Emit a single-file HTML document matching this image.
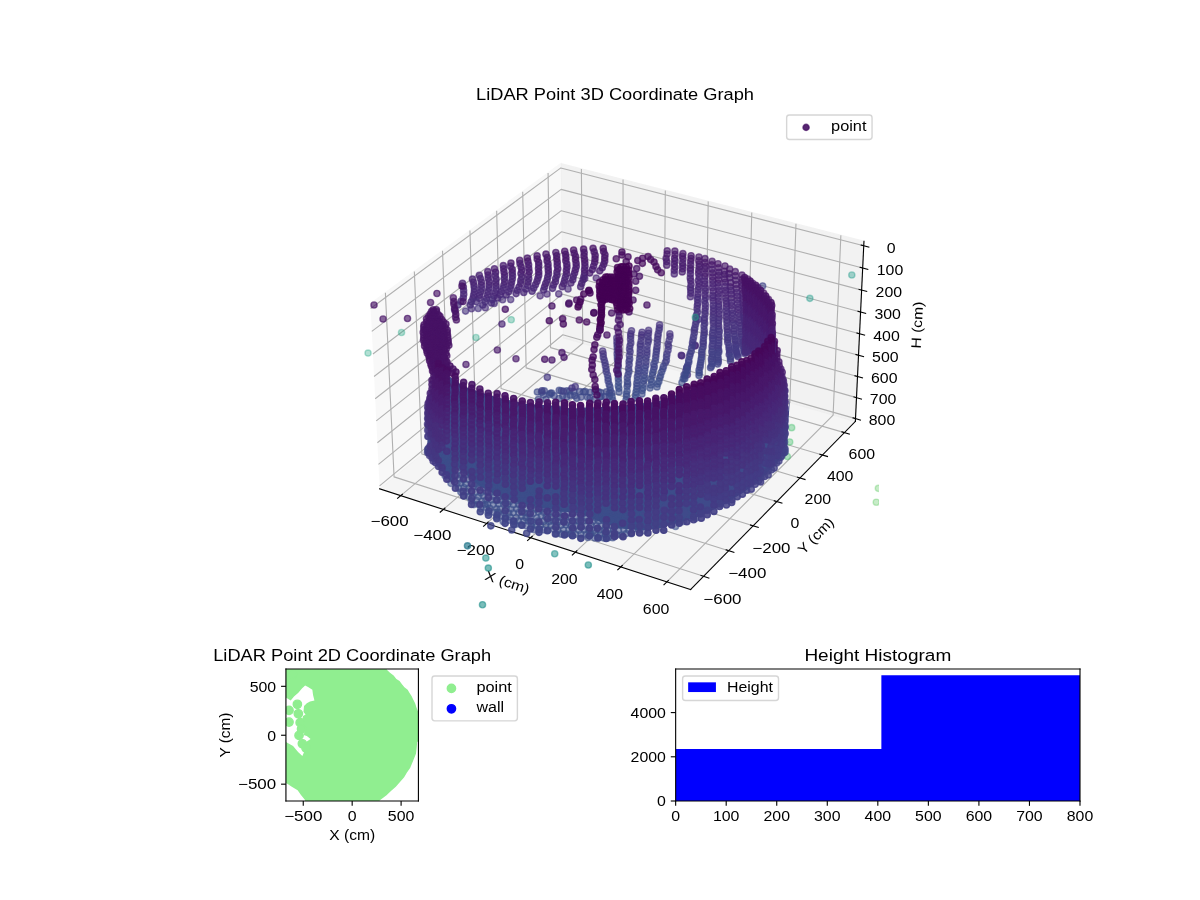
<!DOCTYPE html>
<html><head><meta charset="utf-8"><title>LiDAR Point Graphs</title><style>body{margin:0;background:#fff;overflow:hidden}svg{display:block;will-change:transform}#SCATTER3D circle{r:2.236px;stroke-width:1px}#SCATTER2D circle{r:3px;stroke-width:1px;fill:#90ee90;stroke:#90ee90}.c0{fill:#22a785;stroke:#22a785;fill-opacity:0.35;stroke-opacity:0.35}.c1{fill:#1e9c89;stroke:#1e9c89;fill-opacity:0.40;stroke-opacity:0.40}.c2{fill:#46c06f;stroke:#46c06f;fill-opacity:0.40;stroke-opacity:0.40}.c3{fill:#5ec962;stroke:#5ec962;fill-opacity:0.35;stroke-opacity:0.35}.c4{fill:#3d4e8a;stroke:#3d4e8a;fill-opacity:0.55;stroke-opacity:0.55}.c5{fill:#46327e;stroke:#46327e;fill-opacity:0.60;stroke-opacity:0.60}.c6{fill:#453781;stroke:#453781;fill-opacity:0.60;stroke-opacity:0.60}.c7{fill:#424086;stroke:#424086;fill-opacity:0.60;stroke-opacity:0.60}.c8{fill:#404588;stroke:#404588;fill-opacity:0.60;stroke-opacity:0.60}.c9{fill:#3e4989;stroke:#3e4989;fill-opacity:0.60;stroke-opacity:0.60}.c10{fill:#471365;stroke:#471365;fill-opacity:0.70;stroke-opacity:0.70}.c11{fill:#472d7b;stroke:#472d7b;fill-opacity:0.65;stroke-opacity:0.65}.c12{fill:#46327e;stroke:#46327e;fill-opacity:0.65;stroke-opacity:0.65}.c13{fill:#453781;stroke:#453781;fill-opacity:0.65;stroke-opacity:0.65}.c14{fill:#443b84;stroke:#443b84;fill-opacity:0.65;stroke-opacity:0.65}.c15{fill:#424086;stroke:#424086;fill-opacity:0.65;stroke-opacity:0.65}.c16{fill:#404588;stroke:#404588;fill-opacity:0.65;stroke-opacity:0.65}.c17{fill:#482878;stroke:#482878;fill-opacity:0.65;stroke-opacity:0.65}.c18{fill:#482374;stroke:#482374;fill-opacity:0.70;stroke-opacity:0.70}.c19{fill:#482878;stroke:#482878;fill-opacity:0.70;stroke-opacity:0.70}.c20{fill:#472d7b;stroke:#472d7b;fill-opacity:0.70;stroke-opacity:0.70}.c21{fill:#472d7b;stroke:#472d7b;fill-opacity:0.60;stroke-opacity:0.60}.c22{fill:#481d6f;stroke:#481d6f;fill-opacity:0.70;stroke-opacity:0.70}.c23{fill:#48186a;stroke:#48186a;fill-opacity:0.70;stroke-opacity:0.70}.c24{fill:#482878;stroke:#482878;fill-opacity:0.60;stroke-opacity:0.60}.c25{fill:#482374;stroke:#482374;fill-opacity:0.60;stroke-opacity:0.60}.c26{fill:#471365;stroke:#471365;fill-opacity:0.80;stroke-opacity:0.80}.c27{fill:#471365;stroke:#471365;fill-opacity:0.65;stroke-opacity:0.65}.c28{fill:#48186a;stroke:#48186a;fill-opacity:0.65;stroke-opacity:0.65}.c29{fill:#482374;stroke:#482374;fill-opacity:0.65;stroke-opacity:0.65}.c30{fill:#470d60;stroke:#470d60;fill-opacity:0.75;stroke-opacity:0.75}.c31{fill:#470d60;stroke:#470d60;fill-opacity:0.70;stroke-opacity:0.70}.c32{fill:#46075a;stroke:#46075a;fill-opacity:0.80;stroke-opacity:0.80}.c33{fill:#404588;stroke:#404588;fill-opacity:0.80;stroke-opacity:0.80}.c34{fill:#481d6f;stroke:#481d6f;fill-opacity:0.65;stroke-opacity:0.65}.c35{fill:#46327e;stroke:#46327e;fill-opacity:0.70;stroke-opacity:0.70}.c36{fill:#453781;stroke:#453781;fill-opacity:0.70;stroke-opacity:0.70}.c37{fill:#443b84;stroke:#443b84;fill-opacity:0.70;stroke-opacity:0.70}.c38{fill:#424086;stroke:#424086;fill-opacity:0.70;stroke-opacity:0.70}.c39{fill:#443b84;stroke:#443b84;fill-opacity:0.60;stroke-opacity:0.60}.c40{fill:#3d4e8a;stroke:#3d4e8a;fill-opacity:0.60;stroke-opacity:0.60}.c41{fill:#3e4989;stroke:#3e4989;fill-opacity:0.65;stroke-opacity:0.65}.c42{fill:#482374;stroke:#482374;fill-opacity:0.75;stroke-opacity:0.75}.c43{fill:#482878;stroke:#482878;fill-opacity:0.75;stroke-opacity:0.75}.c44{fill:#472d7b;stroke:#472d7b;fill-opacity:0.75;stroke-opacity:0.75}.c45{fill:#46327e;stroke:#46327e;fill-opacity:0.75;stroke-opacity:0.75}.c46{fill:#453781;stroke:#453781;fill-opacity:0.75;stroke-opacity:0.75}.c47{fill:#443b84;stroke:#443b84;fill-opacity:0.75;stroke-opacity:0.75}.c48{fill:#471365;stroke:#471365;fill-opacity:0.75;stroke-opacity:0.75}.c49{fill:#48186a;stroke:#48186a;fill-opacity:0.75;stroke-opacity:0.75}.c50{fill:#481d6f;stroke:#481d6f;fill-opacity:0.75;stroke-opacity:0.75}.c51{fill:#424086;stroke:#424086;fill-opacity:0.75;stroke-opacity:0.75}.c52{fill:#46075a;stroke:#46075a;fill-opacity:0.75;stroke-opacity:0.75}.c53{fill:#48186a;stroke:#48186a;fill-opacity:0.80;stroke-opacity:0.80}.c54{fill:#481d6f;stroke:#481d6f;fill-opacity:0.80;stroke-opacity:0.80}.c55{fill:#482374;stroke:#482374;fill-opacity:0.80;stroke-opacity:0.80}.c56{fill:#482878;stroke:#482878;fill-opacity:0.80;stroke-opacity:0.80}.c57{fill:#472d7b;stroke:#472d7b;fill-opacity:0.80;stroke-opacity:0.80}.c58{fill:#471365;stroke:#471365;fill-opacity:0.60;stroke-opacity:0.60}.c59{fill:#48186a;stroke:#48186a;fill-opacity:0.60;stroke-opacity:0.60}.c60{fill:#481d6f;stroke:#481d6f;fill-opacity:0.60;stroke-opacity:0.60}.c61{fill:#440154;stroke:#440154;fill-opacity:0.75;stroke-opacity:0.75}.c62{fill:#440154;stroke:#440154;fill-opacity:0.80;stroke-opacity:0.80}.c63{fill:#470d60;stroke:#470d60;fill-opacity:0.80;stroke-opacity:0.80}.c64{fill:#46327e;stroke:#46327e;fill-opacity:0.80;stroke-opacity:0.80}.c65{fill:#453781;stroke:#453781;fill-opacity:0.80;stroke-opacity:0.80}.c66{fill:#443b84;stroke:#443b84;fill-opacity:0.80;stroke-opacity:0.80}.c67{fill:#424086;stroke:#424086;fill-opacity:0.80;stroke-opacity:0.80}.c68{fill:#22a785;stroke:#22a785;fill-opacity:0.40;stroke-opacity:0.40}.c69{fill:#470d60;stroke:#470d60;fill-opacity:0.85;stroke-opacity:0.85}.c70{fill:#471365;stroke:#471365;fill-opacity:0.85;stroke-opacity:0.85}.c71{fill:#48186a;stroke:#48186a;fill-opacity:0.85;stroke-opacity:0.85}.c72{fill:#481d6f;stroke:#481d6f;fill-opacity:0.85;stroke-opacity:0.85}.c73{fill:#482374;stroke:#482374;fill-opacity:0.85;stroke-opacity:0.85}.c74{fill:#482878;stroke:#482878;fill-opacity:0.85;stroke-opacity:0.85}.c75{fill:#472d7b;stroke:#472d7b;fill-opacity:0.85;stroke-opacity:0.85}.c76{fill:#46327e;stroke:#46327e;fill-opacity:0.85;stroke-opacity:0.85}.c77{fill:#453781;stroke:#453781;fill-opacity:0.85;stroke-opacity:0.85}.c78{fill:#443b84;stroke:#443b84;fill-opacity:0.85;stroke-opacity:0.85}.c79{fill:#424086;stroke:#424086;fill-opacity:0.85;stroke-opacity:0.85}.c80{fill:#46075a;stroke:#46075a;fill-opacity:0.85;stroke-opacity:0.85}.c81{fill:#404588;stroke:#404588;fill-opacity:0.85;stroke-opacity:0.85}.c82{fill:#297a8e;stroke:#297a8e;fill-opacity:0.70;stroke-opacity:0.70}.c83{fill:#21918c;stroke:#21918c;fill-opacity:0.55;stroke-opacity:0.55}.c84{fill:#21918c;stroke:#21918c;fill-opacity:0.60;stroke-opacity:0.60}.c85{fill:#471365;stroke:#471365;fill-opacity:0.90;stroke-opacity:0.90}.c86{fill:#48186a;stroke:#48186a;fill-opacity:0.90;stroke-opacity:0.90}.c87{fill:#481d6f;stroke:#481d6f;fill-opacity:0.90;stroke-opacity:0.90}.c88{fill:#482374;stroke:#482374;fill-opacity:0.90;stroke-opacity:0.90}.c89{fill:#482878;stroke:#482878;fill-opacity:0.90;stroke-opacity:0.90}.c90{fill:#472d7b;stroke:#472d7b;fill-opacity:0.90;stroke-opacity:0.90}.c91{fill:#46327e;stroke:#46327e;fill-opacity:0.90;stroke-opacity:0.90}.c92{fill:#453781;stroke:#453781;fill-opacity:0.90;stroke-opacity:0.90}.c93{fill:#443b84;stroke:#443b84;fill-opacity:0.90;stroke-opacity:0.90}.c94{fill:#424086;stroke:#424086;fill-opacity:0.90;stroke-opacity:0.90}.c95{fill:#404588;stroke:#404588;fill-opacity:0.90;stroke-opacity:0.90}.c96{fill:#46075a;stroke:#46075a;fill-opacity:0.90;stroke-opacity:0.90}.c97{fill:#470d60;stroke:#470d60;fill-opacity:0.90;stroke-opacity:0.90}.c98{fill:#470d60;stroke:#470d60;fill-opacity:0.95;stroke-opacity:0.95}.c99{fill:#471365;stroke:#471365;fill-opacity:0.95;stroke-opacity:0.95}.c100{fill:#48186a;stroke:#48186a;fill-opacity:0.95;stroke-opacity:0.95}.c101{fill:#481d6f;stroke:#481d6f;fill-opacity:0.95;stroke-opacity:0.95}.c102{fill:#482374;stroke:#482374;fill-opacity:0.95;stroke-opacity:0.95}.c103{fill:#482878;stroke:#482878;fill-opacity:0.95;stroke-opacity:0.95}.c104{fill:#472d7b;stroke:#472d7b;fill-opacity:0.95;stroke-opacity:0.95}.c105{fill:#46327e;stroke:#46327e;fill-opacity:0.95;stroke-opacity:0.95}.c106{fill:#453781;stroke:#453781;fill-opacity:0.95;stroke-opacity:0.95}.c107{fill:#443b84;stroke:#443b84;fill-opacity:0.95;stroke-opacity:0.95}.c108{fill:#424086;stroke:#424086;fill-opacity:0.95;stroke-opacity:0.95}.c109{fill:#404588;stroke:#404588;fill-opacity:0.95;stroke-opacity:0.95}.c110{fill:#46075a;stroke:#46075a;fill-opacity:0.95;stroke-opacity:0.95}</style></head><body>
<svg width="1200" height="900" viewBox="0 0 864 648" version="1.1">
<defs>
<style type="text/css">*{stroke-linejoin: round; stroke-linecap: butt}</style>
</defs>
<g id="figure_1">
<g id="patch_1">
<path d="M 0 648
L 864 648
L 864 0
L 0 0
z
" style="fill: #ffffff"/>
</g>
<g id="patch_2">
<path d="M 252.72 457.92
L 632.88 457.92
L 632.88 77.76
L 252.72 77.76
z
" style="fill: #ffffff"/>
</g>
<g id="pane3d_1">
<g id="patch_3">
<path d="M 266.682721 218.755904
L 403.766165 117.793771
L 405.259277 243.004154
L 273.381637 351.924073
" style="fill: #f2f2f2; opacity: 0.5; stroke: #f2f2f2; stroke-linejoin: miter"/>
</g>
</g>
<g id="pane3d_2">
<g id="patch_4">
<path d="M 403.766165 117.793771
L 622.045246 173.710173
L 615.855154 303.415894
L 405.259277 243.004154
" style="fill: #e6e6e6; opacity: 0.5; stroke: #e6e6e6; stroke-linejoin: miter"/>
</g>
</g>
<g id="pane3d_3">
<g id="patch_5">
<path d="M 273.381637 351.924073
L 497.254139 424.492779
L 615.855154 303.415894
L 405.259277 243.004154
" style="fill: #ececec; opacity: 0.5; stroke: #ececec; stroke-linejoin: miter"/>
</g>
</g>
<g id="grid3d_1">
<g id="Line3DCollection_1">
<path d="M 288.551702 356.841478
L 419.594289 247.11631
L 418.599077 121.593507
" style="fill: none; stroke: #b0b0b0; stroke-width: 0.8"/>
<path d="M 319.24543 366.79091
L 448.569614 255.4282
L 448.59198 129.276769
" style="fill: none; stroke: #b0b0b0; stroke-width: 0.8"/>
<path d="M 350.419853 376.89616
L 477.959284 263.858949
L 479.029061 137.073815
" style="fill: none; stroke: #b0b0b0; stroke-width: 0.8"/>
<path d="M 382.086354 387.160917
L 507.77225 272.411126
L 509.920262 144.987193
" style="fill: none; stroke: #b0b0b0; stroke-width: 0.8"/>
<path d="M 414.256674 397.588989
L 538.017723 281.087372
L 541.275822 153.019525
" style="fill: none; stroke: #b0b0b0; stroke-width: 0.8"/>
<path d="M 446.942935 408.184304
L 568.705184 289.890407
L 573.10629 161.173515
" style="fill: none; stroke: #b0b0b0; stroke-width: 0.8"/>
<path d="M 480.157649 418.950918
L 599.844393 298.823031
L 605.422539 169.451946
" style="fill: none; stroke: #b0b0b0; stroke-width: 0.8"/>
</g>
</g>
<g id="grid3d_2">
<g id="Line3DCollection_2">
<path d="M 277.481047 210.802923
L 283.738628 343.370063
L 506.610126 414.941479
" style="fill: none; stroke: #b0b0b0; stroke-width: 0.8"/>
<path d="M 298.324514 195.451683
L 303.745289 326.846232
L 524.662954 396.511788
" style="fill: none; stroke: #b0b0b0; stroke-width: 0.8"/>
<path d="M 318.611438 180.510337
L 323.236856 310.747825
L 542.22545 378.582663
" style="fill: none; stroke: #b0b0b0; stroke-width: 0.8"/>
<path d="M 338.363815 165.962686
L 342.23297 295.058621
L 559.317326 361.133984
" style="fill: none; stroke: #b0b0b0; stroke-width: 0.8"/>
<path d="M 357.602499 151.79337
L 360.752284 279.763214
L 575.957246 344.146695
" style="fill: none; stroke: #b0b0b0; stroke-width: 0.8"/>
<path d="M 376.347272 137.987821
L 378.812527 264.846961
L 592.162904 327.602734
" style="fill: none; stroke: #b0b0b0; stroke-width: 0.8"/>
<path d="M 394.616912 124.532207
L 396.43056 250.295937
L 607.951081 311.484969
" style="fill: none; stroke: #b0b0b0; stroke-width: 0.8"/>
</g>
</g>
<g id="grid3d_3">
<g id="Line3DCollection_3">
<path d="M 621.891374 176.934368
L 403.803215 120.900723
L 266.849478 222.070878
" style="fill: none; stroke: #b0b0b0; stroke-width: 0.8"/>
<path d="M 621.126076 192.970234
L 403.987536 136.357629
L 267.678682 238.554672
" style="fill: none; stroke: #b0b0b0; stroke-width: 0.8"/>
<path d="M 620.367483 208.86562
L 404.170323 151.685964
L 268.500326 254.888195
" style="fill: none; stroke: #b0b0b0; stroke-width: 0.8"/>
<path d="M 619.615506 224.622365
L 404.351597 166.887325
L 269.314515 271.073493
" style="fill: none; stroke: #b0b0b0; stroke-width: 0.8"/>
<path d="M 618.870059 240.242275
L 404.531375 181.963285
L 270.121348 287.112573
" style="fill: none; stroke: #b0b0b0; stroke-width: 0.8"/>
<path d="M 618.131058 255.727125
L 404.709676 196.915387
L 270.920924 303.007409
" style="fill: none; stroke: #b0b0b0; stroke-width: 0.8"/>
<path d="M 617.39842 271.078658
L 404.886519 211.745153
L 271.713343 318.759938
" style="fill: none; stroke: #b0b0b0; stroke-width: 0.8"/>
<path d="M 616.672062 286.29859
L 405.06192 226.454077
L 272.498698 334.372063
" style="fill: none; stroke: #b0b0b0; stroke-width: 0.8"/>
<path d="M 615.951904 301.388604
L 405.235898 241.043631
L 273.277084 349.845651
" style="fill: none; stroke: #b0b0b0; stroke-width: 0.8"/>
</g>
</g>
<g id="axis3d_1">
<g id="line2d_1">
<path d="M 273.381637 351.924073
L 497.254139 424.492779
" style="fill: none; stroke: #000000; stroke-width: 0.8; stroke-linecap: square"/>
</g>
<g id="xtick_1">
<g id="line2d_2">
<path d="M 289.69743 355.882132
L 286.255083 358.764493
" style="fill: none; stroke: #000000; stroke-width: 0.8; stroke-linecap: square"/>
</g>
<g id="text_1">
<text style="font-size: 10px; font-family: 'Liberation Sans', sans-serif; text-anchor: middle" x="280.544485" y="378.924494" transform="rotate(-0 280.544485 378.924494)" textLength="27.47" lengthAdjust="spacingAndGlyphs">−600</text>
</g>
</g>
<g id="xtick_2">
<g id="line2d_3">
<path d="M 320.37688 365.816604
L 316.977392 368.743946
" style="fill: none; stroke: #000000; stroke-width: 0.8; stroke-linecap: square"/>
</g>
<g id="text_2">
<text style="font-size: 10px; font-family: 'Liberation Sans', sans-serif; text-anchor: middle" x="311.277844" y="389.019921" transform="rotate(-0 311.277844 389.019921)" textLength="27.47" lengthAdjust="spacingAndGlyphs">−400</text>
</g>
</g>
<g id="xtick_3">
<g id="line2d_4">
<path d="M 351.536436 375.906541
L 348.181578 378.879926
" style="fill: none; stroke: #000000; stroke-width: 0.8; stroke-linecap: square"/>
</g>
<g id="text_3">
<text style="font-size: 10px; font-family: 'Liberation Sans', sans-serif; text-anchor: middle" x="342.494133" y="399.273982" transform="rotate(-0 342.494133 399.273982)" textLength="27.47" lengthAdjust="spacingAndGlyphs">−200</text>
</g>
</g>
<g id="xtick_4">
<g id="line2d_5">
<path d="M 383.187457 386.155622
L 379.879068 389.176144
" style="fill: none; stroke: #000000; stroke-width: 0.8; stroke-linecap: square"/>
</g>
<g id="text_4">
<text style="font-size: 10px; font-family: 'Liberation Sans', sans-serif; text-anchor: middle" x="374.204823" y="409.690446" transform="rotate(-0 374.204823 409.690446)" textLength="6.36" lengthAdjust="spacingAndGlyphs">0</text>
</g>
</g>
<g id="xtick_5">
<g id="line2d_6">
<path d="M 415.341663 396.567642
L 412.081652 399.636431
" style="fill: none; stroke: #000000; stroke-width: 0.8; stroke-linecap: square"/>
</g>
<g id="text_5">
<text style="font-size: 10px; font-family: 'Liberation Sans', sans-serif; text-anchor: middle" x="406.421753" y="420.273202" transform="rotate(-0 406.421753 420.273202)" textLength="19.09" lengthAdjust="spacingAndGlyphs">200</text>
</g>
</g>
<g id="xtick_6">
<g id="line2d_7">
<path d="M 448.01115 407.146518
L 444.801501 410.26474
" style="fill: none; stroke: #000000; stroke-width: 0.8; stroke-linecap: square"/>
</g>
<g id="text_6">
<text style="font-size: 10px; font-family: 'Liberation Sans', sans-serif; text-anchor: middle" x="439.157146" y="431.026265" transform="rotate(-0 439.157146 431.026265)" textLength="19.09" lengthAdjust="spacingAndGlyphs">400</text>
</g>
</g>
<g id="xtick_7">
<g id="line2d_8">
<path d="M 481.208402 417.896292
L 478.051179 421.065152
" style="fill: none; stroke: #000000; stroke-width: 0.8; stroke-linecap: square"/>
</g>
<g id="text_7">
<text style="font-size: 10px; font-family: 'Liberation Sans', sans-serif; text-anchor: middle" x="472.423616" y="441.953779" transform="rotate(-0 472.423616 441.953779)" textLength="19.09" lengthAdjust="spacingAndGlyphs">600</text>
</g>
</g>
<g id="text_8">
<text style="font-size: 10px; font-family: 'Liberation Sans', sans-serif; text-anchor: middle" x="364.169584" y="422.419328" transform="rotate(-342.039797 364.169584 422.419328)" textLength="33.07" lengthAdjust="spacingAndGlyphs">X (cm)</text>
</g>
</g>
<g id="axis3d_2">
<g id="line2d_9">
<path d="M 615.855154 303.415894
L 497.254139 424.492779
" style="fill: none; stroke: #000000; stroke-width: 0.8; stroke-linecap: square"/>
</g>
<g id="xtick_8">
<g id="line2d_10">
<path d="M 504.727293 414.336839
L 510.380903 416.1524
" style="fill: none; stroke: #000000; stroke-width: 0.8; stroke-linecap: square"/>
</g>
<g id="text_9">
<text style="font-size: 10px; font-family: 'Liberation Sans', sans-serif; text-anchor: middle" x="520.167634" y="434.618741" transform="rotate(-0 520.167634 434.618741)" textLength="27.47" lengthAdjust="spacingAndGlyphs">−600</text>
</g>
</g>
<g id="xtick_9">
<g id="line2d_11">
<path d="M 522.797989 395.923678
L 528.397875 397.689581
" style="fill: none; stroke: #000000; stroke-width: 0.8; stroke-linecap: square"/>
</g>
<g id="text_10">
<text style="font-size: 10px; font-family: 'Liberation Sans', sans-serif; text-anchor: middle" x="538.051943" y="416.003881" transform="rotate(-0 538.051943 416.003881)" textLength="27.47" lengthAdjust="spacingAndGlyphs">−400</text>
</g>
</g>
<g id="xtick_10">
<g id="line2d_12">
<path d="M 540.378084 378.010415
L 545.92506 379.72867
" style="fill: none; stroke: #000000; stroke-width: 0.8; stroke-linecap: square"/>
</g>
<g id="text_11">
<text style="font-size: 10px; font-family: 'Liberation Sans', sans-serif; text-anchor: middle" x="555.450012" y="397.895124" transform="rotate(-0 555.450012 397.895124)" textLength="27.47" lengthAdjust="spacingAndGlyphs">−200</text>
</g>
</g>
<g id="xtick_11">
<g id="line2d_13">
<path d="M 557.487291 360.576965
L 562.982162 362.249474
" style="fill: none; stroke: #000000; stroke-width: 0.8; stroke-linecap: square"/>
</g>
<g id="text_12">
<text style="font-size: 10px; font-family: 'Liberation Sans', sans-serif; text-anchor: middle" x="572.381406" y="380.272105" transform="rotate(-0 572.381406 380.272105)" textLength="6.36" lengthAdjust="spacingAndGlyphs">0</text>
</g>
</g>
<g id="xtick_12">
<g id="line2d_14">
<path d="M 574.144278 343.604304
L 579.587843 345.232871
" style="fill: none; stroke: #000000; stroke-width: 0.8; stroke-linecap: square"/>
</g>
<g id="text_13">
<text style="font-size: 10px; font-family: 'Liberation Sans', sans-serif; text-anchor: middle" x="588.864652" y="363.11554" transform="rotate(-0 588.864652 363.11554)" textLength="19.09" lengthAdjust="spacingAndGlyphs">200</text>
</g>
</g>
<g id="xtick_13">
<g id="line2d_15">
<path d="M 590.36674 327.074403
L 595.759788 328.660736
" style="fill: none; stroke: #000000; stroke-width: 0.8; stroke-linecap: square"/>
</g>
<g id="text_14">
<text style="font-size: 10px; font-family: 'Liberation Sans', sans-serif; text-anchor: middle" x="604.91731" y="346.407151" transform="rotate(-0 604.91731 346.407151)" textLength="19.09" lengthAdjust="spacingAndGlyphs">400</text>
</g>
</g>
<g id="xtick_14">
<g id="line2d_16">
<path d="M 606.171463 310.970158
L 611.514772 312.51588
" style="fill: none; stroke: #000000; stroke-width: 0.8; stroke-linecap: square"/>
</g>
<g id="text_15">
<text style="font-size: 10px; font-family: 'Liberation Sans', sans-serif; text-anchor: middle" x="620.556036" y="330.129604" transform="rotate(-0 620.556036 330.129604)" textLength="19.09" lengthAdjust="spacingAndGlyphs">600</text>
</g>
</g>
<g id="text_16">
<text style="font-size: 10px; font-family: 'Liberation Sans', sans-serif; text-anchor: middle" x="589.746468" y="388.153905" transform="rotate(-45.591844 589.746468 388.153905)" textLength="32.33" lengthAdjust="spacingAndGlyphs">Y (cm)</text>
</g>
</g>
<g id="axis3d_3">
<g id="line2d_17">
<path d="M 615.855154 303.415894
L 622.045246 173.710173
" style="fill: none; stroke: #000000; stroke-width: 0.8; stroke-linecap: square"/>
</g>
<g id="xtick_15">
<g id="line2d_18">
<path d="M 620.05387 176.462256
L 625.571118 177.879809
" style="fill: none; stroke: #000000; stroke-width: 0.8; stroke-linecap: square"/>
</g>
<g id="text_17">
<text style="font-size: 10px; font-family: 'Liberation Sans', sans-serif; text-anchor: middle" x="641.65493" y="182.020263" transform="rotate(-0 641.65493 182.020263)" textLength="6.36" lengthAdjust="spacingAndGlyphs">0</text>
</g>
</g>
<g id="xtick_16">
<g id="line2d_19">
<path d="M 619.296979 192.493349
L 624.788963 193.925226
" style="fill: none; stroke: #000000; stroke-width: 0.8; stroke-linecap: square"/>
</g>
<g id="text_18">
<text style="font-size: 10px; font-family: 'Liberation Sans', sans-serif; text-anchor: middle" x="640.804621" y="198.030711" transform="rotate(-0 640.804621 198.030711)" textLength="19.09" lengthAdjust="spacingAndGlyphs">100</text>
</g>
</g>
<g id="xtick_17">
<g id="line2d_20">
<path d="M 618.546717 208.384065
L 624.013666 209.82996
" style="fill: none; stroke: #000000; stroke-width: 0.8; stroke-linecap: square"/>
</g>
<g id="text_19">
<text style="font-size: 10px; font-family: 'Liberation Sans', sans-serif; text-anchor: middle" x="639.961744" y="213.90122" transform="rotate(-0 639.961744 213.90122)" textLength="19.09" lengthAdjust="spacingAndGlyphs">200</text>
</g>
</g>
<g id="xtick_18">
<g id="line2d_21">
<path d="M 617.802995 224.136239
L 623.245137 225.595854
" style="fill: none; stroke: #000000; stroke-width: 0.8; stroke-linecap: square"/>
</g>
<g id="text_20">
<text style="font-size: 10px; font-family: 'Liberation Sans', sans-serif; text-anchor: middle" x="639.126202" y="229.633617" transform="rotate(-0 639.126202 229.633617)" textLength="19.09" lengthAdjust="spacingAndGlyphs">300</text>
</g>
</g>
<g id="xtick_19">
<g id="line2d_22">
<path d="M 617.06573 239.751676
L 622.483288 241.224717
" style="fill: none; stroke: #000000; stroke-width: 0.8; stroke-linecap: square"/>
</g>
<g id="text_21">
<text style="font-size: 10px; font-family: 'Liberation Sans', sans-serif; text-anchor: middle" x="638.2979" y="245.229696" transform="rotate(-0 638.2979 245.229696)" textLength="19.09" lengthAdjust="spacingAndGlyphs">400</text>
</g>
</g>
<g id="xtick_20">
<g id="line2d_23">
<path d="M 616.334836 255.232147
L 621.728031 256.718329
" style="fill: none; stroke: #000000; stroke-width: 0.8; stroke-linecap: square"/>
</g>
<g id="text_22">
<text style="font-size: 10px; font-family: 'Liberation Sans', sans-serif; text-anchor: middle" x="637.476744" y="260.691223" transform="rotate(-0 637.476744 260.691223)" textLength="19.09" lengthAdjust="spacingAndGlyphs">500</text>
</g>
</g>
<g id="xtick_21">
<g id="line2d_24">
<path d="M 615.610233 270.579395
L 620.979283 272.078438
" style="fill: none; stroke: #000000; stroke-width: 0.8; stroke-linecap: square"/>
</g>
<g id="text_23">
<text style="font-size: 10px; font-family: 'Liberation Sans', sans-serif; text-anchor: middle" x="636.662642" y="276.019929" transform="rotate(-0 636.662642 276.019929)" textLength="19.09" lengthAdjust="spacingAndGlyphs">600</text>
</g>
</g>
<g id="xtick_22">
<g id="line2d_25">
<path d="M 614.891839 285.795133
L 620.236958 287.306762
" style="fill: none; stroke: #000000; stroke-width: 0.8; stroke-linecap: square"/>
</g>
<g id="text_24">
<text style="font-size: 10px; font-family: 'Liberation Sans', sans-serif; text-anchor: middle" x="635.855504" y="291.217521" transform="rotate(-0 635.855504 291.217521)" textLength="19.09" lengthAdjust="spacingAndGlyphs">700</text>
</g>
</g>
<g id="xtick_23">
<g id="line2d_26">
<path d="M 614.179574 300.881043
L 619.500976 302.404989
" style="fill: none; stroke: #000000; stroke-width: 0.8; stroke-linecap: square"/>
</g>
<g id="text_25">
<text style="font-size: 10px; font-family: 'Liberation Sans', sans-serif; text-anchor: middle" x="635.05524" y="306.285672" transform="rotate(-0 635.05524 306.285672)" textLength="19.09" lengthAdjust="spacingAndGlyphs">800</text>
</g>
</g>
<g id="text_26">
<text style="font-size: 10px; font-family: 'Liberation Sans', sans-serif; text-anchor: middle" x="663.779731" y="234.208749" transform="rotate(-87.267682 663.779731 234.208749)" textLength="33.74" lengthAdjust="spacingAndGlyphs">H (cm)</text>
</g>
</g>
<g id="axes_1">
<g id="SCATTER3D">
<defs>
<path id="ma6bd53de34" d="M 0 2.236068
C 0.593012 2.236068 1.161816 2.000462 1.581139 1.581139
C 2.000462 1.161816 2.236068 0.593012 2.236068 0
C 2.236068 -0.593012 2.000462 -1.161816 1.581139 -1.581139
C 1.161816 -2.000462 0.593012 -2.236068 0 -2.236068
C -0.593012 -2.236068 -1.161816 -2.000462 -1.581139 -1.581139
C -2.000462 -1.161816 -2.236068 -0.593012 -2.236068 0
C -2.236068 0.593012 -2.000462 1.161816 -1.581139 1.581139
C -1.161816 2.000462 -0.593012 2.236068 0 2.236068
z
" style="stroke: #450e63; stroke-opacity: 0.7"/>
</defs>
<g clip-path="url(#pcbff7d88e8)">
<circle class="c0" cx="265.0" cy="254.2" r="2.236"/>
<circle class="c0" cx="289.1" cy="239.4" r="2.236"/>
<circle class="c0" cx="342.7" cy="243.0" r="2.236"/>
<circle class="c0" cx="368.1" cy="230.2" r="2.236"/>
<circle class="c1" cx="613.3" cy="198.0" r="2.236"/>
<circle class="c1" cx="583.1" cy="214.8" r="2.236"/>
<circle class="c2" cx="570.0" cy="307.9" r="2.236"/>
<circle class="c2" cx="568.6" cy="318.2" r="2.236"/>
<circle class="c2" cx="566.9" cy="328.7" r="2.236"/>
<circle class="c3" cx="632.4" cy="351.6" r="2.236"/>
<circle class="c3" cx="630.9" cy="361.6" r="2.236"/>
<defs><linearGradient id="gfill" x1="0" y1="0" x2="0" y2="1"><stop offset="0" stop-color="#41408a"/><stop offset="0.3" stop-color="#3e4a8a"/><stop offset="1" stop-color="#3f4a8a"/></linearGradient></defs><path d="M308.2 293.8 310.3 281.8 312.5 269.8 314.6 265.0 316.8 265.0 319.0 267.1 321.1 269.3 323.3 270.8 325.4 272.3 327.6 273.8 329.8 275.3 331.9 276.8 334.1 278.2 336.2 279.0 338.4 279.7 340.6 280.5 342.7 281.2 344.9 282.0 347.0 282.7 349.2 283.4 351.4 284.1 353.5 284.8 355.7 285.5 357.8 286.0 360.0 286.5 362.2 287.0 364.3 287.5 366.5 288.0 368.6 288.5 370.8 288.9 373.0 289.4 375.1 289.9 377.3 290.3 379.4 290.8 381.6 290.9 383.8 291.1 385.9 291.2 388.1 291.4 390.2 291.5 392.4 291.7 394.6 291.8 396.7 292.0 398.9 292.1 401.0 292.2 403.2 292.5 405.4 293.0 407.5 293.4 409.7 293.9 411.8 294.2 414.0 294.0 416.2 293.9 418.3 293.7 420.5 293.5 422.6 293.3 424.8 293.2 427.0 293.2 429.1 293.2 431.3 293.1 433.4 293.1 435.6 293.0 437.8 292.9 439.9 292.7 442.1 292.6 444.2 292.4 446.4 292.2 448.6 292.0 450.7 291.7 452.9 291.4 455.0 291.1 457.2 290.9 459.4 290.7 461.5 290.5 463.7 290.2 465.8 290.0 468.0 289.8 470.2 289.6 472.3 289.4 474.5 288.7 476.6 288.0 478.8 287.3 481.0 286.6 483.1 285.8 485.3 285.1 487.4 284.3 489.6 283.5 491.8 282.7 493.9 281.9 496.1 281.1 498.2 280.1 500.4 279.0 502.6 277.9 504.7 276.8 506.9 275.8 509.0 274.7 511.2 273.8 513.4 272.9 515.5 272.0 517.7 271.0 519.8 270.1 522.0 269.2 524.2 268.3 526.3 267.3 528.5 266.4 530.6 265.2 532.8 263.9 535.0 262.7 537.1 261.5 539.3 260.2 541.4 258.9 543.6 257.6 545.8 256.3 547.9 254.7 550.1 253.1 552.2 250.6 554.4 246.2 556.6 247.3 558.7 253.0 560.9 262.3 563.0 271.4 565.2 283.7 567.4 293.0 565.9 302.4 564.5 316.8 568.8 286.0 566.6 320.7 564.5 324.4 562.3 328.2 560.2 331.7 558.0 334.2 555.8 336.7 553.7 339.2 551.5 341.7 549.4 343.5 547.2 345.2 545.0 346.9 542.9 348.6 540.7 350.4 538.6 352.1 536.4 353.8 534.2 355.3 532.1 356.6 529.9 357.9 527.8 359.2 525.6 360.5 523.4 361.8 521.3 363.1 519.1 364.3 517.0 365.4 514.8 366.4 512.6 367.5 510.5 368.6 508.3 369.7 506.2 370.7 504.0 371.7 501.8 372.3 499.7 373.0 497.5 373.6 495.4 374.3 493.2 374.9 491.0 375.6 488.9 376.2 486.7 376.9 484.6 377.5 482.4 378.2 480.2 378.8 478.1 379.5 475.9 380.1 473.8 380.8 471.6 381.1 469.4 381.3 467.3 381.5 465.1 381.7 463.0 381.9 460.8 382.2 458.6 381.6 456.5 381.2 454.3 381.1 452.2 380.9 450.0 380.7 447.8 380.5 445.7 380.1 443.5 379.4 441.4 378.8 439.2 378.1 437.0 377.5 434.9 376.8 432.7 376.0 430.6 375.1 428.4 374.2 426.2 373.3 424.1 372.4 421.9 371.5 419.8 370.6 417.6 369.6 415.4 369.4 413.3 369.2 411.1 368.9 409.0 368.7 406.8 368.5 404.6 368.3 402.5 368.0 400.3 367.4 398.2 367.0 396.0 366.6 393.8 366.3 391.7 365.9 389.5 365.5 387.4 365.2 385.2 364.8 383.0 364.3 380.9 363.8 378.7 363.2 376.6 362.7 374.4 362.1 372.2 361.6 370.1 361.0 367.9 360.2 365.8 359.5 363.6 358.7 361.4 358.0 359.3 357.2 357.1 356.2 355.0 355.1 352.8 354.0 350.6 352.9 348.5 351.8 346.3 350.7 344.2 349.1 342.0 347.3 339.8 345.4 337.7 343.6 335.5 341.7 333.4 339.8 331.2 337.6 329.0 335.4 326.9 349.1 324.7 346.9 322.6 344.7 320.4 341.9 318.2 338.9 316.1 336.0 313.9 333.0 311.8 329.8 309.6 326.6 307.4 323.3 308.2 309.6 308.2 288.0Z" fill="url(#gfill)" />
<circle class="c4" cx="314.2" cy="323.8" r="2.236"/>
<circle class="c4" cx="317.0" cy="323.5" r="2.236"/>
<circle class="c4" cx="321.0" cy="324.5" r="2.236"/>
<circle class="c4" cx="325.0" cy="323.8" r="2.236"/>
<circle class="c4" cx="328.6" cy="323.6" r="2.236"/>
<circle class="c4" cx="332.3" cy="323.8" r="2.236"/>
<circle class="c4" cx="335.8" cy="324.2" r="2.236"/>
<circle class="c4" cx="315.6" cy="327.1" r="2.236"/>
<circle class="c4" cx="318.9" cy="327.0" r="2.236"/>
<circle class="c4" cx="323.3" cy="328.5" r="2.236"/>
<circle class="c4" cx="326.8" cy="327.0" r="2.236"/>
<circle class="c4" cx="329.7" cy="327.4" r="2.236"/>
<circle class="c4" cx="333.1" cy="326.7" r="2.236"/>
<circle class="c4" cx="337.4" cy="326.6" r="2.236"/>
<circle class="c4" cx="314.5" cy="330.4" r="2.236"/>
<circle class="c4" cx="317.3" cy="329.8" r="2.236"/>
<circle class="c4" cx="320.6" cy="329.5" r="2.236"/>
<circle class="c4" cx="324.9" cy="330.3" r="2.236"/>
<circle class="c4" cx="328.4" cy="330.1" r="2.236"/>
<circle class="c4" cx="331.7" cy="330.2" r="2.236"/>
<circle class="c4" cx="335.0" cy="330.0" r="2.236"/>
<circle class="c4" cx="339.6" cy="330.5" r="2.236"/>
<circle class="c4" cx="342.5" cy="329.9" r="2.236"/>
<circle class="c4" cx="316.2" cy="333.7" r="2.236"/>
<circle class="c4" cx="318.8" cy="332.9" r="2.236"/>
<circle class="c4" cx="323.0" cy="333.5" r="2.236"/>
<circle class="c4" cx="326.2" cy="333.3" r="2.236"/>
<circle class="c4" cx="330.0" cy="333.9" r="2.236"/>
<circle class="c4" cx="333.9" cy="333.0" r="2.236"/>
<circle class="c4" cx="337.2" cy="333.4" r="2.236"/>
<circle class="c4" cx="341.1" cy="332.7" r="2.236"/>
<circle class="c4" cx="344.6" cy="332.6" r="2.236"/>
<circle class="c4" cx="317.2" cy="335.6" r="2.236"/>
<circle class="c4" cx="320.6" cy="335.8" r="2.236"/>
<circle class="c4" cx="324.3" cy="336.3" r="2.236"/>
<circle class="c4" cx="328.6" cy="336.0" r="2.236"/>
<circle class="c4" cx="331.5" cy="336.4" r="2.236"/>
<circle class="c4" cx="334.8" cy="335.4" r="2.236"/>
<circle class="c4" cx="339.4" cy="336.3" r="2.236"/>
<circle class="c4" cx="343.1" cy="336.0" r="2.236"/>
<circle class="c4" cx="345.8" cy="335.9" r="2.236"/>
<circle class="c4" cx="350.1" cy="335.8" r="2.236"/>
<circle class="c4" cx="353.3" cy="335.6" r="2.236"/>
<circle class="c4" cx="318.9" cy="339.4" r="2.236"/>
<circle class="c4" cx="323.1" cy="338.7" r="2.236"/>
<circle class="c4" cx="326.1" cy="338.9" r="2.236"/>
<circle class="c4" cx="330.3" cy="338.7" r="2.236"/>
<circle class="c4" cx="333.6" cy="338.3" r="2.236"/>
<circle class="c4" cx="336.8" cy="339.3" r="2.236"/>
<circle class="c4" cx="341.2" cy="338.7" r="2.236"/>
<circle class="c4" cx="344.2" cy="339.4" r="2.236"/>
<circle class="c4" cx="348.0" cy="338.9" r="2.236"/>
<circle class="c4" cx="351.9" cy="339.2" r="2.236"/>
<circle class="c4" cx="355.7" cy="339.4" r="2.236"/>
<circle class="c4" cx="358.7" cy="339.1" r="2.236"/>
<circle class="c4" cx="502.6" cy="339.5" r="2.236"/>
<circle class="c4" cx="320.5" cy="342.5" r="2.236"/>
<circle class="c4" cx="324.8" cy="342.1" r="2.236"/>
<circle class="c4" cx="328.5" cy="342.3" r="2.236"/>
<circle class="c4" cx="332.3" cy="342.0" r="2.236"/>
<circle class="c4" cx="335.4" cy="342.0" r="2.236"/>
<circle class="c4" cx="339.8" cy="342.5" r="2.236"/>
<circle class="c4" cx="342.4" cy="342.0" r="2.236"/>
<circle class="c4" cx="346.0" cy="342.1" r="2.236"/>
<circle class="c4" cx="350.0" cy="343.0" r="2.236"/>
<circle class="c4" cx="352.8" cy="342.5" r="2.236"/>
<circle class="c4" cx="357.3" cy="341.9" r="2.236"/>
<circle class="c4" cx="360.7" cy="342.0" r="2.236"/>
<circle class="c4" cx="364.3" cy="342.5" r="2.236"/>
<circle class="c4" cx="367.4" cy="342.6" r="2.236"/>
<circle class="c4" cx="498.0" cy="342.3" r="2.236"/>
<circle class="c4" cx="322.9" cy="344.9" r="2.236"/>
<circle class="c4" cx="326.7" cy="345.4" r="2.236"/>
<circle class="c4" cx="330.9" cy="344.4" r="2.236"/>
<circle class="c4" cx="333.6" cy="345.5" r="2.236"/>
<circle class="c4" cx="336.9" cy="345.1" r="2.236"/>
<circle class="c4" cx="341.7" cy="345.7" r="2.236"/>
<circle class="c4" cx="344.2" cy="345.7" r="2.236"/>
<circle class="c4" cx="348.5" cy="345.4" r="2.236"/>
<circle class="c4" cx="351.8" cy="345.2" r="2.236"/>
<circle class="c4" cx="355.0" cy="345.0" r="2.236"/>
<circle class="c4" cx="359.2" cy="345.2" r="2.236"/>
<circle class="c4" cx="363.2" cy="345.0" r="2.236"/>
<circle class="c4" cx="365.2" cy="345.0" r="2.236"/>
<circle class="c4" cx="369.8" cy="345.3" r="2.236"/>
<circle class="c4" cx="373.3" cy="344.9" r="2.236"/>
<circle class="c4" cx="377.4" cy="344.9" r="2.236"/>
<circle class="c4" cx="489.0" cy="344.3" r="2.236"/>
<circle class="c4" cx="324.7" cy="348.0" r="2.236"/>
<circle class="c4" cx="329.1" cy="348.1" r="2.236"/>
<circle class="c4" cx="331.9" cy="347.8" r="2.236"/>
<circle class="c4" cx="335.2" cy="348.4" r="2.236"/>
<circle class="c4" cx="339.3" cy="348.2" r="2.236"/>
<circle class="c4" cx="342.5" cy="348.4" r="2.236"/>
<circle class="c4" cx="345.7" cy="348.1" r="2.236"/>
<circle class="c4" cx="349.8" cy="347.9" r="2.236"/>
<circle class="c4" cx="353.6" cy="347.9" r="2.236"/>
<circle class="c4" cx="356.8" cy="348.8" r="2.236"/>
<circle class="c4" cx="361.0" cy="348.6" r="2.236"/>
<circle class="c4" cx="364.3" cy="348.5" r="2.236"/>
<circle class="c4" cx="368.2" cy="348.6" r="2.236"/>
<circle class="c4" cx="372.4" cy="348.1" r="2.236"/>
<circle class="c4" cx="375.2" cy="348.2" r="2.236"/>
<circle class="c4" cx="377.5" cy="347.7" r="2.236"/>
<circle class="c4" cx="382.3" cy="348.4" r="2.236"/>
<circle class="c4" cx="385.7" cy="348.6" r="2.236"/>
<circle class="c4" cx="390.0" cy="348.0" r="2.236"/>
<circle class="c4" cx="393.6" cy="348.8" r="2.236"/>
<circle class="c4" cx="465.6" cy="348.1" r="2.236"/>
<circle class="c4" cx="468.8" cy="348.0" r="2.236"/>
<circle class="c4" cx="476.4" cy="348.4" r="2.236"/>
<circle class="c4" cx="479.5" cy="348.5" r="2.236"/>
<circle class="c4" cx="494.3" cy="348.5" r="2.236"/>
<circle class="c4" cx="330.3" cy="351.5" r="2.236"/>
<circle class="c4" cx="334.0" cy="351.1" r="2.236"/>
<circle class="c4" cx="337.5" cy="351.5" r="2.236"/>
<circle class="c4" cx="341.2" cy="350.1" r="2.236"/>
<circle class="c4" cx="344.2" cy="350.9" r="2.236"/>
<circle class="c4" cx="348.0" cy="351.3" r="2.236"/>
<circle class="c4" cx="352.1" cy="351.4" r="2.236"/>
<circle class="c4" cx="355.3" cy="351.2" r="2.236"/>
<circle class="c4" cx="359.6" cy="351.0" r="2.236"/>
<circle class="c4" cx="362.6" cy="351.8" r="2.236"/>
<circle class="c4" cx="366.2" cy="350.5" r="2.236"/>
<circle class="c4" cx="369.9" cy="351.1" r="2.236"/>
<circle class="c4" cx="373.3" cy="351.6" r="2.236"/>
<circle class="c4" cx="377.1" cy="351.1" r="2.236"/>
<circle class="c4" cx="380.8" cy="351.4" r="2.236"/>
<circle class="c4" cx="384.2" cy="351.3" r="2.236"/>
<circle class="c4" cx="387.8" cy="351.1" r="2.236"/>
<circle class="c4" cx="391.2" cy="351.2" r="2.236"/>
<circle class="c4" cx="394.6" cy="350.8" r="2.236"/>
<circle class="c4" cx="399.0" cy="351.1" r="2.236"/>
<circle class="c4" cx="402.1" cy="351.2" r="2.236"/>
<circle class="c4" cx="405.7" cy="351.2" r="2.236"/>
<circle class="c4" cx="409.3" cy="350.9" r="2.236"/>
<circle class="c4" cx="413.3" cy="351.0" r="2.236"/>
<circle class="c4" cx="416.9" cy="350.5" r="2.236"/>
<circle class="c4" cx="448.5" cy="351.6" r="2.236"/>
<circle class="c4" cx="452.5" cy="351.0" r="2.236"/>
<circle class="c4" cx="456.3" cy="350.8" r="2.236"/>
<circle class="c4" cx="459.7" cy="350.4" r="2.236"/>
<circle class="c4" cx="470.8" cy="350.9" r="2.236"/>
<circle class="c4" cx="480.5" cy="351.8" r="2.236"/>
<circle class="c4" cx="496.2" cy="351.2" r="2.236"/>
<circle class="c4" cx="499.2" cy="350.4" r="2.236"/>
<circle class="c4" cx="331.8" cy="354.2" r="2.236"/>
<circle class="c4" cx="336.1" cy="354.1" r="2.236"/>
<circle class="c4" cx="339.5" cy="354.2" r="2.236"/>
<circle class="c4" cx="342.4" cy="354.4" r="2.236"/>
<circle class="c4" cx="346.1" cy="354.7" r="2.236"/>
<circle class="c4" cx="350.3" cy="354.3" r="2.236"/>
<circle class="c4" cx="353.7" cy="354.4" r="2.236"/>
<circle class="c4" cx="357.0" cy="354.6" r="2.236"/>
<circle class="c4" cx="360.6" cy="354.5" r="2.236"/>
<circle class="c4" cx="364.0" cy="354.3" r="2.236"/>
<circle class="c4" cx="368.1" cy="354.0" r="2.236"/>
<circle class="c4" cx="371.4" cy="354.0" r="2.236"/>
<circle class="c4" cx="375.4" cy="354.0" r="2.236"/>
<circle class="c4" cx="378.9" cy="354.8" r="2.236"/>
<circle class="c4" cx="382.5" cy="353.7" r="2.236"/>
<circle class="c4" cx="386.0" cy="354.6" r="2.236"/>
<circle class="c4" cx="389.4" cy="354.6" r="2.236"/>
<circle class="c4" cx="393.3" cy="354.4" r="2.236"/>
<circle class="c4" cx="396.6" cy="354.1" r="2.236"/>
<circle class="c4" cx="400.2" cy="354.3" r="2.236"/>
<circle class="c4" cx="404.1" cy="354.4" r="2.236"/>
<circle class="c4" cx="407.4" cy="354.3" r="2.236"/>
<circle class="c4" cx="411.3" cy="353.7" r="2.236"/>
<circle class="c4" cx="414.4" cy="354.0" r="2.236"/>
<circle class="c4" cx="418.3" cy="354.1" r="2.236"/>
<circle class="c4" cx="421.8" cy="353.9" r="2.236"/>
<circle class="c4" cx="425.8" cy="354.3" r="2.236"/>
<circle class="c4" cx="428.5" cy="354.2" r="2.236"/>
<circle class="c4" cx="432.3" cy="354.9" r="2.236"/>
<circle class="c4" cx="436.2" cy="354.1" r="2.236"/>
<circle class="c4" cx="440.0" cy="354.2" r="2.236"/>
<circle class="c4" cx="443.5" cy="354.8" r="2.236"/>
<circle class="c4" cx="447.2" cy="354.5" r="2.236"/>
<circle class="c4" cx="451.1" cy="353.9" r="2.236"/>
<circle class="c4" cx="454.9" cy="354.5" r="2.236"/>
<circle class="c4" cx="458.3" cy="353.9" r="2.236"/>
<circle class="c4" cx="461.7" cy="354.1" r="2.236"/>
<circle class="c4" cx="483.3" cy="354.7" r="2.236"/>
<circle class="c4" cx="493.6" cy="354.3" r="2.236"/>
<circle class="c4" cx="500.8" cy="354.1" r="2.236"/>
<circle class="c4" cx="334.1" cy="357.1" r="2.236"/>
<circle class="c4" cx="337.3" cy="357.4" r="2.236"/>
<circle class="c4" cx="340.3" cy="357.6" r="2.236"/>
<circle class="c4" cx="344.7" cy="357.5" r="2.236"/>
<circle class="c4" cx="347.8" cy="357.0" r="2.236"/>
<circle class="c4" cx="351.5" cy="357.4" r="2.236"/>
<circle class="c4" cx="355.4" cy="357.3" r="2.236"/>
<circle class="c4" cx="359.6" cy="357.7" r="2.236"/>
<circle class="c4" cx="362.3" cy="357.0" r="2.236"/>
<circle class="c4" cx="366.7" cy="357.2" r="2.236"/>
<circle class="c4" cx="370.2" cy="357.8" r="2.236"/>
<circle class="c4" cx="373.1" cy="357.2" r="2.236"/>
<circle class="c4" cx="377.0" cy="357.0" r="2.236"/>
<circle class="c4" cx="380.2" cy="357.1" r="2.236"/>
<circle class="c4" cx="384.4" cy="357.1" r="2.236"/>
<circle class="c4" cx="387.7" cy="357.1" r="2.236"/>
<circle class="c4" cx="390.8" cy="357.8" r="2.236"/>
<circle class="c4" cx="394.1" cy="357.0" r="2.236"/>
<circle class="c4" cx="398.7" cy="356.8" r="2.236"/>
<circle class="c4" cx="402.3" cy="357.7" r="2.236"/>
<circle class="c4" cx="405.4" cy="357.3" r="2.236"/>
<circle class="c4" cx="408.9" cy="357.5" r="2.236"/>
<circle class="c4" cx="413.0" cy="357.3" r="2.236"/>
<circle class="c4" cx="417.0" cy="357.4" r="2.236"/>
<circle class="c4" cx="420.6" cy="357.5" r="2.236"/>
<circle class="c4" cx="423.3" cy="357.4" r="2.236"/>
<circle class="c4" cx="427.5" cy="356.8" r="2.236"/>
<circle class="c4" cx="431.4" cy="357.3" r="2.236"/>
<circle class="c4" cx="434.7" cy="356.9" r="2.236"/>
<circle class="c4" cx="438.2" cy="357.4" r="2.236"/>
<circle class="c4" cx="441.6" cy="357.3" r="2.236"/>
<circle class="c4" cx="444.6" cy="357.8" r="2.236"/>
<circle class="c4" cx="448.5" cy="356.5" r="2.236"/>
<circle class="c4" cx="452.2" cy="357.0" r="2.236"/>
<circle class="c4" cx="456.3" cy="356.9" r="2.236"/>
<circle class="c4" cx="459.8" cy="356.9" r="2.236"/>
<circle class="c4" cx="463.5" cy="358.0" r="2.236"/>
<circle class="c4" cx="480.8" cy="356.9" r="2.236"/>
<circle class="c4" cx="488.3" cy="356.9" r="2.236"/>
<circle class="c4" cx="495.9" cy="356.8" r="2.236"/>
<circle class="c4" cx="502.8" cy="357.0" r="2.236"/>
<circle class="c4" cx="339.4" cy="360.6" r="2.236"/>
<circle class="c4" cx="343.0" cy="360.2" r="2.236"/>
<circle class="c4" cx="347.0" cy="360.9" r="2.236"/>
<circle class="c4" cx="349.8" cy="360.2" r="2.236"/>
<circle class="c4" cx="354.0" cy="360.0" r="2.236"/>
<circle class="c4" cx="357.3" cy="360.3" r="2.236"/>
<circle class="c4" cx="360.5" cy="360.2" r="2.236"/>
<circle class="c4" cx="363.8" cy="360.1" r="2.236"/>
<circle class="c4" cx="367.2" cy="361.1" r="2.236"/>
<circle class="c4" cx="372.1" cy="360.7" r="2.236"/>
<circle class="c4" cx="375.2" cy="360.7" r="2.236"/>
<circle class="c4" cx="379.2" cy="360.7" r="2.236"/>
<circle class="c4" cx="382.7" cy="360.0" r="2.236"/>
<circle class="c4" cx="386.1" cy="360.1" r="2.236"/>
<circle class="c4" cx="389.1" cy="359.9" r="2.236"/>
<circle class="c4" cx="393.3" cy="360.7" r="2.236"/>
<circle class="c4" cx="396.2" cy="360.9" r="2.236"/>
<circle class="c4" cx="400.9" cy="360.2" r="2.236"/>
<circle class="c4" cx="403.8" cy="360.3" r="2.236"/>
<circle class="c4" cx="407.9" cy="360.2" r="2.236"/>
<circle class="c4" cx="410.7" cy="360.4" r="2.236"/>
<circle class="c4" cx="414.0" cy="360.3" r="2.236"/>
<circle class="c4" cx="418.7" cy="360.4" r="2.236"/>
<circle class="c4" cx="422.2" cy="360.5" r="2.236"/>
<circle class="c4" cx="425.8" cy="360.3" r="2.236"/>
<circle class="c4" cx="428.8" cy="360.2" r="2.236"/>
<circle class="c4" cx="432.7" cy="360.7" r="2.236"/>
<circle class="c4" cx="436.9" cy="360.4" r="2.236"/>
<circle class="c4" cx="439.6" cy="360.0" r="2.236"/>
<circle class="c4" cx="443.5" cy="360.8" r="2.236"/>
<circle class="c4" cx="447.2" cy="360.3" r="2.236"/>
<circle class="c4" cx="450.4" cy="360.6" r="2.236"/>
<circle class="c4" cx="454.4" cy="360.3" r="2.236"/>
<circle class="c4" cx="458.0" cy="360.9" r="2.236"/>
<circle class="c4" cx="462.1" cy="360.7" r="2.236"/>
<circle class="c4" cx="468.7" cy="360.0" r="2.236"/>
<circle class="c4" cx="476.1" cy="360.3" r="2.236"/>
<circle class="c4" cx="489.7" cy="360.3" r="2.236"/>
<circle class="c4" cx="494.0" cy="360.8" r="2.236"/>
<circle class="c4" cx="501.1" cy="359.6" r="2.236"/>
<circle class="c4" cx="341.2" cy="363.3" r="2.236"/>
<circle class="c4" cx="344.3" cy="363.1" r="2.236"/>
<circle class="c4" cx="349.3" cy="363.2" r="2.236"/>
<circle class="c4" cx="351.1" cy="363.0" r="2.236"/>
<circle class="c4" cx="355.2" cy="363.2" r="2.236"/>
<circle class="c4" cx="358.9" cy="362.9" r="2.236"/>
<circle class="c4" cx="362.7" cy="363.1" r="2.236"/>
<circle class="c4" cx="365.6" cy="363.0" r="2.236"/>
<circle class="c4" cx="369.6" cy="363.6" r="2.236"/>
<circle class="c4" cx="373.5" cy="363.2" r="2.236"/>
<circle class="c4" cx="376.9" cy="363.4" r="2.236"/>
<circle class="c4" cx="381.3" cy="363.1" r="2.236"/>
<circle class="c4" cx="384.3" cy="363.6" r="2.236"/>
<circle class="c4" cx="387.4" cy="363.4" r="2.236"/>
<circle class="c4" cx="391.4" cy="363.1" r="2.236"/>
<circle class="c4" cx="395.1" cy="363.7" r="2.236"/>
<circle class="c4" cx="398.9" cy="363.2" r="2.236"/>
<circle class="c4" cx="402.2" cy="364.2" r="2.236"/>
<circle class="c4" cx="405.3" cy="363.4" r="2.236"/>
<circle class="c4" cx="409.6" cy="363.4" r="2.236"/>
<circle class="c4" cx="413.2" cy="363.4" r="2.236"/>
<circle class="c4" cx="416.8" cy="363.8" r="2.236"/>
<circle class="c4" cx="420.0" cy="363.4" r="2.236"/>
<circle class="c4" cx="423.7" cy="363.2" r="2.236"/>
<circle class="c4" cx="427.3" cy="362.9" r="2.236"/>
<circle class="c4" cx="431.2" cy="363.9" r="2.236"/>
<circle class="c4" cx="435.1" cy="363.8" r="2.236"/>
<circle class="c4" cx="437.8" cy="363.9" r="2.236"/>
<circle class="c4" cx="441.5" cy="363.3" r="2.236"/>
<circle class="c4" cx="446.0" cy="362.9" r="2.236"/>
<circle class="c4" cx="449.2" cy="363.4" r="2.236"/>
<circle class="c4" cx="452.5" cy="363.0" r="2.236"/>
<circle class="c4" cx="456.3" cy="363.1" r="2.236"/>
<circle class="c4" cx="460.1" cy="363.8" r="2.236"/>
<circle class="c4" cx="463.1" cy="363.2" r="2.236"/>
<circle class="c4" cx="474.0" cy="362.7" r="2.236"/>
<circle class="c4" cx="489.1" cy="363.8" r="2.236"/>
<circle class="c4" cx="346.2" cy="366.2" r="2.236"/>
<circle class="c4" cx="350.1" cy="365.4" r="2.236"/>
<circle class="c4" cx="352.7" cy="365.9" r="2.236"/>
<circle class="c4" cx="357.5" cy="366.3" r="2.236"/>
<circle class="c4" cx="360.1" cy="366.5" r="2.236"/>
<circle class="c4" cx="364.6" cy="366.2" r="2.236"/>
<circle class="c4" cx="367.8" cy="366.5" r="2.236"/>
<circle class="c4" cx="372.0" cy="366.4" r="2.236"/>
<circle class="c4" cx="375.3" cy="366.3" r="2.236"/>
<circle class="c4" cx="378.6" cy="366.0" r="2.236"/>
<circle class="c4" cx="382.4" cy="366.2" r="2.236"/>
<circle class="c4" cx="385.8" cy="366.7" r="2.236"/>
<circle class="c4" cx="389.7" cy="366.6" r="2.236"/>
<circle class="c4" cx="392.6" cy="366.5" r="2.236"/>
<circle class="c4" cx="396.5" cy="366.0" r="2.236"/>
<circle class="c4" cx="400.0" cy="366.8" r="2.236"/>
<circle class="c4" cx="404.2" cy="366.1" r="2.236"/>
<circle class="c4" cx="407.1" cy="366.3" r="2.236"/>
<circle class="c4" cx="411.0" cy="366.9" r="2.236"/>
<circle class="c4" cx="414.2" cy="365.7" r="2.236"/>
<circle class="c4" cx="418.2" cy="366.3" r="2.236"/>
<circle class="c4" cx="422.0" cy="366.6" r="2.236"/>
<circle class="c4" cx="426.3" cy="366.2" r="2.236"/>
<circle class="c4" cx="428.9" cy="365.7" r="2.236"/>
<circle class="c4" cx="432.8" cy="366.6" r="2.236"/>
<circle class="c4" cx="436.2" cy="366.8" r="2.236"/>
<circle class="c4" cx="439.9" cy="366.9" r="2.236"/>
<circle class="c4" cx="443.6" cy="366.0" r="2.236"/>
<circle class="c4" cx="446.9" cy="365.8" r="2.236"/>
<circle class="c4" cx="450.1" cy="366.4" r="2.236"/>
<circle class="c4" cx="454.6" cy="367.0" r="2.236"/>
<circle class="c4" cx="457.9" cy="366.3" r="2.236"/>
<circle class="c4" cx="461.9" cy="366.5" r="2.236"/>
<circle class="c4" cx="497.5" cy="366.9" r="2.236"/>
<circle class="c4" cx="351.3" cy="369.1" r="2.236"/>
<circle class="c4" cx="355.6" cy="368.9" r="2.236"/>
<circle class="c4" cx="358.7" cy="368.7" r="2.236"/>
<circle class="c4" cx="363.2" cy="369.7" r="2.236"/>
<circle class="c4" cx="366.3" cy="369.4" r="2.236"/>
<circle class="c4" cx="369.6" cy="369.2" r="2.236"/>
<circle class="c4" cx="373.5" cy="369.1" r="2.236"/>
<circle class="c4" cx="377.4" cy="369.2" r="2.236"/>
<circle class="c4" cx="380.2" cy="369.8" r="2.236"/>
<circle class="c4" cx="384.1" cy="369.6" r="2.236"/>
<circle class="c4" cx="387.6" cy="368.5" r="2.236"/>
<circle class="c4" cx="391.5" cy="368.9" r="2.236"/>
<circle class="c4" cx="395.3" cy="368.8" r="2.236"/>
<circle class="c4" cx="397.8" cy="369.5" r="2.236"/>
<circle class="c4" cx="402.3" cy="369.4" r="2.236"/>
<circle class="c4" cx="405.3" cy="369.7" r="2.236"/>
<circle class="c4" cx="408.8" cy="369.2" r="2.236"/>
<circle class="c4" cx="412.6" cy="369.2" r="2.236"/>
<circle class="c4" cx="416.8" cy="369.1" r="2.236"/>
<circle class="c4" cx="420.3" cy="369.6" r="2.236"/>
<circle class="c4" cx="423.1" cy="368.9" r="2.236"/>
<circle class="c4" cx="427.2" cy="369.1" r="2.236"/>
<circle class="c4" cx="431.0" cy="368.7" r="2.236"/>
<circle class="c4" cx="434.8" cy="369.6" r="2.236"/>
<circle class="c4" cx="438.1" cy="368.9" r="2.236"/>
<circle class="c4" cx="441.7" cy="369.2" r="2.236"/>
<circle class="c4" cx="445.5" cy="369.3" r="2.236"/>
<circle class="c4" cx="449.2" cy="369.2" r="2.236"/>
<circle class="c4" cx="453.0" cy="368.5" r="2.236"/>
<circle class="c4" cx="455.8" cy="369.5" r="2.236"/>
<circle class="c4" cx="459.2" cy="369.6" r="2.236"/>
<circle class="c4" cx="477.7" cy="369.2" r="2.236"/>
<circle class="c4" cx="484.6" cy="369.4" r="2.236"/>
<circle class="c4" cx="502.6" cy="369.7" r="2.236"/>
<circle class="c4" cx="357.5" cy="372.4" r="2.236"/>
<circle class="c4" cx="360.8" cy="371.3" r="2.236"/>
<circle class="c4" cx="364.1" cy="373.0" r="2.236"/>
<circle class="c4" cx="367.3" cy="372.2" r="2.236"/>
<circle class="c4" cx="371.6" cy="372.6" r="2.236"/>
<circle class="c4" cx="375.7" cy="371.7" r="2.236"/>
<circle class="c4" cx="378.7" cy="372.7" r="2.236"/>
<circle class="c4" cx="381.8" cy="372.4" r="2.236"/>
<circle class="c4" cx="386.6" cy="372.9" r="2.236"/>
<circle class="c4" cx="389.7" cy="371.4" r="2.236"/>
<circle class="c4" cx="393.1" cy="372.5" r="2.236"/>
<circle class="c4" cx="396.6" cy="372.4" r="2.236"/>
<circle class="c4" cx="401.4" cy="372.3" r="2.236"/>
<circle class="c4" cx="403.6" cy="372.5" r="2.236"/>
<circle class="c4" cx="407.4" cy="372.3" r="2.236"/>
<circle class="c4" cx="411.1" cy="372.7" r="2.236"/>
<circle class="c4" cx="414.8" cy="372.0" r="2.236"/>
<circle class="c4" cx="418.3" cy="372.6" r="2.236"/>
<circle class="c4" cx="421.8" cy="372.8" r="2.236"/>
<circle class="c4" cx="425.8" cy="372.0" r="2.236"/>
<circle class="c4" cx="429.2" cy="373.1" r="2.236"/>
<circle class="c4" cx="433.3" cy="372.4" r="2.236"/>
<circle class="c4" cx="436.6" cy="372.1" r="2.236"/>
<circle class="c4" cx="439.4" cy="372.6" r="2.236"/>
<circle class="c4" cx="443.6" cy="372.6" r="2.236"/>
<circle class="c4" cx="447.1" cy="372.5" r="2.236"/>
<circle class="c4" cx="450.5" cy="372.6" r="2.236"/>
<circle class="c4" cx="454.6" cy="372.4" r="2.236"/>
<circle class="c4" cx="458.2" cy="371.7" r="2.236"/>
<circle class="c4" cx="462.0" cy="373.0" r="2.236"/>
<circle class="c4" cx="476.2" cy="371.9" r="2.236"/>
<circle class="c4" cx="486.3" cy="372.6" r="2.236"/>
<circle class="c4" cx="497.1" cy="372.9" r="2.236"/>
<circle class="c4" cx="500.9" cy="373.2" r="2.236"/>
<circle class="c4" cx="362.2" cy="375.5" r="2.236"/>
<circle class="c4" cx="366.5" cy="374.6" r="2.236"/>
<circle class="c4" cx="370.1" cy="375.4" r="2.236"/>
<circle class="c4" cx="373.3" cy="375.0" r="2.236"/>
<circle class="c4" cx="377.0" cy="375.0" r="2.236"/>
<circle class="c4" cx="380.2" cy="375.2" r="2.236"/>
<circle class="c4" cx="383.7" cy="376.0" r="2.236"/>
<circle class="c4" cx="387.2" cy="375.1" r="2.236"/>
<circle class="c4" cx="391.2" cy="375.4" r="2.236"/>
<circle class="c4" cx="395.2" cy="375.7" r="2.236"/>
<circle class="c4" cx="398.4" cy="375.3" r="2.236"/>
<circle class="c4" cx="402.1" cy="375.7" r="2.236"/>
<circle class="c4" cx="406.0" cy="375.2" r="2.236"/>
<circle class="c4" cx="408.6" cy="376.2" r="2.236"/>
<circle class="c4" cx="413.3" cy="375.5" r="2.236"/>
<circle class="c4" cx="416.6" cy="375.2" r="2.236"/>
<circle class="c4" cx="419.8" cy="375.3" r="2.236"/>
<circle class="c4" cx="423.6" cy="375.2" r="2.236"/>
<circle class="c4" cx="426.8" cy="375.3" r="2.236"/>
<circle class="c4" cx="431.1" cy="375.2" r="2.236"/>
<circle class="c4" cx="434.5" cy="374.7" r="2.236"/>
<circle class="c4" cx="438.0" cy="375.4" r="2.236"/>
<circle class="c4" cx="441.3" cy="374.8" r="2.236"/>
<circle class="c4" cx="445.5" cy="375.1" r="2.236"/>
<circle class="c4" cx="449.1" cy="375.3" r="2.236"/>
<circle class="c4" cx="452.7" cy="375.3" r="2.236"/>
<circle class="c4" cx="455.6" cy="375.4" r="2.236"/>
<circle class="c4" cx="459.6" cy="375.6" r="2.236"/>
<circle class="c4" cx="463.2" cy="375.7" r="2.236"/>
<circle class="c4" cx="470.9" cy="375.6" r="2.236"/>
<circle class="c4" cx="489.4" cy="375.4" r="2.236"/>
<circle class="c4" cx="492.0" cy="375.4" r="2.236"/>
<circle class="c4" cx="371.1" cy="377.7" r="2.236"/>
<circle class="c4" cx="375.2" cy="377.9" r="2.236"/>
<circle class="c4" cx="378.8" cy="378.5" r="2.236"/>
<circle class="c4" cx="382.7" cy="379.0" r="2.236"/>
<circle class="c4" cx="386.1" cy="378.2" r="2.236"/>
<circle class="c4" cx="389.1" cy="378.1" r="2.236"/>
<circle class="c4" cx="393.1" cy="377.7" r="2.236"/>
<circle class="c4" cx="396.7" cy="378.4" r="2.236"/>
<circle class="c4" cx="400.6" cy="378.3" r="2.236"/>
<circle class="c4" cx="404.0" cy="378.2" r="2.236"/>
<circle class="c4" cx="407.4" cy="377.8" r="2.236"/>
<circle class="c4" cx="411.2" cy="379.0" r="2.236"/>
<circle class="c4" cx="414.8" cy="378.6" r="2.236"/>
<circle class="c4" cx="418.0" cy="378.9" r="2.236"/>
<circle class="c4" cx="421.6" cy="378.7" r="2.236"/>
<circle class="c4" cx="425.6" cy="378.1" r="2.236"/>
<circle class="c4" cx="429.5" cy="378.4" r="2.236"/>
<circle class="c4" cx="432.8" cy="378.6" r="2.236"/>
<circle class="c4" cx="436.3" cy="378.3" r="2.236"/>
<circle class="c4" cx="440.1" cy="378.3" r="2.236"/>
<circle class="c4" cx="443.5" cy="378.2" r="2.236"/>
<circle class="c4" cx="446.6" cy="378.2" r="2.236"/>
<circle class="c4" cx="450.5" cy="378.4" r="2.236"/>
<circle class="c4" cx="454.7" cy="377.8" r="2.236"/>
<circle class="c4" cx="458.0" cy="377.6" r="2.236"/>
<circle class="c4" cx="472.4" cy="378.5" r="2.236"/>
<circle class="c4" cx="486.4" cy="379.0" r="2.236"/>
<circle class="c4" cx="384.3" cy="381.3" r="2.236"/>
<circle class="c4" cx="388.1" cy="381.5" r="2.236"/>
<circle class="c4" cx="391.6" cy="381.5" r="2.236"/>
<circle class="c4" cx="394.5" cy="381.8" r="2.236"/>
<circle class="c4" cx="398.6" cy="381.1" r="2.236"/>
<circle class="c4" cx="401.8" cy="381.8" r="2.236"/>
<circle class="c4" cx="405.6" cy="381.5" r="2.236"/>
<circle class="c4" cx="409.6" cy="381.5" r="2.236"/>
<circle class="c4" cx="412.4" cy="381.7" r="2.236"/>
<circle class="c4" cx="416.9" cy="381.8" r="2.236"/>
<circle class="c4" cx="420.7" cy="381.6" r="2.236"/>
<circle class="c4" cx="424.0" cy="382.0" r="2.236"/>
<circle class="c4" cx="427.2" cy="382.1" r="2.236"/>
<circle class="c4" cx="431.5" cy="381.7" r="2.236"/>
<circle class="c4" cx="435.2" cy="381.8" r="2.236"/>
<circle class="c4" cx="437.8" cy="381.9" r="2.236"/>
<circle class="c4" cx="441.8" cy="381.6" r="2.236"/>
<circle class="c4" cx="445.4" cy="381.9" r="2.236"/>
<circle class="c4" cx="449.1" cy="381.2" r="2.236"/>
<circle class="c4" cx="452.7" cy="381.7" r="2.236"/>
<circle class="c4" cx="455.9" cy="381.3" r="2.236"/>
<circle class="c4" cx="459.6" cy="381.2" r="2.236"/>
<circle class="c4" cx="463.7" cy="382.1" r="2.236"/>
<circle class="c4" cx="400.8" cy="384.3" r="2.236"/>
<circle class="c4" cx="404.2" cy="384.6" r="2.236"/>
<circle class="c4" cx="407.5" cy="384.3" r="2.236"/>
<circle class="c4" cx="410.9" cy="384.4" r="2.236"/>
<circle class="c4" cx="414.3" cy="384.7" r="2.236"/>
<circle class="c4" cx="418.3" cy="384.5" r="2.236"/>
<circle class="c4" cx="422.0" cy="384.7" r="2.236"/>
<circle class="c4" cx="425.3" cy="384.4" r="2.236"/>
<circle class="c4" cx="428.5" cy="383.7" r="2.236"/>
<circle class="c4" cx="432.0" cy="385.0" r="2.236"/>
<circle class="c4" cx="435.7" cy="384.6" r="2.236"/>
<circle class="c4" cx="440.5" cy="384.3" r="2.236"/>
<circle class="c4" cx="444.1" cy="385.1" r="2.236"/>
<circle class="c4" cx="447.5" cy="385.3" r="2.236"/>
<circle class="c4" cx="450.9" cy="384.2" r="2.236"/>
<circle class="c4" cx="454.5" cy="384.3" r="2.236"/>
<circle class="c4" cx="423.3" cy="387.0" r="2.236"/>
<circle class="c4" cx="428.2" cy="387.3" r="2.236"/>
<circle class="c4" cx="430.9" cy="387.3" r="2.236"/>
<circle class="c4" cx="434.6" cy="387.4" r="2.236"/>
<circle class="c4" cx="438.0" cy="387.1" r="2.236"/>
<circle class="c4" cx="441.2" cy="387.2" r="2.236"/>
<circle class="c5" cx="565.1" cy="281.1" r="2.236"/>
<circle class="c5" cx="564.9" cy="285.0" r="2.236"/>
<circle class="c5" cx="565.3" cy="289.0" r="2.236"/>
<circle class="c6" cx="565.1" cy="293.2" r="2.236"/>
<circle class="c6" cx="565.3" cy="297.6" r="2.236"/>
<circle class="c7" cx="565.3" cy="307.0" r="2.236"/>
<circle class="c7" cx="565.4" cy="312.0" r="2.236"/>
<circle class="c8" cx="565.2" cy="322.9" r="2.236"/>
<circle class="c9" cx="565.3" cy="325.5" r="2.236"/>
<circle class="c10" cx="311.8" cy="223.1" r="2.236"/>
<circle class="c10" cx="314.2" cy="223.0" r="2.236"/>
<circle class="c10" cx="310.7" cy="224.3" r="2.236"/>
<circle class="c10" cx="312.3" cy="224.4" r="2.236"/>
<circle class="c10" cx="314.2" cy="224.3" r="2.236"/>
<circle class="c10" cx="309.7" cy="226.3" r="2.236"/>
<circle class="c10" cx="311.8" cy="226.1" r="2.236"/>
<circle class="c10" cx="313.2" cy="226.1" r="2.236"/>
<circle class="c10" cx="315.6" cy="226.6" r="2.236"/>
<circle class="c10" cx="308.6" cy="227.9" r="2.236"/>
<circle class="c10" cx="310.1" cy="228.1" r="2.236"/>
<circle class="c10" cx="312.2" cy="227.7" r="2.236"/>
<circle class="c10" cx="314.5" cy="228.2" r="2.236"/>
<circle class="c10" cx="316.8" cy="227.8" r="2.236"/>
<circle class="c10" cx="307.1" cy="229.5" r="2.236"/>
<circle class="c10" cx="309.5" cy="229.7" r="2.236"/>
<circle class="c10" cx="311.4" cy="229.8" r="2.236"/>
<circle class="c10" cx="313.4" cy="229.7" r="2.236"/>
<circle class="c10" cx="315.2" cy="230.5" r="2.236"/>
<circle class="c10" cx="318.0" cy="230.1" r="2.236"/>
<circle class="c10" cx="307.1" cy="231.8" r="2.236"/>
<circle class="c10" cx="308.8" cy="231.9" r="2.236"/>
<circle class="c10" cx="311.2" cy="232.0" r="2.236"/>
<circle class="c10" cx="313.1" cy="231.8" r="2.236"/>
<circle class="c10" cx="315.2" cy="232.2" r="2.236"/>
<circle class="c10" cx="316.7" cy="231.8" r="2.236"/>
<circle class="c10" cx="319.3" cy="231.8" r="2.236"/>
<circle class="c10" cx="305.3" cy="233.9" r="2.236"/>
<circle class="c10" cx="307.8" cy="233.7" r="2.236"/>
<circle class="c10" cx="310.0" cy="233.2" r="2.236"/>
<circle class="c10" cx="312.2" cy="233.2" r="2.236"/>
<circle class="c10" cx="314.2" cy="233.6" r="2.236"/>
<circle class="c10" cx="316.7" cy="233.7" r="2.236"/>
<circle class="c10" cx="318.8" cy="234.3" r="2.236"/>
<circle class="c10" cx="321.1" cy="233.4" r="2.236"/>
<circle class="c10" cx="305.1" cy="235.4" r="2.236"/>
<circle class="c10" cx="307.4" cy="235.4" r="2.236"/>
<circle class="c10" cx="309.3" cy="236.1" r="2.236"/>
<circle class="c10" cx="311.7" cy="235.5" r="2.236"/>
<circle class="c10" cx="313.8" cy="235.5" r="2.236"/>
<circle class="c10" cx="316.4" cy="235.7" r="2.236"/>
<circle class="c10" cx="318.5" cy="234.7" r="2.236"/>
<circle class="c10" cx="320.5" cy="235.9" r="2.236"/>
<circle class="c10" cx="305.2" cy="237.5" r="2.236"/>
<circle class="c10" cx="306.3" cy="237.6" r="2.236"/>
<circle class="c10" cx="308.8" cy="237.0" r="2.236"/>
<circle class="c10" cx="310.9" cy="237.8" r="2.236"/>
<circle class="c10" cx="313.6" cy="237.7" r="2.236"/>
<circle class="c10" cx="315.1" cy="238.2" r="2.236"/>
<circle class="c10" cx="317.2" cy="237.4" r="2.236"/>
<circle class="c10" cx="319.3" cy="237.8" r="2.236"/>
<circle class="c10" cx="322.0" cy="237.7" r="2.236"/>
<circle class="c10" cx="304.7" cy="239.3" r="2.236"/>
<circle class="c10" cx="306.9" cy="238.8" r="2.236"/>
<circle class="c10" cx="309.3" cy="239.6" r="2.236"/>
<circle class="c10" cx="311.1" cy="239.3" r="2.236"/>
<circle class="c10" cx="313.4" cy="239.8" r="2.236"/>
<circle class="c10" cx="315.6" cy="239.4" r="2.236"/>
<circle class="c10" cx="317.5" cy="238.9" r="2.236"/>
<circle class="c10" cx="319.7" cy="239.4" r="2.236"/>
<circle class="c10" cx="321.9" cy="239.4" r="2.236"/>
<circle class="c10" cx="305.1" cy="241.3" r="2.236"/>
<circle class="c10" cx="307.1" cy="241.4" r="2.236"/>
<circle class="c10" cx="309.2" cy="241.2" r="2.236"/>
<circle class="c10" cx="311.5" cy="240.7" r="2.236"/>
<circle class="c10" cx="313.9" cy="240.8" r="2.236"/>
<circle class="c10" cx="315.9" cy="241.2" r="2.236"/>
<circle class="c10" cx="318.2" cy="241.2" r="2.236"/>
<circle class="c10" cx="319.7" cy="241.5" r="2.236"/>
<circle class="c10" cx="322.2" cy="241.2" r="2.236"/>
<circle class="c10" cx="305.1" cy="243.4" r="2.236"/>
<circle class="c10" cx="307.4" cy="243.2" r="2.236"/>
<circle class="c10" cx="308.9" cy="243.0" r="2.236"/>
<circle class="c10" cx="311.5" cy="243.6" r="2.236"/>
<circle class="c10" cx="313.8" cy="243.1" r="2.236"/>
<circle class="c10" cx="316.2" cy="243.1" r="2.236"/>
<circle class="c10" cx="318.0" cy="243.1" r="2.236"/>
<circle class="c10" cx="319.7" cy="243.4" r="2.236"/>
<circle class="c10" cx="322.4" cy="243.0" r="2.236"/>
<circle class="c10" cx="304.9" cy="245.0" r="2.236"/>
<circle class="c10" cx="307.8" cy="244.8" r="2.236"/>
<circle class="c10" cx="309.2" cy="245.1" r="2.236"/>
<circle class="c10" cx="311.2" cy="244.3" r="2.236"/>
<circle class="c10" cx="313.7" cy="244.8" r="2.236"/>
<circle class="c10" cx="315.9" cy="244.8" r="2.236"/>
<circle class="c10" cx="318.2" cy="244.9" r="2.236"/>
<circle class="c10" cx="320.1" cy="244.8" r="2.236"/>
<circle class="c10" cx="322.7" cy="245.2" r="2.236"/>
<circle class="c10" cx="305.7" cy="247.0" r="2.236"/>
<circle class="c10" cx="306.7" cy="246.5" r="2.236"/>
<circle class="c10" cx="309.7" cy="246.9" r="2.236"/>
<circle class="c10" cx="311.5" cy="247.2" r="2.236"/>
<circle class="c10" cx="314.2" cy="246.7" r="2.236"/>
<circle class="c10" cx="316.3" cy="246.7" r="2.236"/>
<circle class="c10" cx="318.2" cy="247.0" r="2.236"/>
<circle class="c10" cx="320.5" cy="246.4" r="2.236"/>
<circle class="c10" cx="322.6" cy="246.8" r="2.236"/>
<circle class="c10" cx="305.7" cy="249.1" r="2.236"/>
<circle class="c10" cx="307.9" cy="249.2" r="2.236"/>
<circle class="c10" cx="310.6" cy="248.4" r="2.236"/>
<circle class="c10" cx="312.5" cy="249.0" r="2.236"/>
<circle class="c10" cx="314.6" cy="248.4" r="2.236"/>
<circle class="c10" cx="316.9" cy="249.3" r="2.236"/>
<circle class="c10" cx="318.6" cy="248.9" r="2.236"/>
<circle class="c10" cx="321.2" cy="248.7" r="2.236"/>
<circle class="c10" cx="323.2" cy="248.6" r="2.236"/>
<circle class="c10" cx="306.9" cy="250.8" r="2.236"/>
<circle class="c10" cx="308.5" cy="251.0" r="2.236"/>
<circle class="c10" cx="310.5" cy="250.8" r="2.236"/>
<circle class="c10" cx="313.1" cy="250.9" r="2.236"/>
<circle class="c10" cx="315.3" cy="250.9" r="2.236"/>
<circle class="c10" cx="317.4" cy="250.9" r="2.236"/>
<circle class="c10" cx="319.7" cy="251.2" r="2.236"/>
<circle class="c10" cx="321.5" cy="250.9" r="2.236"/>
<circle class="c10" cx="307.3" cy="252.5" r="2.236"/>
<circle class="c10" cx="309.2" cy="252.6" r="2.236"/>
<circle class="c10" cx="311.1" cy="252.1" r="2.236"/>
<circle class="c10" cx="313.8" cy="252.0" r="2.236"/>
<circle class="c10" cx="316.2" cy="252.4" r="2.236"/>
<circle class="c10" cx="318.0" cy="252.5" r="2.236"/>
<circle class="c10" cx="320.2" cy="252.4" r="2.236"/>
<circle class="c10" cx="307.7" cy="254.3" r="2.236"/>
<circle class="c10" cx="310.2" cy="254.7" r="2.236"/>
<circle class="c10" cx="312.5" cy="254.4" r="2.236"/>
<circle class="c10" cx="314.2" cy="253.8" r="2.236"/>
<circle class="c10" cx="316.6" cy="254.6" r="2.236"/>
<circle class="c10" cx="318.5" cy="254.6" r="2.236"/>
<circle class="c10" cx="321.1" cy="254.4" r="2.236"/>
<circle class="c10" cx="308.8" cy="256.3" r="2.236"/>
<circle class="c10" cx="310.1" cy="256.1" r="2.236"/>
<circle class="c10" cx="312.7" cy="256.4" r="2.236"/>
<circle class="c10" cx="314.7" cy="256.1" r="2.236"/>
<circle class="c10" cx="316.9" cy="256.2" r="2.236"/>
<circle class="c10" cx="319.3" cy="256.5" r="2.236"/>
<circle class="c10" cx="321.7" cy="256.2" r="2.236"/>
<circle class="c10" cx="309.3" cy="258.1" r="2.236"/>
<circle class="c10" cx="311.4" cy="258.5" r="2.236"/>
<circle class="c10" cx="312.8" cy="258.0" r="2.236"/>
<circle class="c10" cx="315.8" cy="258.4" r="2.236"/>
<circle class="c10" cx="317.5" cy="258.2" r="2.236"/>
<circle class="c10" cx="320.2" cy="257.9" r="2.236"/>
<circle class="c10" cx="309.3" cy="259.8" r="2.236"/>
<circle class="c10" cx="311.6" cy="260.1" r="2.236"/>
<circle class="c10" cx="313.9" cy="260.5" r="2.236"/>
<circle class="c10" cx="316.3" cy="259.7" r="2.236"/>
<circle class="c10" cx="318.3" cy="259.6" r="2.236"/>
<circle class="c10" cx="320.7" cy="260.4" r="2.236"/>
<circle class="c10" cx="310.2" cy="262.1" r="2.236"/>
<circle class="c10" cx="312.2" cy="261.9" r="2.236"/>
<circle class="c10" cx="315.3" cy="261.4" r="2.236"/>
<circle class="c10" cx="317.1" cy="262.2" r="2.236"/>
<circle class="c10" cx="318.4" cy="261.4" r="2.236"/>
<circle class="c10" cx="320.8" cy="262.1" r="2.236"/>
<circle class="c10" cx="310.6" cy="263.6" r="2.236"/>
<circle class="c10" cx="313.1" cy="263.7" r="2.236"/>
<circle class="c10" cx="315.1" cy="263.6" r="2.236"/>
<circle class="c10" cx="317.5" cy="263.5" r="2.236"/>
<circle class="c10" cx="319.9" cy="263.6" r="2.236"/>
<circle class="c10" cx="321.3" cy="263.9" r="2.236"/>
<circle class="c10" cx="311.3" cy="265.0" r="2.236"/>
<circle class="c10" cx="313.4" cy="265.2" r="2.236"/>
<circle class="c10" cx="315.3" cy="265.8" r="2.236"/>
<circle class="c10" cx="317.4" cy="265.7" r="2.236"/>
<circle class="c10" cx="319.7" cy="266.1" r="2.236"/>
<circle class="c10" cx="322.0" cy="265.2" r="2.236"/>
<circle class="c10" cx="311.4" cy="267.2" r="2.236"/>
<circle class="c10" cx="313.9" cy="267.4" r="2.236"/>
<circle class="c10" cx="316.3" cy="267.5" r="2.236"/>
<circle class="c10" cx="318.2" cy="267.5" r="2.236"/>
<circle class="c10" cx="320.3" cy="267.5" r="2.236"/>
<circle class="c10" cx="322.7" cy="267.7" r="2.236"/>
<circle class="c11" cx="565.0" cy="281.6" r="2.236"/>
<circle class="c12" cx="564.9" cy="285.5" r="2.236"/>
<circle class="c12" cx="565.1" cy="289.6" r="2.236"/>
<circle class="c13" cx="565.1" cy="293.9" r="2.236"/>
<circle class="c13" cx="564.9" cy="298.3" r="2.236"/>
<circle class="c14" cx="565.1" cy="302.9" r="2.236"/>
<circle class="c14" cx="565.2" cy="307.8" r="2.236"/>
<circle class="c15" cx="565.0" cy="312.9" r="2.236"/>
<circle class="c16" cx="564.9" cy="318.2" r="2.236"/>
<circle class="c16" cx="565.1" cy="323.9" r="2.236"/>
<circle class="c17" cx="564.7" cy="277.4" r="2.236"/>
<circle class="c11" cx="564.6" cy="281.0" r="2.236"/>
<circle class="c11" cx="564.5" cy="284.7" r="2.236"/>
<circle class="c12" cx="564.7" cy="288.5" r="2.236"/>
<circle class="c12" cx="564.6" cy="292.4" r="2.236"/>
<circle class="c13" cx="564.7" cy="296.6" r="2.236"/>
<circle class="c13" cx="564.7" cy="300.9" r="2.236"/>
<circle class="c14" cx="564.4" cy="305.3" r="2.236"/>
<circle class="c14" cx="564.6" cy="310.0" r="2.236"/>
<circle class="c15" cx="564.6" cy="315.0" r="2.236"/>
<circle class="c15" cx="564.4" cy="320.1" r="2.236"/>
<circle class="c16" cx="564.8" cy="325.6" r="2.236"/>
<circle class="c18" cx="333.0" cy="204.0" r="2.236"/>
<circle class="c18" cx="333.6" cy="206.6" r="2.236"/>
<circle class="c19" cx="333.8" cy="209.2" r="2.236"/>
<circle class="c19" cx="333.9" cy="211.8" r="2.236"/>
<circle class="c19" cx="333.6" cy="214.4" r="2.236"/>
<circle class="c20" cx="331.9" cy="217.0" r="2.236"/>
<circle class="c20" cx="329.7" cy="219.6" r="2.236"/>
<circle class="c5" cx="327.3" cy="223.0" r="2.236"/>
<circle class="c18" cx="340.2" cy="201.0" r="2.236"/>
<circle class="c18" cx="340.9" cy="203.3" r="2.236"/>
<circle class="c18" cx="341.3" cy="205.7" r="2.236"/>
<circle class="c19" cx="341.6" cy="208.0" r="2.236"/>
<circle class="c19" cx="341.5" cy="210.3" r="2.236"/>
<circle class="c19" cx="341.0" cy="212.6" r="2.236"/>
<circle class="c19" cx="340.5" cy="215.0" r="2.236"/>
<circle class="c20" cx="339.3" cy="217.3" r="2.236"/>
<circle class="c20" cx="338.5" cy="219.6" r="2.236"/>
<circle class="c5" cx="335.2" cy="224.0" r="2.236"/>
<circle class="c18" cx="345.1" cy="198.2" r="2.236"/>
<circle class="c18" cx="345.9" cy="200.6" r="2.236"/>
<circle class="c18" cx="346.6" cy="203.0" r="2.236"/>
<circle class="c18" cx="346.6" cy="205.3" r="2.236"/>
<circle class="c19" cx="346.7" cy="207.7" r="2.236"/>
<circle class="c19" cx="346.3" cy="210.1" r="2.236"/>
<circle class="c19" cx="345.4" cy="212.5" r="2.236"/>
<circle class="c19" cx="345.1" cy="214.8" r="2.236"/>
<circle class="c20" cx="343.0" cy="217.2" r="2.236"/>
<circle class="c21" cx="339.5" cy="222.3" r="2.236"/>
<circle class="c22" cx="351.2" cy="195.6" r="2.236"/>
<circle class="c22" cx="351.5" cy="198.0" r="2.236"/>
<circle class="c18" cx="351.5" cy="200.4" r="2.236"/>
<circle class="c18" cx="352.2" cy="202.8" r="2.236"/>
<circle class="c18" cx="352.1" cy="205.2" r="2.236"/>
<circle class="c19" cx="352.1" cy="207.6" r="2.236"/>
<circle class="c19" cx="351.5" cy="210.0" r="2.236"/>
<circle class="c19" cx="351.1" cy="212.4" r="2.236"/>
<circle class="c19" cx="350.2" cy="214.8" r="2.236"/>
<circle class="c20" cx="349.3" cy="217.2" r="2.236"/>
<circle class="c20" cx="347.6" cy="219.6" r="2.236"/>
<circle class="c5" cx="344.3" cy="222.1" r="2.236"/>
<circle class="c22" cx="356.0" cy="193.5" r="2.236"/>
<circle class="c22" cx="356.8" cy="196.0" r="2.236"/>
<circle class="c18" cx="356.5" cy="198.5" r="2.236"/>
<circle class="c18" cx="357.2" cy="200.9" r="2.236"/>
<circle class="c18" cx="357.0" cy="203.4" r="2.236"/>
<circle class="c18" cx="357.2" cy="205.8" r="2.236"/>
<circle class="c19" cx="357.2" cy="208.3" r="2.236"/>
<circle class="c19" cx="356.4" cy="210.8" r="2.236"/>
<circle class="c19" cx="355.7" cy="213.2" r="2.236"/>
<circle class="c20" cx="354.5" cy="215.7" r="2.236"/>
<circle class="c20" cx="353.8" cy="218.2" r="2.236"/>
<circle class="c21" cx="349.4" cy="221.6" r="2.236"/>
<circle class="c22" cx="362.4" cy="191.2" r="2.236"/>
<circle class="c22" cx="362.6" cy="193.5" r="2.236"/>
<circle class="c22" cx="362.9" cy="195.8" r="2.236"/>
<circle class="c22" cx="363.3" cy="198.2" r="2.236"/>
<circle class="c18" cx="363.1" cy="200.5" r="2.236"/>
<circle class="c18" cx="363.4" cy="202.9" r="2.236"/>
<circle class="c18" cx="362.8" cy="205.2" r="2.236"/>
<circle class="c19" cx="362.3" cy="207.5" r="2.236"/>
<circle class="c19" cx="361.1" cy="209.9" r="2.236"/>
<circle class="c19" cx="360.1" cy="212.2" r="2.236"/>
<circle class="c19" cx="358.3" cy="214.6" r="2.236"/>
<circle class="c21" cx="355.8" cy="218.5" r="2.236"/>
<circle class="c23" cx="367.9" cy="189.4" r="2.236"/>
<circle class="c22" cx="367.6" cy="191.7" r="2.236"/>
<circle class="c22" cx="368.8" cy="194.0" r="2.236"/>
<circle class="c22" cx="368.8" cy="196.3" r="2.236"/>
<circle class="c18" cx="369.0" cy="198.6" r="2.236"/>
<circle class="c18" cx="368.8" cy="200.9" r="2.236"/>
<circle class="c18" cx="368.3" cy="203.2" r="2.236"/>
<circle class="c18" cx="367.9" cy="205.5" r="2.236"/>
<circle class="c19" cx="367.3" cy="207.8" r="2.236"/>
<circle class="c19" cx="366.3" cy="210.1" r="2.236"/>
<circle class="c19" cx="364.5" cy="212.4" r="2.236"/>
<circle class="c21" cx="361.9" cy="215.8" r="2.236"/>
<circle class="c23" cx="374.2" cy="187.4" r="2.236"/>
<circle class="c22" cx="374.4" cy="189.8" r="2.236"/>
<circle class="c22" cx="375.2" cy="192.2" r="2.236"/>
<circle class="c22" cx="375.7" cy="194.6" r="2.236"/>
<circle class="c22" cx="375.1" cy="197.0" r="2.236"/>
<circle class="c18" cx="375.7" cy="199.4" r="2.236"/>
<circle class="c18" cx="375.0" cy="201.8" r="2.236"/>
<circle class="c18" cx="374.9" cy="204.2" r="2.236"/>
<circle class="c18" cx="373.7" cy="206.6" r="2.236"/>
<circle class="c19" cx="372.4" cy="209.0" r="2.236"/>
<circle class="c19" cx="371.6" cy="211.4" r="2.236"/>
<circle class="c21" cx="367.7" cy="215.7" r="2.236"/>
<circle class="c23" cx="379.7" cy="185.8" r="2.236"/>
<circle class="c23" cx="380.1" cy="188.2" r="2.236"/>
<circle class="c22" cx="380.6" cy="190.7" r="2.236"/>
<circle class="c22" cx="380.7" cy="193.2" r="2.236"/>
<circle class="c22" cx="381.0" cy="195.7" r="2.236"/>
<circle class="c22" cx="380.4" cy="198.2" r="2.236"/>
<circle class="c18" cx="380.7" cy="200.7" r="2.236"/>
<circle class="c18" cx="380.2" cy="203.1" r="2.236"/>
<circle class="c18" cx="380.0" cy="205.6" r="2.236"/>
<circle class="c19" cx="378.6" cy="208.1" r="2.236"/>
<circle class="c19" cx="377.1" cy="210.6" r="2.236"/>
<circle class="c23" cx="386.7" cy="184.2" r="2.236"/>
<circle class="c23" cx="386.8" cy="186.5" r="2.236"/>
<circle class="c23" cx="387.8" cy="188.8" r="2.236"/>
<circle class="c22" cx="387.9" cy="191.1" r="2.236"/>
<circle class="c22" cx="387.7" cy="193.4" r="2.236"/>
<circle class="c22" cx="387.9" cy="195.8" r="2.236"/>
<circle class="c22" cx="387.9" cy="198.1" r="2.236"/>
<circle class="c18" cx="387.3" cy="200.4" r="2.236"/>
<circle class="c18" cx="386.6" cy="202.7" r="2.236"/>
<circle class="c18" cx="385.5" cy="205.0" r="2.236"/>
<circle class="c19" cx="384.3" cy="207.4" r="2.236"/>
<circle class="c19" cx="383.1" cy="209.7" r="2.236"/>
<circle class="c23" cx="393.1" cy="183.0" r="2.236"/>
<circle class="c23" cx="394.0" cy="185.4" r="2.236"/>
<circle class="c23" cx="393.9" cy="187.7" r="2.236"/>
<circle class="c22" cx="394.6" cy="190.1" r="2.236"/>
<circle class="c22" cx="394.6" cy="192.4" r="2.236"/>
<circle class="c22" cx="394.8" cy="194.7" r="2.236"/>
<circle class="c22" cx="394.9" cy="197.1" r="2.236"/>
<circle class="c18" cx="394.4" cy="199.4" r="2.236"/>
<circle class="c18" cx="393.9" cy="201.8" r="2.236"/>
<circle class="c18" cx="392.9" cy="204.1" r="2.236"/>
<circle class="c18" cx="392.1" cy="206.5" r="2.236"/>
<circle class="c19" cx="391.4" cy="208.8" r="2.236"/>
<circle class="c24" cx="388.9" cy="213.0" r="2.236"/>
<circle class="c23" cx="400.2" cy="181.8" r="2.236"/>
<circle class="c23" cx="400.8" cy="184.1" r="2.236"/>
<circle class="c23" cx="400.9" cy="186.5" r="2.236"/>
<circle class="c23" cx="401.2" cy="188.8" r="2.236"/>
<circle class="c22" cx="401.2" cy="191.2" r="2.236"/>
<circle class="c22" cx="401.6" cy="193.5" r="2.236"/>
<circle class="c22" cx="401.0" cy="195.9" r="2.236"/>
<circle class="c18" cx="401.0" cy="198.2" r="2.236"/>
<circle class="c18" cx="400.1" cy="200.6" r="2.236"/>
<circle class="c18" cx="399.9" cy="202.9" r="2.236"/>
<circle class="c18" cx="398.5" cy="205.2" r="2.236"/>
<circle class="c19" cx="397.8" cy="207.6" r="2.236"/>
<circle class="c24" cx="393.8" cy="211.7" r="2.236"/>
<circle class="c10" cx="406.6" cy="180.9" r="2.236"/>
<circle class="c23" cx="407.2" cy="183.2" r="2.236"/>
<circle class="c23" cx="407.5" cy="185.5" r="2.236"/>
<circle class="c23" cx="407.4" cy="187.8" r="2.236"/>
<circle class="c22" cx="408.1" cy="190.2" r="2.236"/>
<circle class="c22" cx="408.2" cy="192.5" r="2.236"/>
<circle class="c22" cx="407.8" cy="194.8" r="2.236"/>
<circle class="c22" cx="407.9" cy="197.1" r="2.236"/>
<circle class="c18" cx="407.1" cy="199.5" r="2.236"/>
<circle class="c18" cx="406.5" cy="201.8" r="2.236"/>
<circle class="c18" cx="405.9" cy="204.1" r="2.236"/>
<circle class="c18" cx="404.8" cy="206.4" r="2.236"/>
<circle class="c24" cx="402.3" cy="211.6" r="2.236"/>
<circle class="c10" cx="413.0" cy="180.0" r="2.236"/>
<circle class="c23" cx="413.5" cy="182.4" r="2.236"/>
<circle class="c23" cx="414.4" cy="184.8" r="2.236"/>
<circle class="c23" cx="414.4" cy="187.1" r="2.236"/>
<circle class="c23" cx="414.8" cy="189.5" r="2.236"/>
<circle class="c22" cx="414.9" cy="191.9" r="2.236"/>
<circle class="c22" cx="414.3" cy="194.3" r="2.236"/>
<circle class="c22" cx="413.7" cy="196.6" r="2.236"/>
<circle class="c18" cx="412.7" cy="199.0" r="2.236"/>
<circle class="c18" cx="412.4" cy="201.4" r="2.236"/>
<circle class="c18" cx="411.0" cy="203.8" r="2.236"/>
<circle class="c24" cx="409.0" cy="208.1" r="2.236"/>
<circle class="c10" cx="420.2" cy="179.4" r="2.236"/>
<circle class="c23" cx="420.6" cy="181.9" r="2.236"/>
<circle class="c23" cx="420.5" cy="184.3" r="2.236"/>
<circle class="c23" cx="420.9" cy="186.8" r="2.236"/>
<circle class="c23" cx="421.1" cy="189.2" r="2.236"/>
<circle class="c22" cx="421.2" cy="191.7" r="2.236"/>
<circle class="c22" cx="420.9" cy="194.2" r="2.236"/>
<circle class="c22" cx="420.9" cy="196.6" r="2.236"/>
<circle class="c18" cx="420.4" cy="199.1" r="2.236"/>
<circle class="c18" cx="419.8" cy="201.5" r="2.236"/>
<circle class="c18" cx="418.8" cy="204.0" r="2.236"/>
<circle class="c18" cx="418.1" cy="206.4" r="2.236"/>
<circle class="c10" cx="427.0" cy="178.8" r="2.236"/>
<circle class="c23" cx="427.8" cy="181.3" r="2.236"/>
<circle class="c23" cx="428.5" cy="183.9" r="2.236"/>
<circle class="c23" cx="428.4" cy="186.4" r="2.236"/>
<circle class="c23" cx="428.2" cy="188.9" r="2.236"/>
<circle class="c22" cx="427.4" cy="191.5" r="2.236"/>
<circle class="c22" cx="426.5" cy="194.0" r="2.236"/>
<circle class="c22" cx="424.6" cy="196.6" r="2.236"/>
<circle class="c25" cx="421.0" cy="200.5" r="2.236"/>
<circle class="c10" cx="434.3" cy="178.8" r="2.236"/>
<circle class="c10" cx="434.6" cy="181.1" r="2.236"/>
<circle class="c23" cx="435.6" cy="183.4" r="2.236"/>
<circle class="c23" cx="435.4" cy="185.7" r="2.236"/>
<circle class="c23" cx="435.4" cy="188.0" r="2.236"/>
<circle class="c22" cx="434.7" cy="190.3" r="2.236"/>
<circle class="c22" cx="433.6" cy="192.7" r="2.236"/>
<circle class="c22" cx="431.8" cy="195.0" r="2.236"/>
<circle class="c25" cx="429.3" cy="200.2" r="2.236"/>
<circle class="c26" cx="319.7" cy="257.8" r="2.236"/>
<circle class="c26" cx="321.8" cy="260.6" r="2.236"/>
<circle class="c26" cx="324.0" cy="263.5" r="2.236"/>
<circle class="c26" cx="326.2" cy="265.7" r="2.236"/>
<circle class="c26" cx="328.3" cy="267.8" r="2.236"/>
<circle class="c26" cx="316.8" cy="260.6" r="2.236"/>
<circle class="c26" cx="313.9" cy="263.5" r="2.236"/>
<circle class="c26" cx="321.1" cy="265.0" r="2.236"/>
<circle class="c26" cx="325.4" cy="268.6" r="2.236"/>
<circle class="c9" cx="386.9" cy="282.2" r="2.236"/>
<circle class="c9" cx="387.6" cy="287.5" r="2.236"/>
<circle class="c9" cx="389.9" cy="282.5" r="2.236"/>
<circle class="c9" cx="391.3" cy="284.3" r="2.236"/>
<circle class="c9" cx="391.9" cy="281.4" r="2.236"/>
<circle class="c9" cx="393.0" cy="287.6" r="2.236"/>
<circle class="c9" cx="396.3" cy="283.1" r="2.236"/>
<circle class="c9" cx="395.8" cy="284.1" r="2.236"/>
<circle class="c9" cx="397.2" cy="283.0" r="2.236"/>
<circle class="c9" cx="399.0" cy="284.9" r="2.236"/>
<circle class="c9" cx="402.6" cy="281.1" r="2.236"/>
<circle class="c9" cx="402.6" cy="286.9" r="2.236"/>
<circle class="c9" cx="404.1" cy="281.4" r="2.236"/>
<circle class="c9" cx="405.2" cy="285.1" r="2.236"/>
<circle class="c9" cx="408.1" cy="281.4" r="2.236"/>
<circle class="c9" cx="408.1" cy="285.9" r="2.236"/>
<circle class="c9" cx="410.1" cy="281.6" r="2.236"/>
<circle class="c9" cx="410.6" cy="284.5" r="2.236"/>
<circle class="c9" cx="413.1" cy="282.0" r="2.236"/>
<circle class="c9" cx="413.8" cy="284.9" r="2.236"/>
<circle class="c9" cx="417.4" cy="282.0" r="2.236"/>
<circle class="c9" cx="415.3" cy="286.8" r="2.236"/>
<circle class="c9" cx="420.2" cy="282.1" r="2.236"/>
<circle class="c9" cx="418.4" cy="285.9" r="2.236"/>
<circle class="c9" cx="421.4" cy="282.0" r="2.236"/>
<circle class="c9" cx="423.0" cy="286.1" r="2.236"/>
<circle class="c9" cx="424.9" cy="282.5" r="2.236"/>
<circle class="c9" cx="424.8" cy="286.4" r="2.236"/>
<circle class="c9" cx="428.3" cy="282.0" r="2.236"/>
<circle class="c9" cx="427.8" cy="287.6" r="2.236"/>
<circle class="c9" cx="430.9" cy="282.1" r="2.236"/>
<circle class="c9" cx="432.0" cy="285.8" r="2.236"/>
<circle class="c9" cx="432.6" cy="282.7" r="2.236"/>
<circle class="c9" cx="432.8" cy="285.5" r="2.236"/>
<circle class="c9" cx="436.6" cy="282.1" r="2.236"/>
<circle class="c9" cx="435.8" cy="285.4" r="2.236"/>
<circle class="c9" cx="438.8" cy="283.1" r="2.236"/>
<circle class="c9" cx="438.7" cy="285.4" r="2.236"/>
<circle class="c27" cx="326.4" cy="214.4" r="2.236"/>
<circle class="c27" cx="326.7" cy="217.2" r="2.236"/>
<circle class="c27" cx="326.8" cy="219.1" r="2.236"/>
<circle class="c27" cx="327.3" cy="221.9" r="2.236"/>
<circle class="c27" cx="327.8" cy="223.9" r="2.236"/>
<circle class="c27" cx="328.2" cy="226.4" r="2.236"/>
<circle class="c27" cx="328.0" cy="228.5" r="2.236"/>
<circle class="c27" cx="328.6" cy="230.4" r="2.236"/>
<circle class="c27" cx="269.3" cy="219.6" r="2.236"/>
<circle class="c27" cx="275.8" cy="229.7" r="2.236"/>
<circle class="c27" cx="293.4" cy="229.3" r="2.236"/>
<circle class="c27" cx="314.6" cy="211.3" r="2.236"/>
<circle class="c27" cx="310.0" cy="217.8" r="2.236"/>
<circle class="c28" cx="335.5" cy="262.4" r="2.236"/>
<circle class="c27" cx="332.6" cy="205.9" r="2.236"/>
<circle class="c27" cx="333.4" cy="217.1" r="2.236"/>
<circle class="c10" cx="363.8" cy="222.7" r="2.236"/>
<circle class="c29" cx="361.4" cy="233.3" r="2.236"/>
<circle class="c28" cx="358.1" cy="252.0" r="2.236"/>
<circle class="c28" cx="371.5" cy="258.3" r="2.236"/>
<circle class="c10" cx="397.4" cy="220.3" r="2.236"/>
<circle class="c30" cx="395.5" cy="230.9" r="2.236"/>
<circle class="c30" cx="405.1" cy="229.5" r="2.236"/>
<circle class="c30" cx="405.6" cy="233.3" r="2.236"/>
<circle class="c10" cx="409.5" cy="218.9" r="2.236"/>
<circle class="c31" cx="415.2" cy="216.0" r="2.236"/>
<circle class="c31" cx="418.1" cy="215.5" r="2.236"/>
<circle class="c31" cx="416.7" cy="219.8" r="2.236"/>
<circle class="c31" cx="417.1" cy="230.4" r="2.236"/>
<circle class="c31" cx="422.4" cy="231.8" r="2.236"/>
<circle class="c31" cx="427.7" cy="225.1" r="2.236"/>
<circle class="c32" cx="423.9" cy="209.3" r="2.236"/>
<circle class="c10" cx="409.7" cy="218.2" r="2.236"/>
<circle class="c31" cx="427.5" cy="225.4" r="2.236"/>
<circle class="c10" cx="440.4" cy="225.4" r="2.236"/>
<circle class="c10" cx="437.0" cy="241.2" r="2.236"/>
<circle class="c10" cx="392.2" cy="258.7" r="2.236"/>
<circle class="c23" cx="397.4" cy="259.2" r="2.236"/>
<circle class="c23" cx="404.6" cy="253.9" r="2.236"/>
<circle class="c23" cx="406.1" cy="257.3" r="2.236"/>
<circle class="c13" cx="394.1" cy="271.7" r="2.236"/>
<circle class="c15" cx="390.2" cy="281.3" r="2.236"/>
<circle class="c13" cx="414.2" cy="278.4" r="2.236"/>
<circle class="c13" cx="411.8" cy="279.4" r="2.236"/>
<circle class="c15" cx="405.6" cy="281.7" r="2.236"/>
<circle class="c10" cx="465.8" cy="219.6" r="2.236"/>
<circle class="c29" cx="490.9" cy="256.2" r="2.236"/>
<circle class="c29" cx="500.4" cy="249.1" r="2.236"/>
<circle class="c11" cx="494.6" cy="265.0" r="2.236"/>
<circle class="c12" cx="494.9" cy="269.8" r="2.236"/>
<circle class="c13" cx="503.1" cy="229.9" r="2.236"/>
<circle class="c11" cx="500.6" cy="248.6" r="2.236"/>
<circle class="c11" cx="490.5" cy="255.8" r="2.236"/>
<circle class="c8" cx="549.1" cy="205.9" r="2.236"/>
<circle class="c33" cx="353.4" cy="378.6" r="2.236"/>
<circle class="c33" cx="368.4" cy="381.6" r="2.236"/>
<circle class="c33" cx="379.2" cy="384.0" r="2.236"/>
<circle class="c17" cx="564.1" cy="274.6" r="2.236"/>
<circle class="c17" cx="564.0" cy="277.6" r="2.236"/>
<circle class="c11" cx="564.1" cy="280.7" r="2.236"/>
<circle class="c11" cx="564.1" cy="283.8" r="2.236"/>
<circle class="c11" cx="564.2" cy="287.1" r="2.236"/>
<circle class="c12" cx="564.1" cy="290.4" r="2.236"/>
<circle class="c12" cx="563.8" cy="293.9" r="2.236"/>
<circle class="c12" cx="564.2" cy="297.5" r="2.236"/>
<circle class="c13" cx="564.1" cy="301.2" r="2.236"/>
<circle class="c13" cx="564.0" cy="305.1" r="2.236"/>
<circle class="c15" cx="564.2" cy="322.3" r="2.236"/>
<circle class="c16" cx="564.2" cy="326.2" r="2.236"/>
<circle class="c29" cx="563.8" cy="273.3" r="2.236"/>
<circle class="c17" cx="563.9" cy="276.5" r="2.236"/>
<circle class="c17" cx="563.7" cy="279.8" r="2.236"/>
<circle class="c11" cx="563.6" cy="283.3" r="2.236"/>
<circle class="c11" cx="563.8" cy="286.8" r="2.236"/>
<circle class="c11" cx="563.6" cy="290.5" r="2.236"/>
<circle class="c12" cx="563.7" cy="294.3" r="2.236"/>
<circle class="c12" cx="563.7" cy="298.2" r="2.236"/>
<circle class="c13" cx="563.6" cy="302.3" r="2.236"/>
<circle class="c13" cx="563.7" cy="306.6" r="2.236"/>
<circle class="c14" cx="564.0" cy="311.1" r="2.236"/>
<circle class="c14" cx="563.6" cy="315.8" r="2.236"/>
<circle class="c15" cx="563.6" cy="320.7" r="2.236"/>
<circle class="c15" cx="563.7" cy="325.9" r="2.236"/>
<circle class="c12" cx="307.9" cy="293.1" r="2.236"/>
<circle class="c12" cx="308.0" cy="297.1" r="2.236"/>
<circle class="c13" cx="307.9" cy="301.1" r="2.236"/>
<circle class="c13" cx="307.8" cy="305.3" r="2.236"/>
<circle class="c14" cx="307.9" cy="309.7" r="2.236"/>
<circle class="c14" cx="308.1" cy="314.2" r="2.236"/>
<circle class="c15" cx="308.0" cy="323.7" r="2.236"/>
<circle class="c15" cx="307.8" cy="325.8" r="2.236"/>
<circle class="c28" cx="534.2" cy="198.1" r="2.236"/>
<circle class="c28" cx="534.3" cy="201.2" r="2.236"/>
<circle class="c28" cx="534.1" cy="203.4" r="2.236"/>
<circle class="c34" cx="534.2" cy="205.9" r="2.236"/>
<circle class="c34" cx="534.6" cy="208.4" r="2.236"/>
<circle class="c34" cx="534.8" cy="211.1" r="2.236"/>
<circle class="c29" cx="534.9" cy="213.3" r="2.236"/>
<circle class="c29" cx="534.9" cy="215.7" r="2.236"/>
<circle class="c29" cx="534.9" cy="218.0" r="2.236"/>
<circle class="c29" cx="535.3" cy="220.1" r="2.236"/>
<circle class="c17" cx="535.9" cy="222.3" r="2.236"/>
<circle class="c17" cx="535.5" cy="224.9" r="2.236"/>
<circle class="c17" cx="535.4" cy="226.9" r="2.236"/>
<circle class="c11" cx="535.7" cy="229.0" r="2.236"/>
<circle class="c11" cx="536.2" cy="231.5" r="2.236"/>
<circle class="c11" cx="536.7" cy="233.7" r="2.236"/>
<circle class="c11" cx="536.9" cy="235.8" r="2.236"/>
<circle class="c12" cx="536.7" cy="238.0" r="2.236"/>
<circle class="c12" cx="536.9" cy="239.7" r="2.236"/>
<circle class="c12" cx="537.6" cy="242.0" r="2.236"/>
<circle class="c12" cx="537.5" cy="244.0" r="2.236"/>
<circle class="c13" cx="537.8" cy="245.5" r="2.236"/>
<circle class="c13" cx="537.9" cy="247.5" r="2.236"/>
<circle class="c13" cx="538.1" cy="249.5" r="2.236"/>
<circle class="c13" cx="538.6" cy="251.7" r="2.236"/>
<circle class="c13" cx="538.4" cy="253.4" r="2.236"/>
<circle class="c28" cx="529.4" cy="195.6" r="2.236"/>
<circle class="c28" cx="529.5" cy="198.5" r="2.236"/>
<circle class="c34" cx="529.6" cy="201.8" r="2.236"/>
<circle class="c34" cx="530.0" cy="204.8" r="2.236"/>
<circle class="c34" cx="530.1" cy="207.8" r="2.236"/>
<circle class="c29" cx="530.4" cy="210.6" r="2.236"/>
<circle class="c29" cx="530.8" cy="213.2" r="2.236"/>
<circle class="c29" cx="530.8" cy="215.9" r="2.236"/>
<circle class="c17" cx="531.0" cy="218.5" r="2.236"/>
<circle class="c17" cx="531.5" cy="221.1" r="2.236"/>
<circle class="c17" cx="531.5" cy="223.1" r="2.236"/>
<circle class="c17" cx="531.8" cy="225.7" r="2.236"/>
<circle class="c11" cx="532.3" cy="228.0" r="2.236"/>
<circle class="c11" cx="532.3" cy="230.5" r="2.236"/>
<circle class="c11" cx="532.5" cy="232.5" r="2.236"/>
<circle class="c11" cx="533.2" cy="235.0" r="2.236"/>
<circle class="c12" cx="533.3" cy="236.7" r="2.236"/>
<circle class="c12" cx="533.2" cy="238.8" r="2.236"/>
<circle class="c12" cx="533.7" cy="240.6" r="2.236"/>
<circle class="c12" cx="533.9" cy="242.4" r="2.236"/>
<circle class="c13" cx="534.2" cy="244.3" r="2.236"/>
<circle class="c13" cx="534.9" cy="246.0" r="2.236"/>
<circle class="c13" cx="534.5" cy="247.3" r="2.236"/>
<circle class="c13" cx="534.8" cy="248.9" r="2.236"/>
<circle class="c13" cx="535.6" cy="250.7" r="2.236"/>
<circle class="c14" cx="535.6" cy="252.1" r="2.236"/>
<circle class="c14" cx="535.9" cy="253.1" r="2.236"/>
<circle class="c14" cx="536.1" cy="254.5" r="2.236"/>
<circle class="c28" cx="525.4" cy="193.7" r="2.236"/>
<circle class="c28" cx="524.9" cy="197.0" r="2.236"/>
<circle class="c34" cx="525.4" cy="199.9" r="2.236"/>
<circle class="c34" cx="526.1" cy="203.5" r="2.236"/>
<circle class="c34" cx="525.7" cy="206.5" r="2.236"/>
<circle class="c29" cx="526.4" cy="209.1" r="2.236"/>
<circle class="c29" cx="526.6" cy="211.8" r="2.236"/>
<circle class="c29" cx="526.4" cy="214.6" r="2.236"/>
<circle class="c17" cx="526.6" cy="217.8" r="2.236"/>
<circle class="c17" cx="526.7" cy="220.0" r="2.236"/>
<circle class="c17" cx="527.0" cy="222.8" r="2.236"/>
<circle class="c11" cx="527.3" cy="225.4" r="2.236"/>
<circle class="c11" cx="527.4" cy="227.4" r="2.236"/>
<circle class="c11" cx="527.6" cy="230.0" r="2.236"/>
<circle class="c11" cx="527.7" cy="232.3" r="2.236"/>
<circle class="c12" cx="528.5" cy="234.3" r="2.236"/>
<circle class="c12" cx="528.4" cy="236.8" r="2.236"/>
<circle class="c12" cx="528.4" cy="238.4" r="2.236"/>
<circle class="c12" cx="528.5" cy="240.6" r="2.236"/>
<circle class="c13" cx="529.1" cy="242.3" r="2.236"/>
<circle class="c13" cx="529.2" cy="244.4" r="2.236"/>
<circle class="c13" cx="529.6" cy="245.6" r="2.236"/>
<circle class="c13" cx="529.6" cy="247.6" r="2.236"/>
<circle class="c13" cx="530.0" cy="249.1" r="2.236"/>
<circle class="c14" cx="529.9" cy="250.5" r="2.236"/>
<circle class="c14" cx="529.9" cy="252.1" r="2.236"/>
<circle class="c14" cx="530.4" cy="253.5" r="2.236"/>
<circle class="c14" cx="530.5" cy="254.6" r="2.236"/>
<circle class="c14" cx="530.8" cy="255.7" r="2.236"/>
<circle class="c14" cx="531.4" cy="256.9" r="2.236"/>
<circle class="c22" cx="563.2" cy="268.0" r="2.236"/>
<circle class="c18" cx="562.9" cy="271.0" r="2.236"/>
<circle class="c18" cx="562.9" cy="274.0" r="2.236"/>
<circle class="c18" cx="562.9" cy="277.1" r="2.236"/>
<circle class="c19" cx="563.1" cy="280.3" r="2.236"/>
<circle class="c19" cx="563.1" cy="283.7" r="2.236"/>
<circle class="c20" cx="562.8" cy="287.1" r="2.236"/>
<circle class="c20" cx="562.8" cy="290.6" r="2.236"/>
<circle class="c20" cx="563.0" cy="294.3" r="2.236"/>
<circle class="c35" cx="563.0" cy="298.1" r="2.236"/>
<circle class="c35" cx="563.0" cy="302.0" r="2.236"/>
<circle class="c36" cx="562.9" cy="306.2" r="2.236"/>
<circle class="c37" cx="562.8" cy="314.9" r="2.236"/>
<circle class="c37" cx="562.8" cy="319.6" r="2.236"/>
<circle class="c38" cx="563.1" cy="324.6" r="2.236"/>
<circle class="c38" cx="562.9" cy="328.1" r="2.236"/>
<circle class="c28" cx="522.0" cy="191.5" r="2.236"/>
<circle class="c28" cx="521.6" cy="195.3" r="2.236"/>
<circle class="c34" cx="521.8" cy="197.6" r="2.236"/>
<circle class="c34" cx="521.8" cy="200.8" r="2.236"/>
<circle class="c34" cx="522.2" cy="203.2" r="2.236"/>
<circle class="c29" cx="522.2" cy="206.2" r="2.236"/>
<circle class="c29" cx="522.3" cy="209.1" r="2.236"/>
<circle class="c29" cx="522.1" cy="211.1" r="2.236"/>
<circle class="c29" cx="522.4" cy="214.4" r="2.236"/>
<circle class="c17" cx="522.6" cy="216.6" r="2.236"/>
<circle class="c17" cx="523.1" cy="218.8" r="2.236"/>
<circle class="c17" cx="522.9" cy="221.3" r="2.236"/>
<circle class="c11" cx="522.8" cy="223.8" r="2.236"/>
<circle class="c11" cx="523.3" cy="225.9" r="2.236"/>
<circle class="c11" cx="522.9" cy="228.1" r="2.236"/>
<circle class="c11" cx="523.3" cy="230.6" r="2.236"/>
<circle class="c12" cx="523.4" cy="232.6" r="2.236"/>
<circle class="c12" cx="523.4" cy="235.2" r="2.236"/>
<circle class="c12" cx="523.6" cy="237.2" r="2.236"/>
<circle class="c12" cx="523.9" cy="239.1" r="2.236"/>
<circle class="c13" cx="523.6" cy="241.3" r="2.236"/>
<circle class="c13" cx="524.2" cy="243.3" r="2.236"/>
<circle class="c13" cx="523.9" cy="244.6" r="2.236"/>
<circle class="c13" cx="524.0" cy="246.6" r="2.236"/>
<circle class="c14" cx="524.9" cy="248.7" r="2.236"/>
<circle class="c14" cx="524.9" cy="250.4" r="2.236"/>
<circle class="c14" cx="525.2" cy="252.0" r="2.236"/>
<circle class="c14" cx="525.4" cy="253.7" r="2.236"/>
<circle class="c14" cx="525.0" cy="255.2" r="2.236"/>
<circle class="c15" cx="526.0" cy="256.8" r="2.236"/>
<circle class="c15" cx="525.9" cy="258.3" r="2.236"/>
<circle class="c15" cx="526.0" cy="260.1" r="2.236"/>
<circle class="c5" cx="433.9" cy="252.7" r="2.236"/>
<circle class="c5" cx="434.3" cy="254.7" r="2.236"/>
<circle class="c6" cx="434.4" cy="257.0" r="2.236"/>
<circle class="c6" cx="435.0" cy="259.1" r="2.236"/>
<circle class="c39" cx="435.6" cy="261.2" r="2.236"/>
<circle class="c39" cx="435.9" cy="263.4" r="2.236"/>
<circle class="c39" cx="436.4" cy="265.7" r="2.236"/>
<circle class="c7" cx="436.5" cy="267.7" r="2.236"/>
<circle class="c7" cx="437.4" cy="270.0" r="2.236"/>
<circle class="c8" cx="437.8" cy="272.3" r="2.236"/>
<circle class="c8" cx="437.9" cy="274.3" r="2.236"/>
<circle class="c8" cx="438.6" cy="276.8" r="2.236"/>
<circle class="c9" cx="439.2" cy="278.7" r="2.236"/>
<circle class="c9" cx="439.5" cy="281.2" r="2.236"/>
<circle class="c9" cx="440.5" cy="283.0" r="2.236"/>
<circle class="c40" cx="440.7" cy="285.6" r="2.236"/>
<circle class="c40" cx="441.1" cy="288.0" r="2.236"/>
<circle class="c5" cx="444.1" cy="243.3" r="2.236"/>
<circle class="c5" cx="444.2" cy="246.0" r="2.236"/>
<circle class="c6" cx="444.3" cy="248.0" r="2.236"/>
<circle class="c6" cx="444.4" cy="250.0" r="2.236"/>
<circle class="c6" cx="444.5" cy="252.4" r="2.236"/>
<circle class="c39" cx="444.3" cy="254.7" r="2.236"/>
<circle class="c39" cx="444.5" cy="257.1" r="2.236"/>
<circle class="c7" cx="444.6" cy="259.1" r="2.236"/>
<circle class="c7" cx="445.0" cy="261.7" r="2.236"/>
<circle class="c7" cx="445.1" cy="263.9" r="2.236"/>
<circle class="c8" cx="444.9" cy="266.0" r="2.236"/>
<circle class="c8" cx="445.0" cy="268.6" r="2.236"/>
<circle class="c8" cx="445.2" cy="270.4" r="2.236"/>
<circle class="c9" cx="445.2" cy="272.7" r="2.236"/>
<circle class="c9" cx="445.4" cy="275.1" r="2.236"/>
<circle class="c40" cx="445.2" cy="277.7" r="2.236"/>
<circle class="c40" cx="445.6" cy="279.6" r="2.236"/>
<circle class="c40" cx="445.7" cy="282.2" r="2.236"/>
<circle class="c5" cx="454.7" cy="238.1" r="2.236"/>
<circle class="c5" cx="454.1" cy="240.3" r="2.236"/>
<circle class="c5" cx="454.1" cy="242.1" r="2.236"/>
<circle class="c6" cx="454.0" cy="244.2" r="2.236"/>
<circle class="c6" cx="454.2" cy="246.9" r="2.236"/>
<circle class="c6" cx="453.6" cy="249.0" r="2.236"/>
<circle class="c39" cx="453.3" cy="251.3" r="2.236"/>
<circle class="c39" cx="453.7" cy="253.3" r="2.236"/>
<circle class="c39" cx="453.2" cy="256.0" r="2.236"/>
<circle class="c7" cx="453.4" cy="258.5" r="2.236"/>
<circle class="c7" cx="452.9" cy="260.3" r="2.236"/>
<circle class="c7" cx="453.0" cy="262.7" r="2.236"/>
<circle class="c7" cx="452.6" cy="265.3" r="2.236"/>
<circle class="c8" cx="452.9" cy="267.4" r="2.236"/>
<circle class="c8" cx="452.2" cy="269.8" r="2.236"/>
<circle class="c8" cx="451.7" cy="272.0" r="2.236"/>
<circle class="c9" cx="451.7" cy="274.8" r="2.236"/>
<circle class="c9" cx="451.9" cy="276.6" r="2.236"/>
<circle class="c9" cx="451.5" cy="278.3" r="2.236"/>
<circle class="c40" cx="451.5" cy="281.5" r="2.236"/>
<circle class="c40" cx="451.0" cy="283.6" r="2.236"/>
<circle class="c40" cx="451.1" cy="285.4" r="2.236"/>
<circle class="c40" cx="450.7" cy="288.0" r="2.236"/>
<circle class="c5" cx="462.3" cy="239.2" r="2.236"/>
<circle class="c5" cx="462.0" cy="241.1" r="2.236"/>
<circle class="c5" cx="461.9" cy="242.9" r="2.236"/>
<circle class="c6" cx="461.6" cy="245.6" r="2.236"/>
<circle class="c6" cx="461.1" cy="247.8" r="2.236"/>
<circle class="c6" cx="461.1" cy="249.3" r="2.236"/>
<circle class="c39" cx="461.0" cy="251.7" r="2.236"/>
<circle class="c39" cx="460.9" cy="253.9" r="2.236"/>
<circle class="c39" cx="460.9" cy="256.1" r="2.236"/>
<circle class="c7" cx="460.5" cy="258.3" r="2.236"/>
<circle class="c7" cx="460.2" cy="260.9" r="2.236"/>
<circle class="c7" cx="460.1" cy="262.7" r="2.236"/>
<circle class="c7" cx="459.6" cy="265.2" r="2.236"/>
<circle class="c8" cx="459.8" cy="267.0" r="2.236"/>
<circle class="c8" cx="459.4" cy="269.1" r="2.236"/>
<circle class="c8" cx="458.9" cy="271.3" r="2.236"/>
<circle class="c9" cx="458.9" cy="273.7" r="2.236"/>
<circle class="c9" cx="458.5" cy="275.9" r="2.236"/>
<circle class="c9" cx="458.6" cy="278.0" r="2.236"/>
<circle class="c9" cx="458.4" cy="280.0" r="2.236"/>
<circle class="c40" cx="457.9" cy="282.3" r="2.236"/>
<circle class="c40" cx="457.7" cy="284.6" r="2.236"/>
<circle class="c40" cx="457.4" cy="286.6" r="2.236"/>
<circle class="c5" cx="467.0" cy="237.9" r="2.236"/>
<circle class="c5" cx="466.9" cy="239.9" r="2.236"/>
<circle class="c6" cx="466.6" cy="242.3" r="2.236"/>
<circle class="c6" cx="466.9" cy="244.7" r="2.236"/>
<circle class="c6" cx="466.6" cy="246.5" r="2.236"/>
<circle class="c39" cx="466.0" cy="249.0" r="2.236"/>
<circle class="c39" cx="465.8" cy="251.7" r="2.236"/>
<circle class="c39" cx="465.8" cy="253.7" r="2.236"/>
<circle class="c39" cx="465.7" cy="255.8" r="2.236"/>
<circle class="c7" cx="465.1" cy="258.1" r="2.236"/>
<circle class="c7" cx="465.2" cy="260.7" r="2.236"/>
<circle class="c7" cx="465.0" cy="263.2" r="2.236"/>
<circle class="c8" cx="464.3" cy="265.1" r="2.236"/>
<circle class="c8" cx="464.3" cy="267.3" r="2.236"/>
<circle class="c8" cx="463.9" cy="270.1" r="2.236"/>
<circle class="c9" cx="463.9" cy="272.4" r="2.236"/>
<circle class="c9" cx="463.4" cy="274.4" r="2.236"/>
<circle class="c9" cx="463.3" cy="276.7" r="2.236"/>
<circle class="c40" cx="462.9" cy="279.4" r="2.236"/>
<circle class="c40" cx="462.4" cy="281.2" r="2.236"/>
<circle class="c40" cx="462.2" cy="283.7" r="2.236"/>
<circle class="c5" cx="474.9" cy="233.9" r="2.236"/>
<circle class="c5" cx="474.8" cy="236.0" r="2.236"/>
<circle class="c6" cx="474.5" cy="237.8" r="2.236"/>
<circle class="c6" cx="473.9" cy="240.4" r="2.236"/>
<circle class="c6" cx="473.7" cy="242.2" r="2.236"/>
<circle class="c6" cx="473.4" cy="244.5" r="2.236"/>
<circle class="c39" cx="473.3" cy="246.7" r="2.236"/>
<circle class="c39" cx="473.1" cy="249.4" r="2.236"/>
<circle class="c39" cx="472.8" cy="251.5" r="2.236"/>
<circle class="c7" cx="472.6" cy="253.2" r="2.236"/>
<circle class="c7" cx="472.3" cy="255.4" r="2.236"/>
<circle class="c7" cx="472.1" cy="257.5" r="2.236"/>
<circle class="c8" cx="471.8" cy="260.0" r="2.236"/>
<circle class="c8" cx="470.7" cy="262.2" r="2.236"/>
<circle class="c8" cx="471.1" cy="264.1" r="2.236"/>
<circle class="c8" cx="470.6" cy="266.0" r="2.236"/>
<circle class="c9" cx="470.0" cy="268.2" r="2.236"/>
<circle class="c9" cx="469.7" cy="270.3" r="2.236"/>
<circle class="c9" cx="468.6" cy="273.0" r="2.236"/>
<circle class="c40" cx="469.3" cy="274.9" r="2.236"/>
<circle class="c40" cx="468.6" cy="277.2" r="2.236"/>
<circle class="c40" cx="468.0" cy="279.4" r="2.236"/>
<circle class="c5" cx="482.3" cy="240.3" r="2.236"/>
<circle class="c5" cx="482.4" cy="242.3" r="2.236"/>
<circle class="c6" cx="481.8" cy="245.0" r="2.236"/>
<circle class="c6" cx="481.0" cy="247.7" r="2.236"/>
<circle class="c6" cx="481.4" cy="249.5" r="2.236"/>
<circle class="c39" cx="481.0" cy="252.1" r="2.236"/>
<circle class="c39" cx="480.2" cy="254.8" r="2.236"/>
<circle class="c7" cx="479.9" cy="256.9" r="2.236"/>
<circle class="c7" cx="479.8" cy="259.5" r="2.236"/>
<circle class="c7" cx="479.0" cy="261.1" r="2.236"/>
<circle class="c8" cx="477.7" cy="263.8" r="2.236"/>
<circle class="c8" cx="477.2" cy="265.7" r="2.236"/>
<circle class="c9" cx="476.4" cy="267.8" r="2.236"/>
<circle class="c9" cx="475.6" cy="270.4" r="2.236"/>
<circle class="c9" cx="475.0" cy="272.1" r="2.236"/>
<circle class="c40" cx="474.4" cy="274.6" r="2.236"/>
<circle class="c40" cx="473.5" cy="276.5" r="2.236"/>
<circle class="c40" cx="473.0" cy="278.6" r="2.236"/>
<circle class="c5" cx="494.8" cy="264.1" r="2.236"/>
<circle class="c39" cx="493.8" cy="266.9" r="2.236"/>
<circle class="c7" cx="492.5" cy="269.9" r="2.236"/>
<circle class="c9" cx="491.9" cy="272.7" r="2.236"/>
<circle class="c40" cx="491.0" cy="275.5" r="2.236"/>
<circle class="c28" cx="517.0" cy="189.9" r="2.236"/>
<circle class="c28" cx="517.3" cy="192.8" r="2.236"/>
<circle class="c34" cx="517.6" cy="196.0" r="2.236"/>
<circle class="c34" cx="517.4" cy="198.3" r="2.236"/>
<circle class="c34" cx="517.4" cy="201.3" r="2.236"/>
<circle class="c34" cx="517.1" cy="203.8" r="2.236"/>
<circle class="c29" cx="517.5" cy="206.4" r="2.236"/>
<circle class="c29" cx="517.7" cy="209.2" r="2.236"/>
<circle class="c29" cx="517.3" cy="211.5" r="2.236"/>
<circle class="c17" cx="517.3" cy="214.1" r="2.236"/>
<circle class="c17" cx="517.3" cy="216.7" r="2.236"/>
<circle class="c17" cx="517.6" cy="219.1" r="2.236"/>
<circle class="c11" cx="517.5" cy="221.0" r="2.236"/>
<circle class="c11" cx="517.9" cy="223.6" r="2.236"/>
<circle class="c11" cx="517.8" cy="226.0" r="2.236"/>
<circle class="c11" cx="517.7" cy="228.6" r="2.236"/>
<circle class="c12" cx="517.6" cy="230.8" r="2.236"/>
<circle class="c12" cx="517.2" cy="232.8" r="2.236"/>
<circle class="c12" cx="517.5" cy="234.8" r="2.236"/>
<circle class="c12" cx="517.5" cy="237.0" r="2.236"/>
<circle class="c13" cx="517.9" cy="238.6" r="2.236"/>
<circle class="c13" cx="517.5" cy="240.9" r="2.236"/>
<circle class="c13" cx="517.7" cy="242.9" r="2.236"/>
<circle class="c13" cx="517.5" cy="244.9" r="2.236"/>
<circle class="c14" cx="517.5" cy="247.1" r="2.236"/>
<circle class="c14" cx="517.3" cy="248.8" r="2.236"/>
<circle class="c14" cx="517.0" cy="250.7" r="2.236"/>
<circle class="c14" cx="517.5" cy="252.3" r="2.236"/>
<circle class="c15" cx="517.5" cy="253.7" r="2.236"/>
<circle class="c15" cx="516.8" cy="255.6" r="2.236"/>
<circle class="c15" cx="517.0" cy="257.6" r="2.236"/>
<circle class="c15" cx="517.1" cy="259.2" r="2.236"/>
<circle class="c15" cx="517.2" cy="260.7" r="2.236"/>
<circle class="c16" cx="516.7" cy="262.1" r="2.236"/>
<circle class="c20" cx="308.2" cy="290.6" r="2.236"/>
<circle class="c20" cx="308.3" cy="294.2" r="2.236"/>
<circle class="c35" cx="308.2" cy="298.0" r="2.236"/>
<circle class="c35" cx="308.3" cy="301.8" r="2.236"/>
<circle class="c36" cx="308.4" cy="305.8" r="2.236"/>
<circle class="c37" cx="308.3" cy="314.1" r="2.236"/>
<circle class="c38" cx="308.3" cy="323.0" r="2.236"/>
<circle class="c38" cx="308.4" cy="325.3" r="2.236"/>
<circle class="c28" cx="512.7" cy="188.1" r="2.236"/>
<circle class="c28" cx="512.5" cy="190.7" r="2.236"/>
<circle class="c34" cx="512.7" cy="193.8" r="2.236"/>
<circle class="c34" cx="513.0" cy="196.5" r="2.236"/>
<circle class="c34" cx="513.0" cy="199.3" r="2.236"/>
<circle class="c34" cx="513.1" cy="201.9" r="2.236"/>
<circle class="c29" cx="513.2" cy="204.3" r="2.236"/>
<circle class="c29" cx="513.0" cy="207.1" r="2.236"/>
<circle class="c29" cx="513.4" cy="209.5" r="2.236"/>
<circle class="c17" cx="513.2" cy="212.6" r="2.236"/>
<circle class="c17" cx="513.2" cy="214.5" r="2.236"/>
<circle class="c17" cx="513.5" cy="216.8" r="2.236"/>
<circle class="c11" cx="513.5" cy="219.8" r="2.236"/>
<circle class="c11" cx="513.7" cy="222.0" r="2.236"/>
<circle class="c11" cx="513.6" cy="224.2" r="2.236"/>
<circle class="c11" cx="513.7" cy="226.4" r="2.236"/>
<circle class="c12" cx="513.4" cy="228.8" r="2.236"/>
<circle class="c12" cx="513.6" cy="231.0" r="2.236"/>
<circle class="c12" cx="513.6" cy="232.7" r="2.236"/>
<circle class="c12" cx="513.7" cy="235.8" r="2.236"/>
<circle class="c13" cx="513.6" cy="237.4" r="2.236"/>
<circle class="c13" cx="513.1" cy="239.6" r="2.236"/>
<circle class="c13" cx="513.1" cy="241.7" r="2.236"/>
<circle class="c13" cx="513.1" cy="243.8" r="2.236"/>
<circle class="c14" cx="513.4" cy="245.1" r="2.236"/>
<circle class="c14" cx="513.1" cy="247.4" r="2.236"/>
<circle class="c14" cx="512.7" cy="249.3" r="2.236"/>
<circle class="c14" cx="512.8" cy="251.5" r="2.236"/>
<circle class="c15" cx="512.5" cy="253.4" r="2.236"/>
<circle class="c15" cx="513.1" cy="255.1" r="2.236"/>
<circle class="c15" cx="512.7" cy="256.7" r="2.236"/>
<circle class="c15" cx="512.2" cy="258.5" r="2.236"/>
<circle class="c15" cx="512.4" cy="260.3" r="2.236"/>
<circle class="c16" cx="512.8" cy="261.9" r="2.236"/>
<circle class="c16" cx="512.2" cy="263.7" r="2.236"/>
<circle class="c16" cx="511.6" cy="264.7" r="2.236"/>
<circle class="c28" cx="507.6" cy="186.2" r="2.236"/>
<circle class="c28" cx="507.7" cy="189.0" r="2.236"/>
<circle class="c28" cx="508.0" cy="191.8" r="2.236"/>
<circle class="c34" cx="507.7" cy="193.7" r="2.236"/>
<circle class="c34" cx="507.9" cy="197.0" r="2.236"/>
<circle class="c34" cx="507.6" cy="199.0" r="2.236"/>
<circle class="c29" cx="507.6" cy="202.2" r="2.236"/>
<circle class="c29" cx="507.6" cy="204.4" r="2.236"/>
<circle class="c29" cx="507.9" cy="207.3" r="2.236"/>
<circle class="c17" cx="507.8" cy="209.5" r="2.236"/>
<circle class="c17" cx="507.7" cy="212.3" r="2.236"/>
<circle class="c17" cx="508.0" cy="214.4" r="2.236"/>
<circle class="c11" cx="507.4" cy="216.6" r="2.236"/>
<circle class="c11" cx="507.8" cy="219.0" r="2.236"/>
<circle class="c11" cx="507.8" cy="221.6" r="2.236"/>
<circle class="c11" cx="507.6" cy="224.0" r="2.236"/>
<circle class="c12" cx="507.6" cy="226.0" r="2.236"/>
<circle class="c12" cx="507.3" cy="228.9" r="2.236"/>
<circle class="c12" cx="507.0" cy="230.5" r="2.236"/>
<circle class="c12" cx="507.4" cy="232.8" r="2.236"/>
<circle class="c13" cx="506.9" cy="234.8" r="2.236"/>
<circle class="c13" cx="507.0" cy="237.4" r="2.236"/>
<circle class="c13" cx="507.1" cy="239.4" r="2.236"/>
<circle class="c13" cx="506.8" cy="241.2" r="2.236"/>
<circle class="c14" cx="506.5" cy="243.4" r="2.236"/>
<circle class="c14" cx="506.3" cy="245.8" r="2.236"/>
<circle class="c14" cx="506.3" cy="247.4" r="2.236"/>
<circle class="c14" cx="506.2" cy="249.6" r="2.236"/>
<circle class="c15" cx="505.5" cy="251.6" r="2.236"/>
<circle class="c15" cx="505.2" cy="253.6" r="2.236"/>
<circle class="c15" cx="505.3" cy="255.5" r="2.236"/>
<circle class="c15" cx="505.1" cy="257.4" r="2.236"/>
<circle class="c16" cx="504.8" cy="259.0" r="2.236"/>
<circle class="c16" cx="504.5" cy="261.0" r="2.236"/>
<circle class="c16" cx="504.1" cy="262.9" r="2.236"/>
<circle class="c16" cx="504.0" cy="264.4" r="2.236"/>
<circle class="c16" cx="503.3" cy="266.5" r="2.236"/>
<circle class="c41" cx="503.5" cy="268.4" r="2.236"/>
<circle class="c41" cx="503.3" cy="270.3" r="2.236"/>
<circle class="c28" cx="503.2" cy="185.0" r="2.236"/>
<circle class="c28" cx="503.1" cy="187.7" r="2.236"/>
<circle class="c28" cx="503.4" cy="190.1" r="2.236"/>
<circle class="c34" cx="503.4" cy="192.2" r="2.236"/>
<circle class="c34" cx="503.1" cy="194.8" r="2.236"/>
<circle class="c34" cx="503.0" cy="197.0" r="2.236"/>
<circle class="c29" cx="503.4" cy="199.5" r="2.236"/>
<circle class="c29" cx="502.8" cy="202.0" r="2.236"/>
<circle class="c29" cx="503.3" cy="204.2" r="2.236"/>
<circle class="c29" cx="503.1" cy="206.5" r="2.236"/>
<circle class="c17" cx="502.7" cy="208.7" r="2.236"/>
<circle class="c17" cx="502.6" cy="211.6" r="2.236"/>
<circle class="c17" cx="502.3" cy="213.8" r="2.236"/>
<circle class="c11" cx="502.2" cy="215.7" r="2.236"/>
<circle class="c11" cx="502.4" cy="218.2" r="2.236"/>
<circle class="c11" cx="502.1" cy="220.0" r="2.236"/>
<circle class="c11" cx="501.9" cy="222.3" r="2.236"/>
<circle class="c12" cx="502.2" cy="224.8" r="2.236"/>
<circle class="c12" cx="501.5" cy="226.8" r="2.236"/>
<circle class="c12" cx="501.1" cy="229.0" r="2.236"/>
<circle class="c12" cx="501.2" cy="231.4" r="2.236"/>
<circle class="c13" cx="500.8" cy="233.5" r="2.236"/>
<circle class="c13" cx="500.3" cy="236.1" r="2.236"/>
<circle class="c13" cx="499.9" cy="237.6" r="2.236"/>
<circle class="c13" cx="499.9" cy="239.8" r="2.236"/>
<circle class="c14" cx="499.4" cy="242.4" r="2.236"/>
<circle class="c14" cx="499.0" cy="244.5" r="2.236"/>
<circle class="c14" cx="498.6" cy="246.8" r="2.236"/>
<circle class="c14" cx="498.7" cy="248.4" r="2.236"/>
<circle class="c15" cx="498.0" cy="250.4" r="2.236"/>
<circle class="c15" cx="497.7" cy="252.9" r="2.236"/>
<circle class="c15" cx="496.9" cy="254.9" r="2.236"/>
<circle class="c15" cx="496.5" cy="256.6" r="2.236"/>
<circle class="c16" cx="495.9" cy="259.3" r="2.236"/>
<circle class="c16" cx="495.9" cy="260.9" r="2.236"/>
<circle class="c16" cx="495.2" cy="263.1" r="2.236"/>
<circle class="c16" cx="494.4" cy="264.8" r="2.236"/>
<circle class="c41" cx="494.9" cy="266.7" r="2.236"/>
<circle class="c41" cx="493.9" cy="268.9" r="2.236"/>
<circle class="c41" cx="493.1" cy="270.7" r="2.236"/>
<circle class="c41" cx="493.0" cy="272.7" r="2.236"/>
<circle class="c22" cx="562.2" cy="265.7" r="2.236"/>
<circle class="c22" cx="561.9" cy="268.5" r="2.236"/>
<circle class="c22" cx="562.0" cy="271.2" r="2.236"/>
<circle class="c18" cx="562.0" cy="274.1" r="2.236"/>
<circle class="c18" cx="562.0" cy="277.0" r="2.236"/>
<circle class="c18" cx="561.9" cy="280.0" r="2.236"/>
<circle class="c19" cx="562.2" cy="283.1" r="2.236"/>
<circle class="c19" cx="562.1" cy="286.3" r="2.236"/>
<circle class="c20" cx="561.9" cy="289.6" r="2.236"/>
<circle class="c20" cx="562.0" cy="293.0" r="2.236"/>
<circle class="c20" cx="561.9" cy="296.5" r="2.236"/>
<circle class="c35" cx="562.0" cy="300.2" r="2.236"/>
<circle class="c35" cx="562.1" cy="303.9" r="2.236"/>
<circle class="c36" cx="562.1" cy="307.9" r="2.236"/>
<circle class="c36" cx="561.9" cy="312.0" r="2.236"/>
<circle class="c37" cx="562.1" cy="316.2" r="2.236"/>
<circle class="c37" cx="561.9" cy="320.7" r="2.236"/>
<circle class="c38" cx="561.8" cy="325.4" r="2.236"/>
<circle class="c38" cx="562.1" cy="329.2" r="2.236"/>
<circle class="c28" cx="497.6" cy="184.1" r="2.236"/>
<circle class="c28" cx="497.6" cy="186.1" r="2.236"/>
<circle class="c28" cx="497.3" cy="188.1" r="2.236"/>
<circle class="c34" cx="497.3" cy="190.7" r="2.236"/>
<circle class="c34" cx="497.1" cy="193.1" r="2.236"/>
<circle class="c34" cx="497.1" cy="194.8" r="2.236"/>
<circle class="c29" cx="497.1" cy="197.2" r="2.236"/>
<circle class="c29" cx="497.0" cy="200.1" r="2.236"/>
<circle class="c29" cx="497.3" cy="202.2" r="2.236"/>
<circle class="c29" cx="497.6" cy="204.8" r="2.236"/>
<circle class="c17" cx="497.2" cy="207.1" r="2.236"/>
<circle class="c17" cx="497.4" cy="209.1" r="2.236"/>
<circle class="c17" cx="497.4" cy="211.1" r="2.236"/>
<circle class="c17" cx="497.1" cy="213.7" r="2.236"/>
<circle class="c28" cx="491.7" cy="182.6" r="2.236"/>
<circle class="c28" cx="491.4" cy="184.5" r="2.236"/>
<circle class="c28" cx="491.7" cy="186.5" r="2.236"/>
<circle class="c34" cx="491.5" cy="189.3" r="2.236"/>
<circle class="c34" cx="491.6" cy="191.3" r="2.236"/>
<circle class="c34" cx="491.5" cy="193.5" r="2.236"/>
<circle class="c34" cx="491.2" cy="195.8" r="2.236"/>
<circle class="c28" cx="485.9" cy="180.8" r="2.236"/>
<circle class="c28" cx="486.0" cy="183.2" r="2.236"/>
<circle class="c28" cx="485.7" cy="185.9" r="2.236"/>
<circle class="c34" cx="486.0" cy="187.7" r="2.236"/>
<circle class="c34" cx="485.4" cy="190.1" r="2.236"/>
<circle class="c34" cx="485.9" cy="192.3" r="2.236"/>
<circle class="c34" cx="485.5" cy="194.6" r="2.236"/>
<circle class="c29" cx="485.5" cy="197.2" r="2.236"/>
<circle class="c19" cx="309.0" cy="289.2" r="2.236"/>
<circle class="c20" cx="309.0" cy="295.8" r="2.236"/>
<circle class="c35" cx="308.6" cy="299.2" r="2.236"/>
<circle class="c35" cx="308.8" cy="302.6" r="2.236"/>
<circle class="c35" cx="308.5" cy="306.2" r="2.236"/>
<circle class="c36" cx="308.8" cy="309.9" r="2.236"/>
<circle class="c38" cx="308.7" cy="325.9" r="2.236"/>
<circle class="c28" cx="480.4" cy="180.6" r="2.236"/>
<circle class="c28" cx="480.3" cy="183.0" r="2.236"/>
<circle class="c28" cx="479.6" cy="186.0" r="2.236"/>
<circle class="c34" cx="480.0" cy="188.3" r="2.236"/>
<circle class="c34" cx="480.0" cy="190.9" r="2.236"/>
<circle class="c23" cx="560.8" cy="260.5" r="2.236"/>
<circle class="c23" cx="561.0" cy="263.2" r="2.236"/>
<circle class="c22" cx="561.0" cy="266.0" r="2.236"/>
<circle class="c22" cx="560.9" cy="268.9" r="2.236"/>
<circle class="c22" cx="560.8" cy="271.8" r="2.236"/>
<circle class="c18" cx="560.6" cy="274.8" r="2.236"/>
<circle class="c18" cx="560.9" cy="277.8" r="2.236"/>
<circle class="c18" cx="560.8" cy="281.0" r="2.236"/>
<circle class="c19" cx="560.6" cy="284.3" r="2.236"/>
<circle class="c19" cx="560.8" cy="287.7" r="2.236"/>
<circle class="c19" cx="560.8" cy="291.1" r="2.236"/>
<circle class="c20" cx="560.8" cy="294.7" r="2.236"/>
<circle class="c20" cx="560.7" cy="298.5" r="2.236"/>
<circle class="c35" cx="560.9" cy="302.4" r="2.236"/>
<circle class="c35" cx="561.0" cy="306.4" r="2.236"/>
<circle class="c36" cx="561.0" cy="310.6" r="2.236"/>
<circle class="c36" cx="560.8" cy="315.0" r="2.236"/>
<circle class="c37" cx="560.8" cy="324.4" r="2.236"/>
<circle class="c38" cx="560.7" cy="329.5" r="2.236"/>
<circle class="c38" cx="560.8" cy="331.9" r="2.236"/>
<circle class="c31" cx="459.2" cy="187.6" r="2.236"/>
<circle class="c31" cx="462.7" cy="185.9" r="2.236"/>
<circle class="c31" cx="466.6" cy="184.7" r="2.236"/>
<circle class="c31" cx="468.5" cy="186.9" r="2.236"/>
<circle class="c31" cx="470.9" cy="188.7" r="2.236"/>
<circle class="c31" cx="472.3" cy="191.8" r="2.236"/>
<circle class="c31" cx="473.5" cy="194.3" r="2.236"/>
<circle class="c31" cx="476.1" cy="196.4" r="2.236"/>
<circle class="c31" cx="462.5" cy="189.6" r="2.236"/>
<circle class="c19" cx="309.5" cy="286.7" r="2.236"/>
<circle class="c19" cx="309.2" cy="290.1" r="2.236"/>
<circle class="c19" cx="309.3" cy="293.6" r="2.236"/>
<circle class="c20" cx="309.1" cy="297.2" r="2.236"/>
<circle class="c20" cx="309.3" cy="301.0" r="2.236"/>
<circle class="c35" cx="309.5" cy="304.8" r="2.236"/>
<circle class="c36" cx="309.6" cy="312.8" r="2.236"/>
<circle class="c37" cx="309.5" cy="321.4" r="2.236"/>
<circle class="c37" cx="309.4" cy="325.9" r="2.236"/>
<circle class="c37" cx="309.3" cy="327.9" r="2.236"/>
<circle class="c10" cx="559.6" cy="252.4" r="2.236"/>
<circle class="c10" cx="559.3" cy="254.9" r="2.236"/>
<circle class="c10" cx="559.3" cy="257.3" r="2.236"/>
<circle class="c23" cx="559.1" cy="259.9" r="2.236"/>
<circle class="c23" cx="559.2" cy="262.4" r="2.236"/>
<circle class="c23" cx="559.5" cy="265.1" r="2.236"/>
<circle class="c23" cx="559.4" cy="267.8" r="2.236"/>
<circle class="c22" cx="559.3" cy="270.5" r="2.236"/>
<circle class="c22" cx="559.1" cy="273.3" r="2.236"/>
<circle class="c22" cx="559.5" cy="276.2" r="2.236"/>
<circle class="c18" cx="559.2" cy="279.2" r="2.236"/>
<circle class="c18" cx="559.2" cy="282.2" r="2.236"/>
<circle class="c18" cx="559.3" cy="285.4" r="2.236"/>
<circle class="c19" cx="559.3" cy="288.6" r="2.236"/>
<circle class="c19" cx="559.3" cy="292.0" r="2.236"/>
<circle class="c20" cx="559.3" cy="295.4" r="2.236"/>
<circle class="c20" cx="559.6" cy="299.0" r="2.236"/>
<circle class="c20" cx="559.3" cy="302.7" r="2.236"/>
<circle class="c35" cx="559.3" cy="306.5" r="2.236"/>
<circle class="c35" cx="559.1" cy="310.5" r="2.236"/>
<circle class="c36" cx="559.4" cy="314.7" r="2.236"/>
<circle class="c36" cx="559.0" cy="319.0" r="2.236"/>
<circle class="c37" cx="559.2" cy="323.6" r="2.236"/>
<circle class="c37" cx="559.6" cy="328.4" r="2.236"/>
<circle class="c38" cx="559.2" cy="333.4" r="2.236"/>
<circle class="c42" cx="309.8" cy="283.1" r="2.236"/>
<circle class="c42" cx="310.0" cy="286.5" r="2.236"/>
<circle class="c43" cx="310.2" cy="290.0" r="2.236"/>
<circle class="c43" cx="309.8" cy="293.6" r="2.236"/>
<circle class="c44" cx="310.0" cy="297.3" r="2.236"/>
<circle class="c44" cx="310.0" cy="305.0" r="2.236"/>
<circle class="c45" cx="310.2" cy="309.0" r="2.236"/>
<circle class="c46" cx="310.1" cy="322.0" r="2.236"/>
<circle class="c47" cx="309.9" cy="326.6" r="2.236"/>
<circle class="c30" cx="557.6" cy="245.8" r="2.236"/>
<circle class="c30" cx="557.3" cy="247.8" r="2.236"/>
<circle class="c30" cx="557.4" cy="249.8" r="2.236"/>
<circle class="c30" cx="557.3" cy="251.9" r="2.236"/>
<circle class="c48" cx="557.5" cy="254.0" r="2.236"/>
<circle class="c48" cx="557.7" cy="256.1" r="2.236"/>
<circle class="c48" cx="557.4" cy="258.3" r="2.236"/>
<circle class="c48" cx="557.6" cy="260.5" r="2.236"/>
<circle class="c49" cx="557.5" cy="262.7" r="2.236"/>
<circle class="c49" cx="557.5" cy="265.0" r="2.236"/>
<circle class="c49" cx="557.5" cy="267.3" r="2.236"/>
<circle class="c49" cx="557.7" cy="269.7" r="2.236"/>
<circle class="c50" cx="557.5" cy="272.1" r="2.236"/>
<circle class="c50" cx="557.4" cy="274.6" r="2.236"/>
<circle class="c50" cx="557.2" cy="277.1" r="2.236"/>
<circle class="c42" cx="557.6" cy="279.6" r="2.236"/>
<circle class="c42" cx="557.6" cy="282.3" r="2.236"/>
<circle class="c42" cx="557.5" cy="285.0" r="2.236"/>
<circle class="c42" cx="557.5" cy="287.7" r="2.236"/>
<circle class="c43" cx="557.7" cy="290.6" r="2.236"/>
<circle class="c43" cx="557.5" cy="293.5" r="2.236"/>
<circle class="c43" cx="557.4" cy="296.5" r="2.236"/>
<circle class="c44" cx="557.6" cy="299.6" r="2.236"/>
<circle class="c44" cx="557.4" cy="302.8" r="2.236"/>
<circle class="c45" cx="557.5" cy="306.1" r="2.236"/>
<circle class="c45" cx="557.4" cy="309.5" r="2.236"/>
<circle class="c45" cx="557.5" cy="313.1" r="2.236"/>
<circle class="c46" cx="557.3" cy="316.7" r="2.236"/>
<circle class="c47" cx="557.6" cy="324.5" r="2.236"/>
<circle class="c47" cx="557.6" cy="328.6" r="2.236"/>
<circle class="c51" cx="557.5" cy="332.9" r="2.236"/>
<circle class="c51" cx="557.4" cy="337.0" r="2.236"/>
<circle class="c10" cx="458.4" cy="193.4" r="2.236"/>
<circle class="c10" cx="460.4" cy="198.9" r="2.236"/>
<circle class="c10" cx="457.7" cy="202.5" r="2.236"/>
<circle class="c10" cx="457.7" cy="209.0" r="2.236"/>
<circle class="c10" cx="452.9" cy="224.6" r="2.236"/>
<circle class="c10" cx="455.8" cy="216.0" r="2.236"/>
<circle class="c10" cx="456.5" cy="197.3" r="2.236"/>
<circle class="c52" cx="424.1" cy="209.0" r="2.236"/>
<circle class="c52" cx="424.8" cy="211.0" r="2.236"/>
<circle class="c52" cx="420.3" cy="211.7" r="2.236"/>
<circle class="c52" cx="417.6" cy="217.4" r="2.236"/>
<circle class="c52" cx="416.2" cy="221.0" r="2.236"/>
<circle class="c26" cx="536.1" cy="199.8" r="2.236"/>
<circle class="c26" cx="536.5" cy="201.9" r="2.236"/>
<circle class="c26" cx="536.8" cy="204.1" r="2.236"/>
<circle class="c26" cx="536.8" cy="206.3" r="2.236"/>
<circle class="c53" cx="536.5" cy="208.4" r="2.236"/>
<circle class="c53" cx="536.9" cy="210.6" r="2.236"/>
<circle class="c53" cx="537.2" cy="212.7" r="2.236"/>
<circle class="c53" cx="537.3" cy="214.9" r="2.236"/>
<circle class="c53" cx="537.5" cy="217.1" r="2.236"/>
<circle class="c54" cx="537.1" cy="219.2" r="2.236"/>
<circle class="c54" cx="537.5" cy="221.4" r="2.236"/>
<circle class="c54" cx="537.3" cy="223.5" r="2.236"/>
<circle class="c54" cx="537.5" cy="225.7" r="2.236"/>
<circle class="c55" cx="537.6" cy="227.9" r="2.236"/>
<circle class="c55" cx="537.6" cy="230.0" r="2.236"/>
<circle class="c55" cx="537.3" cy="232.2" r="2.236"/>
<circle class="c55" cx="537.4" cy="234.3" r="2.236"/>
<circle class="c55" cx="537.1" cy="236.5" r="2.236"/>
<circle class="c56" cx="537.0" cy="238.7" r="2.236"/>
<circle class="c56" cx="537.3" cy="240.8" r="2.236"/>
<circle class="c56" cx="537.1" cy="243.0" r="2.236"/>
<circle class="c56" cx="536.7" cy="245.1" r="2.236"/>
<circle class="c56" cx="536.7" cy="247.3" r="2.236"/>
<circle class="c57" cx="536.8" cy="249.5" r="2.236"/>
<circle class="c57" cx="537.0" cy="251.6" r="2.236"/>
<circle class="c57" cx="536.8" cy="253.8" r="2.236"/>
<circle class="c58" cx="538.4" cy="200.9" r="2.236"/>
<circle class="c58" cx="538.0" cy="203.1" r="2.236"/>
<circle class="c58" cx="538.5" cy="205.2" r="2.236"/>
<circle class="c58" cx="538.7" cy="207.4" r="2.236"/>
<circle class="c59" cx="538.8" cy="209.5" r="2.236"/>
<circle class="c59" cx="539.0" cy="211.7" r="2.236"/>
<circle class="c59" cx="538.9" cy="213.9" r="2.236"/>
<circle class="c59" cx="539.4" cy="216.0" r="2.236"/>
<circle class="c59" cx="539.5" cy="218.2" r="2.236"/>
<circle class="c60" cx="539.2" cy="220.3" r="2.236"/>
<circle class="c60" cx="539.1" cy="222.5" r="2.236"/>
<circle class="c60" cx="539.7" cy="224.7" r="2.236"/>
<circle class="c60" cx="539.2" cy="226.8" r="2.236"/>
<circle class="c25" cx="539.6" cy="229.0" r="2.236"/>
<circle class="c25" cx="539.7" cy="231.1" r="2.236"/>
<circle class="c25" cx="539.1" cy="233.3" r="2.236"/>
<circle class="c25" cx="539.3" cy="235.5" r="2.236"/>
<circle class="c25" cx="539.1" cy="237.6" r="2.236"/>
<circle class="c24" cx="539.3" cy="239.8" r="2.236"/>
<circle class="c24" cx="539.1" cy="241.9" r="2.236"/>
<circle class="c24" cx="539.4" cy="244.1" r="2.236"/>
<circle class="c24" cx="539.0" cy="246.3" r="2.236"/>
<circle class="c24" cx="538.8" cy="248.4" r="2.236"/>
<circle class="c21" cx="538.9" cy="250.6" r="2.236"/>
<circle class="c21" cx="538.5" cy="252.7" r="2.236"/>
<circle class="c26" cx="540.1" cy="202.4" r="2.236"/>
<circle class="c26" cx="540.7" cy="204.5" r="2.236"/>
<circle class="c26" cx="540.2" cy="206.7" r="2.236"/>
<circle class="c26" cx="540.4" cy="208.9" r="2.236"/>
<circle class="c53" cx="540.6" cy="211.0" r="2.236"/>
<circle class="c53" cx="540.5" cy="213.2" r="2.236"/>
<circle class="c53" cx="540.4" cy="215.3" r="2.236"/>
<circle class="c53" cx="541.2" cy="217.5" r="2.236"/>
<circle class="c53" cx="540.8" cy="219.7" r="2.236"/>
<circle class="c54" cx="541.0" cy="221.8" r="2.236"/>
<circle class="c54" cx="541.1" cy="224.0" r="2.236"/>
<circle class="c54" cx="541.0" cy="226.1" r="2.236"/>
<circle class="c54" cx="541.0" cy="228.3" r="2.236"/>
<circle class="c55" cx="541.2" cy="230.5" r="2.236"/>
<circle class="c55" cx="541.7" cy="232.6" r="2.236"/>
<circle class="c55" cx="541.3" cy="234.8" r="2.236"/>
<circle class="c55" cx="541.3" cy="236.9" r="2.236"/>
<circle class="c55" cx="540.8" cy="239.1" r="2.236"/>
<circle class="c56" cx="541.0" cy="241.3" r="2.236"/>
<circle class="c56" cx="540.7" cy="243.4" r="2.236"/>
<circle class="c56" cx="541.0" cy="245.6" r="2.236"/>
<circle class="c56" cx="540.7" cy="247.7" r="2.236"/>
<circle class="c56" cx="540.7" cy="249.9" r="2.236"/>
<circle class="c57" cx="540.5" cy="252.1" r="2.236"/>
<circle class="c58" cx="541.9" cy="203.9" r="2.236"/>
<circle class="c58" cx="541.8" cy="206.0" r="2.236"/>
<circle class="c58" cx="542.4" cy="208.2" r="2.236"/>
<circle class="c58" cx="542.1" cy="210.4" r="2.236"/>
<circle class="c59" cx="542.2" cy="212.5" r="2.236"/>
<circle class="c59" cx="542.5" cy="214.7" r="2.236"/>
<circle class="c59" cx="542.6" cy="216.8" r="2.236"/>
<circle class="c59" cx="542.9" cy="219.0" r="2.236"/>
<circle class="c59" cx="543.1" cy="221.2" r="2.236"/>
<circle class="c60" cx="543.0" cy="223.3" r="2.236"/>
<circle class="c60" cx="543.1" cy="225.5" r="2.236"/>
<circle class="c60" cx="543.1" cy="227.6" r="2.236"/>
<circle class="c60" cx="543.3" cy="229.8" r="2.236"/>
<circle class="c25" cx="542.7" cy="232.0" r="2.236"/>
<circle class="c25" cx="543.2" cy="234.1" r="2.236"/>
<circle class="c25" cx="542.9" cy="236.3" r="2.236"/>
<circle class="c25" cx="542.8" cy="238.4" r="2.236"/>
<circle class="c25" cx="543.0" cy="240.6" r="2.236"/>
<circle class="c24" cx="542.8" cy="242.8" r="2.236"/>
<circle class="c24" cx="542.9" cy="244.9" r="2.236"/>
<circle class="c24" cx="543.0" cy="247.1" r="2.236"/>
<circle class="c24" cx="542.1" cy="249.2" r="2.236"/>
<circle class="c24" cx="542.5" cy="251.4" r="2.236"/>
<circle class="c21" cx="542.8" cy="253.6" r="2.236"/>
<circle class="c26" cx="544.1" cy="205.4" r="2.236"/>
<circle class="c26" cx="544.3" cy="207.5" r="2.236"/>
<circle class="c26" cx="544.2" cy="209.7" r="2.236"/>
<circle class="c26" cx="543.9" cy="211.9" r="2.236"/>
<circle class="c53" cx="544.1" cy="214.0" r="2.236"/>
<circle class="c53" cx="544.6" cy="216.2" r="2.236"/>
<circle class="c53" cx="544.8" cy="218.3" r="2.236"/>
<circle class="c53" cx="544.5" cy="220.5" r="2.236"/>
<circle class="c53" cx="544.7" cy="222.7" r="2.236"/>
<circle class="c54" cx="544.9" cy="224.8" r="2.236"/>
<circle class="c54" cx="544.5" cy="227.0" r="2.236"/>
<circle class="c54" cx="544.8" cy="229.1" r="2.236"/>
<circle class="c54" cx="545.3" cy="231.3" r="2.236"/>
<circle class="c55" cx="545.4" cy="233.5" r="2.236"/>
<circle class="c55" cx="544.9" cy="235.6" r="2.236"/>
<circle class="c55" cx="545.3" cy="237.8" r="2.236"/>
<circle class="c55" cx="544.8" cy="239.9" r="2.236"/>
<circle class="c55" cx="544.7" cy="242.1" r="2.236"/>
<circle class="c56" cx="544.3" cy="244.3" r="2.236"/>
<circle class="c56" cx="544.9" cy="246.4" r="2.236"/>
<circle class="c56" cx="544.5" cy="248.6" r="2.236"/>
<circle class="c56" cx="545.0" cy="250.7" r="2.236"/>
<circle class="c56" cx="544.5" cy="252.9" r="2.236"/>
<circle class="c58" cx="545.8" cy="207.2" r="2.236"/>
<circle class="c58" cx="545.5" cy="209.4" r="2.236"/>
<circle class="c58" cx="546.3" cy="211.6" r="2.236"/>
<circle class="c58" cx="546.0" cy="213.7" r="2.236"/>
<circle class="c59" cx="546.2" cy="215.9" r="2.236"/>
<circle class="c59" cx="545.9" cy="218.0" r="2.236"/>
<circle class="c59" cx="546.7" cy="220.2" r="2.236"/>
<circle class="c59" cx="546.8" cy="222.4" r="2.236"/>
<circle class="c59" cx="546.5" cy="224.5" r="2.236"/>
<circle class="c60" cx="546.7" cy="226.7" r="2.236"/>
<circle class="c60" cx="546.8" cy="228.8" r="2.236"/>
<circle class="c60" cx="547.0" cy="231.0" r="2.236"/>
<circle class="c60" cx="546.8" cy="233.2" r="2.236"/>
<circle class="c25" cx="547.2" cy="235.3" r="2.236"/>
<circle class="c25" cx="546.8" cy="237.5" r="2.236"/>
<circle class="c25" cx="546.7" cy="239.6" r="2.236"/>
<circle class="c25" cx="546.7" cy="241.8" r="2.236"/>
<circle class="c25" cx="546.2" cy="244.0" r="2.236"/>
<circle class="c24" cx="546.5" cy="246.1" r="2.236"/>
<circle class="c24" cx="546.8" cy="248.3" r="2.236"/>
<circle class="c24" cx="546.5" cy="250.4" r="2.236"/>
<circle class="c24" cx="546.2" cy="252.6" r="2.236"/>
<circle class="c26" cx="547.7" cy="209.1" r="2.236"/>
<circle class="c26" cx="547.3" cy="211.3" r="2.236"/>
<circle class="c26" cx="547.8" cy="213.4" r="2.236"/>
<circle class="c26" cx="548.1" cy="215.6" r="2.236"/>
<circle class="c53" cx="548.3" cy="217.8" r="2.236"/>
<circle class="c53" cx="548.1" cy="219.9" r="2.236"/>
<circle class="c53" cx="548.5" cy="222.1" r="2.236"/>
<circle class="c53" cx="548.8" cy="224.2" r="2.236"/>
<circle class="c53" cx="548.4" cy="226.4" r="2.236"/>
<circle class="c54" cx="548.7" cy="228.6" r="2.236"/>
<circle class="c54" cx="548.3" cy="230.7" r="2.236"/>
<circle class="c54" cx="548.2" cy="232.9" r="2.236"/>
<circle class="c54" cx="548.8" cy="235.0" r="2.236"/>
<circle class="c55" cx="548.7" cy="237.2" r="2.236"/>
<circle class="c55" cx="548.7" cy="239.4" r="2.236"/>
<circle class="c55" cx="548.5" cy="241.5" r="2.236"/>
<circle class="c55" cx="548.6" cy="243.7" r="2.236"/>
<circle class="c55" cx="548.8" cy="245.8" r="2.236"/>
<circle class="c56" cx="548.9" cy="248.0" r="2.236"/>
<circle class="c56" cx="548.4" cy="250.2" r="2.236"/>
<circle class="c56" cx="548.0" cy="252.3" r="2.236"/>
<circle class="c58" cx="549.8" cy="211.0" r="2.236"/>
<circle class="c58" cx="549.8" cy="213.2" r="2.236"/>
<circle class="c58" cx="549.9" cy="215.3" r="2.236"/>
<circle class="c58" cx="549.9" cy="217.5" r="2.236"/>
<circle class="c59" cx="550.5" cy="219.7" r="2.236"/>
<circle class="c59" cx="550.1" cy="221.8" r="2.236"/>
<circle class="c59" cx="550.3" cy="224.0" r="2.236"/>
<circle class="c59" cx="549.9" cy="226.1" r="2.236"/>
<circle class="c59" cx="550.3" cy="228.3" r="2.236"/>
<circle class="c60" cx="550.3" cy="230.5" r="2.236"/>
<circle class="c60" cx="550.5" cy="232.6" r="2.236"/>
<circle class="c60" cx="550.6" cy="234.8" r="2.236"/>
<circle class="c60" cx="550.4" cy="236.9" r="2.236"/>
<circle class="c25" cx="550.9" cy="239.1" r="2.236"/>
<circle class="c25" cx="550.3" cy="241.3" r="2.236"/>
<circle class="c25" cx="550.4" cy="243.4" r="2.236"/>
<circle class="c25" cx="550.6" cy="245.6" r="2.236"/>
<circle class="c25" cx="550.2" cy="247.7" r="2.236"/>
<circle class="c24" cx="550.5" cy="249.9" r="2.236"/>
<circle class="c24" cx="550.4" cy="252.1" r="2.236"/>
<circle class="c26" cx="551.3" cy="213.1" r="2.236"/>
<circle class="c26" cx="551.9" cy="215.3" r="2.236"/>
<circle class="c26" cx="551.6" cy="217.5" r="2.236"/>
<circle class="c26" cx="551.8" cy="219.6" r="2.236"/>
<circle class="c53" cx="551.7" cy="221.8" r="2.236"/>
<circle class="c53" cx="551.6" cy="223.9" r="2.236"/>
<circle class="c53" cx="551.9" cy="226.1" r="2.236"/>
<circle class="c53" cx="552.1" cy="228.3" r="2.236"/>
<circle class="c53" cx="552.2" cy="230.4" r="2.236"/>
<circle class="c54" cx="552.5" cy="232.6" r="2.236"/>
<circle class="c54" cx="551.9" cy="234.7" r="2.236"/>
<circle class="c54" cx="552.2" cy="236.9" r="2.236"/>
<circle class="c54" cx="552.0" cy="239.1" r="2.236"/>
<circle class="c55" cx="552.7" cy="241.2" r="2.236"/>
<circle class="c55" cx="552.3" cy="243.4" r="2.236"/>
<circle class="c55" cx="552.3" cy="245.5" r="2.236"/>
<circle class="c55" cx="552.1" cy="247.7" r="2.236"/>
<circle class="c55" cx="552.5" cy="249.9" r="2.236"/>
<circle class="c56" cx="552.2" cy="252.0" r="2.236"/>
<circle class="c58" cx="553.3" cy="215.5" r="2.236"/>
<circle class="c58" cx="552.9" cy="217.6" r="2.236"/>
<circle class="c58" cx="553.7" cy="219.8" r="2.236"/>
<circle class="c58" cx="553.7" cy="221.9" r="2.236"/>
<circle class="c59" cx="553.9" cy="224.1" r="2.236"/>
<circle class="c59" cx="554.1" cy="226.3" r="2.236"/>
<circle class="c59" cx="553.9" cy="228.4" r="2.236"/>
<circle class="c59" cx="554.0" cy="230.6" r="2.236"/>
<circle class="c59" cx="554.3" cy="232.7" r="2.236"/>
<circle class="c60" cx="554.3" cy="234.9" r="2.236"/>
<circle class="c60" cx="554.2" cy="237.1" r="2.236"/>
<circle class="c60" cx="554.3" cy="239.2" r="2.236"/>
<circle class="c60" cx="554.2" cy="241.4" r="2.236"/>
<circle class="c25" cx="554.5" cy="243.5" r="2.236"/>
<circle class="c25" cx="554.5" cy="245.7" r="2.236"/>
<circle class="c25" cx="554.3" cy="247.9" r="2.236"/>
<circle class="c25" cx="554.7" cy="250.0" r="2.236"/>
<circle class="c25" cx="553.9" cy="252.2" r="2.236"/>
<circle class="c26" cx="555.1" cy="217.8" r="2.236"/>
<circle class="c26" cx="555.6" cy="219.9" r="2.236"/>
<circle class="c26" cx="555.3" cy="222.1" r="2.236"/>
<circle class="c26" cx="555.1" cy="224.3" r="2.236"/>
<circle class="c53" cx="555.9" cy="226.4" r="2.236"/>
<circle class="c53" cx="555.8" cy="228.6" r="2.236"/>
<circle class="c53" cx="555.6" cy="230.7" r="2.236"/>
<circle class="c53" cx="556.1" cy="232.9" r="2.236"/>
<circle class="c53" cx="555.8" cy="235.1" r="2.236"/>
<circle class="c54" cx="555.8" cy="237.2" r="2.236"/>
<circle class="c54" cx="556.1" cy="239.4" r="2.236"/>
<circle class="c54" cx="556.1" cy="241.5" r="2.236"/>
<circle class="c54" cx="555.9" cy="243.7" r="2.236"/>
<circle class="c55" cx="556.1" cy="245.9" r="2.236"/>
<circle class="c55" cx="556.0" cy="248.0" r="2.236"/>
<circle class="c55" cx="556.2" cy="250.2" r="2.236"/>
<circle class="c55" cx="556.1" cy="252.3" r="2.236"/>
<circle class="c31" cx="447.8" cy="181.4" r="2.236"/>
<circle class="c31" cx="443.7" cy="186.3" r="2.236"/>
<circle class="c31" cx="452.2" cy="184.9" r="2.236"/>
<circle class="c31" cx="450.9" cy="188.3" r="2.236"/>
<circle class="c31" cx="447.8" cy="183.6" r="2.236"/>
<circle class="c31" cx="446.4" cy="194.4" r="2.236"/>
<circle class="c23" cx="445.5" cy="224.6" r="2.236"/>
<circle class="c23" cx="445.8" cy="227.6" r="2.236"/>
<circle class="c23" cx="445.3" cy="230.5" r="2.236"/>
<circle class="c23" cx="446.5" cy="233.7" r="2.236"/>
<circle class="c23" cx="444.6" cy="236.1" r="2.236"/>
<circle class="c23" cx="445.3" cy="239.3" r="2.236"/>
<circle class="c23" cx="445.6" cy="242.6" r="2.236"/>
<circle class="c23" cx="446.0" cy="245.1" r="2.236"/>
<circle class="c23" cx="445.7" cy="247.8" r="2.236"/>
<circle class="c23" cx="445.6" cy="251.4" r="2.236"/>
<circle class="c23" cx="445.6" cy="253.9" r="2.236"/>
<circle class="c23" cx="445.8" cy="257.1" r="2.236"/>
<circle class="c23" cx="445.2" cy="259.8" r="2.236"/>
<circle class="c23" cx="444.9" cy="262.9" r="2.236"/>
<circle class="c23" cx="444.0" cy="266.6" r="2.236"/>
<circle class="c23" cx="445.0" cy="269.3" r="2.236"/>
<circle class="c52" cx="555.2" cy="243.0" r="2.236"/>
<circle class="c52" cx="555.6" cy="245.0" r="2.236"/>
<circle class="c52" cx="555.5" cy="247.0" r="2.236"/>
<circle class="c30" cx="555.6" cy="249.1" r="2.236"/>
<circle class="c30" cx="555.4" cy="251.1" r="2.236"/>
<circle class="c30" cx="555.3" cy="253.2" r="2.236"/>
<circle class="c30" cx="555.5" cy="255.3" r="2.236"/>
<circle class="c48" cx="555.7" cy="257.4" r="2.236"/>
<circle class="c48" cx="555.3" cy="259.6" r="2.236"/>
<circle class="c48" cx="555.6" cy="261.8" r="2.236"/>
<circle class="c48" cx="555.4" cy="264.0" r="2.236"/>
<circle class="c49" cx="555.2" cy="266.3" r="2.236"/>
<circle class="c49" cx="555.5" cy="268.6" r="2.236"/>
<circle class="c49" cx="555.4" cy="271.0" r="2.236"/>
<circle class="c49" cx="555.3" cy="273.4" r="2.236"/>
<circle class="c50" cx="555.4" cy="275.8" r="2.236"/>
<circle class="c50" cx="555.2" cy="278.4" r="2.236"/>
<circle class="c50" cx="555.4" cy="280.9" r="2.236"/>
<circle class="c42" cx="555.3" cy="283.6" r="2.236"/>
<circle class="c42" cx="555.3" cy="286.3" r="2.236"/>
<circle class="c42" cx="555.5" cy="289.0" r="2.236"/>
<circle class="c43" cx="555.5" cy="291.9" r="2.236"/>
<circle class="c43" cx="555.7" cy="294.8" r="2.236"/>
<circle class="c43" cx="555.6" cy="297.8" r="2.236"/>
<circle class="c44" cx="555.4" cy="300.9" r="2.236"/>
<circle class="c44" cx="555.4" cy="304.1" r="2.236"/>
<circle class="c44" cx="555.4" cy="307.4" r="2.236"/>
<circle class="c45" cx="555.4" cy="310.8" r="2.236"/>
<circle class="c45" cx="555.4" cy="314.3" r="2.236"/>
<circle class="c46" cx="555.3" cy="318.0" r="2.236"/>
<circle class="c46" cx="555.0" cy="321.8" r="2.236"/>
<circle class="c46" cx="555.6" cy="325.7" r="2.236"/>
<circle class="c47" cx="555.3" cy="329.8" r="2.236"/>
<circle class="c47" cx="555.6" cy="334.1" r="2.236"/>
<circle class="c51" cx="555.5" cy="338.2" r="2.236"/>
<circle class="c50" cx="311.0" cy="273.8" r="2.236"/>
<circle class="c50" cx="311.0" cy="276.9" r="2.236"/>
<circle class="c50" cx="311.0" cy="280.1" r="2.236"/>
<circle class="c42" cx="310.9" cy="283.3" r="2.236"/>
<circle class="c42" cx="310.8" cy="286.6" r="2.236"/>
<circle class="c42" cx="311.3" cy="289.9" r="2.236"/>
<circle class="c43" cx="311.2" cy="293.4" r="2.236"/>
<circle class="c43" cx="310.9" cy="297.0" r="2.236"/>
<circle class="c44" cx="311.0" cy="300.6" r="2.236"/>
<circle class="c44" cx="311.0" cy="304.4" r="2.236"/>
<circle class="c44" cx="310.9" cy="308.3" r="2.236"/>
<circle class="c45" cx="310.8" cy="312.3" r="2.236"/>
<circle class="c46" cx="311.0" cy="320.7" r="2.236"/>
<circle class="c47" cx="311.1" cy="329.7" r="2.236"/>
<circle class="c61" cx="444.6" cy="192.7" r="2.236"/>
<circle class="c61" cx="447.1" cy="192.1" r="2.236"/>
<circle class="c61" cx="448.5" cy="192.1" r="2.236"/>
<circle class="c61" cx="450.9" cy="192.2" r="2.236"/>
<circle class="c61" cx="452.9" cy="191.6" r="2.236"/>
<circle class="c61" cx="445.2" cy="194.2" r="2.236"/>
<circle class="c61" cx="446.9" cy="194.2" r="2.236"/>
<circle class="c61" cx="448.5" cy="194.4" r="2.236"/>
<circle class="c61" cx="450.9" cy="194.2" r="2.236"/>
<circle class="c61" cx="452.6" cy="194.5" r="2.236"/>
<circle class="c61" cx="444.3" cy="195.7" r="2.236"/>
<circle class="c61" cx="446.8" cy="196.0" r="2.236"/>
<circle class="c61" cx="447.9" cy="196.0" r="2.236"/>
<circle class="c61" cx="450.5" cy="195.8" r="2.236"/>
<circle class="c61" cx="452.1" cy="196.3" r="2.236"/>
<circle class="c61" cx="444.9" cy="198.2" r="2.236"/>
<circle class="c61" cx="446.3" cy="198.4" r="2.236"/>
<circle class="c61" cx="448.9" cy="198.2" r="2.236"/>
<circle class="c61" cx="450.8" cy="198.7" r="2.236"/>
<circle class="c61" cx="452.6" cy="198.0" r="2.236"/>
<circle class="c61" cx="444.7" cy="200.4" r="2.236"/>
<circle class="c61" cx="447.0" cy="199.8" r="2.236"/>
<circle class="c61" cx="448.4" cy="200.0" r="2.236"/>
<circle class="c61" cx="450.0" cy="200.3" r="2.236"/>
<circle class="c61" cx="452.9" cy="200.0" r="2.236"/>
<circle class="c61" cx="445.1" cy="202.6" r="2.236"/>
<circle class="c61" cx="446.8" cy="202.5" r="2.236"/>
<circle class="c61" cx="449.0" cy="201.8" r="2.236"/>
<circle class="c61" cx="450.9" cy="202.5" r="2.236"/>
<circle class="c61" cx="452.0" cy="202.4" r="2.236"/>
<circle class="c61" cx="444.5" cy="204.6" r="2.236"/>
<circle class="c61" cx="446.5" cy="204.3" r="2.236"/>
<circle class="c61" cx="448.8" cy="204.0" r="2.236"/>
<circle class="c61" cx="450.9" cy="204.3" r="2.236"/>
<circle class="c61" cx="452.8" cy="204.1" r="2.236"/>
<circle class="c61" cx="445.0" cy="206.6" r="2.236"/>
<circle class="c61" cx="446.6" cy="206.6" r="2.236"/>
<circle class="c61" cx="449.1" cy="207.0" r="2.236"/>
<circle class="c61" cx="450.1" cy="206.7" r="2.236"/>
<circle class="c61" cx="452.8" cy="206.3" r="2.236"/>
<circle class="c61" cx="444.2" cy="208.8" r="2.236"/>
<circle class="c61" cx="446.2" cy="208.6" r="2.236"/>
<circle class="c61" cx="449.1" cy="207.8" r="2.236"/>
<circle class="c61" cx="450.5" cy="207.9" r="2.236"/>
<circle class="c61" cx="452.8" cy="208.9" r="2.236"/>
<circle class="c61" cx="445.3" cy="209.7" r="2.236"/>
<circle class="c61" cx="446.4" cy="210.6" r="2.236"/>
<circle class="c61" cx="449.2" cy="210.5" r="2.236"/>
<circle class="c61" cx="450.4" cy="210.5" r="2.236"/>
<circle class="c61" cx="452.7" cy="210.3" r="2.236"/>
<circle class="c61" cx="444.3" cy="212.5" r="2.236"/>
<circle class="c61" cx="446.7" cy="212.4" r="2.236"/>
<circle class="c61" cx="448.6" cy="211.9" r="2.236"/>
<circle class="c61" cx="450.5" cy="212.8" r="2.236"/>
<circle class="c61" cx="452.6" cy="211.9" r="2.236"/>
<circle class="c61" cx="445.1" cy="214.6" r="2.236"/>
<circle class="c61" cx="447.4" cy="214.4" r="2.236"/>
<circle class="c61" cx="448.5" cy="213.9" r="2.236"/>
<circle class="c61" cx="451.1" cy="215.3" r="2.236"/>
<circle class="c61" cx="452.4" cy="214.2" r="2.236"/>
<circle class="c61" cx="444.8" cy="216.1" r="2.236"/>
<circle class="c61" cx="446.5" cy="216.3" r="2.236"/>
<circle class="c61" cx="448.7" cy="216.8" r="2.236"/>
<circle class="c61" cx="450.7" cy="216.8" r="2.236"/>
<circle class="c61" cx="452.5" cy="216.6" r="2.236"/>
<circle class="c61" cx="443.8" cy="217.9" r="2.236"/>
<circle class="c61" cx="446.9" cy="218.2" r="2.236"/>
<circle class="c61" cx="448.8" cy="218.6" r="2.236"/>
<circle class="c61" cx="451.1" cy="218.7" r="2.236"/>
<circle class="c61" cx="453.0" cy="218.4" r="2.236"/>
<circle class="c61" cx="444.3" cy="220.2" r="2.236"/>
<circle class="c61" cx="446.4" cy="220.1" r="2.236"/>
<circle class="c61" cx="448.4" cy="220.4" r="2.236"/>
<circle class="c61" cx="450.7" cy="220.3" r="2.236"/>
<circle class="c61" cx="452.0" cy="220.4" r="2.236"/>
<circle class="c61" cx="444.7" cy="222.9" r="2.236"/>
<circle class="c61" cx="446.8" cy="222.2" r="2.236"/>
<circle class="c61" cx="448.4" cy="223.2" r="2.236"/>
<circle class="c61" cx="450.9" cy="223.1" r="2.236"/>
<circle class="c61" cx="453.4" cy="222.2" r="2.236"/>
<circle class="c61" cx="436.1" cy="199.5" r="2.236"/>
<circle class="c61" cx="437.5" cy="199.4" r="2.236"/>
<circle class="c61" cx="439.8" cy="199.5" r="2.236"/>
<circle class="c61" cx="441.9" cy="199.7" r="2.236"/>
<circle class="c61" cx="434.1" cy="201.5" r="2.236"/>
<circle class="c61" cx="435.9" cy="201.4" r="2.236"/>
<circle class="c61" cx="437.9" cy="201.6" r="2.236"/>
<circle class="c61" cx="440.1" cy="201.7" r="2.236"/>
<circle class="c61" cx="441.6" cy="201.8" r="2.236"/>
<circle class="c61" cx="431.7" cy="203.2" r="2.236"/>
<circle class="c61" cx="433.9" cy="203.3" r="2.236"/>
<circle class="c61" cx="436.1" cy="203.3" r="2.236"/>
<circle class="c61" cx="437.7" cy="203.2" r="2.236"/>
<circle class="c61" cx="440.5" cy="203.5" r="2.236"/>
<circle class="c61" cx="441.7" cy="203.5" r="2.236"/>
<circle class="c61" cx="431.4" cy="206.1" r="2.236"/>
<circle class="c61" cx="433.5" cy="205.7" r="2.236"/>
<circle class="c61" cx="436.2" cy="205.0" r="2.236"/>
<circle class="c61" cx="438.2" cy="205.8" r="2.236"/>
<circle class="c61" cx="440.2" cy="205.6" r="2.236"/>
<circle class="c61" cx="442.4" cy="205.5" r="2.236"/>
<circle class="c61" cx="432.1" cy="207.5" r="2.236"/>
<circle class="c61" cx="434.2" cy="207.2" r="2.236"/>
<circle class="c61" cx="436.3" cy="207.3" r="2.236"/>
<circle class="c61" cx="437.7" cy="207.6" r="2.236"/>
<circle class="c61" cx="440.7" cy="207.9" r="2.236"/>
<circle class="c61" cx="441.9" cy="207.8" r="2.236"/>
<circle class="c61" cx="431.8" cy="209.5" r="2.236"/>
<circle class="c61" cx="434.0" cy="208.7" r="2.236"/>
<circle class="c61" cx="436.1" cy="209.1" r="2.236"/>
<circle class="c61" cx="437.8" cy="209.0" r="2.236"/>
<circle class="c61" cx="439.5" cy="209.2" r="2.236"/>
<circle class="c61" cx="442.4" cy="210.1" r="2.236"/>
<circle class="c61" cx="432.0" cy="211.9" r="2.236"/>
<circle class="c61" cx="433.9" cy="210.8" r="2.236"/>
<circle class="c61" cx="436.1" cy="211.7" r="2.236"/>
<circle class="c61" cx="437.9" cy="211.6" r="2.236"/>
<circle class="c61" cx="440.3" cy="211.2" r="2.236"/>
<circle class="c61" cx="441.5" cy="211.5" r="2.236"/>
<circle class="c61" cx="431.9" cy="213.4" r="2.236"/>
<circle class="c61" cx="434.4" cy="214.2" r="2.236"/>
<circle class="c61" cx="435.9" cy="213.8" r="2.236"/>
<circle class="c61" cx="438.4" cy="213.8" r="2.236"/>
<circle class="c61" cx="440.4" cy="213.4" r="2.236"/>
<circle class="c61" cx="442.3" cy="214.3" r="2.236"/>
<circle class="c61" cx="432.3" cy="215.3" r="2.236"/>
<circle class="c61" cx="434.2" cy="216.0" r="2.236"/>
<circle class="c61" cx="436.2" cy="215.4" r="2.236"/>
<circle class="c61" cx="438.6" cy="215.1" r="2.236"/>
<circle class="c61" cx="440.2" cy="215.6" r="2.236"/>
<circle class="c61" cx="441.7" cy="216.0" r="2.236"/>
<circle class="c62" cx="433.5" cy="215.7" r="2.236"/>
<circle class="c62" cx="433.5" cy="217.7" r="2.236"/>
<circle class="c62" cx="432.7" cy="219.4" r="2.236"/>
<circle class="c62" cx="433.2" cy="221.6" r="2.236"/>
<circle class="c62" cx="433.0" cy="223.2" r="2.236"/>
<circle class="c62" cx="433.0" cy="224.9" r="2.236"/>
<circle class="c62" cx="433.1" cy="226.8" r="2.236"/>
<circle class="c62" cx="432.7" cy="228.8" r="2.236"/>
<circle class="c62" cx="432.2" cy="230.2" r="2.236"/>
<circle class="c62" cx="432.8" cy="232.3" r="2.236"/>
<circle class="c62" cx="432.2" cy="234.1" r="2.236"/>
<circle class="c62" cx="432.0" cy="235.9" r="2.236"/>
<circle class="c62" cx="432.0" cy="237.6" r="2.236"/>
<circle class="c30" cx="431.8" cy="237.7" r="2.236"/>
<circle class="c30" cx="430.4" cy="241.0" r="2.236"/>
<circle class="c30" cx="429.7" cy="242.8" r="2.236"/>
<circle class="c30" cx="428.3" cy="248.3" r="2.236"/>
<circle class="c30" cx="427.7" cy="251.6" r="2.236"/>
<circle class="c30" cx="427.1" cy="256.9" r="2.236"/>
<circle class="c30" cx="426.3" cy="259.3" r="2.236"/>
<circle class="c30" cx="426.5" cy="262.9" r="2.236"/>
<circle class="c30" cx="426.1" cy="266.0" r="2.236"/>
<circle class="c30" cx="427.1" cy="270.0" r="2.236"/>
<circle class="c30" cx="428.3" cy="273.3" r="2.236"/>
<circle class="c30" cx="428.5" cy="278.2" r="2.236"/>
<circle class="c30" cx="428.8" cy="280.5" r="2.236"/>
<circle class="c30" cx="429.8" cy="284.4" r="2.236"/>
<circle class="c52" cx="552.8" cy="245.8" r="2.236"/>
<circle class="c52" cx="552.9" cy="248.0" r="2.236"/>
<circle class="c30" cx="553.0" cy="250.3" r="2.236"/>
<circle class="c30" cx="553.2" cy="252.5" r="2.236"/>
<circle class="c30" cx="553.3" cy="254.8" r="2.236"/>
<circle class="c30" cx="553.1" cy="257.2" r="2.236"/>
<circle class="c48" cx="553.1" cy="259.5" r="2.236"/>
<circle class="c48" cx="553.3" cy="261.9" r="2.236"/>
<circle class="c48" cx="553.1" cy="264.4" r="2.236"/>
<circle class="c48" cx="553.0" cy="266.9" r="2.236"/>
<circle class="c49" cx="553.3" cy="269.4" r="2.236"/>
<circle class="c49" cx="553.3" cy="272.0" r="2.236"/>
<circle class="c49" cx="553.0" cy="274.7" r="2.236"/>
<circle class="c50" cx="553.1" cy="277.4" r="2.236"/>
<circle class="c50" cx="553.3" cy="280.2" r="2.236"/>
<circle class="c50" cx="553.1" cy="283.0" r="2.236"/>
<circle class="c42" cx="553.0" cy="285.9" r="2.236"/>
<circle class="c42" cx="553.0" cy="288.9" r="2.236"/>
<circle class="c42" cx="553.2" cy="292.0" r="2.236"/>
<circle class="c43" cx="552.9" cy="295.2" r="2.236"/>
<circle class="c43" cx="553.0" cy="298.5" r="2.236"/>
<circle class="c43" cx="553.2" cy="301.9" r="2.236"/>
<circle class="c44" cx="553.1" cy="305.4" r="2.236"/>
<circle class="c44" cx="553.2" cy="309.0" r="2.236"/>
<circle class="c45" cx="553.1" cy="312.8" r="2.236"/>
<circle class="c45" cx="553.0" cy="316.7" r="2.236"/>
<circle class="c46" cx="553.2" cy="325.1" r="2.236"/>
<circle class="c47" cx="553.1" cy="329.6" r="2.236"/>
<circle class="c47" cx="553.2" cy="334.2" r="2.236"/>
<circle class="c51" cx="553.1" cy="339.1" r="2.236"/>
<circle class="c51" cx="553.1" cy="342.0" r="2.236"/>
<circle class="c48" cx="312.2" cy="267.6" r="2.236"/>
<circle class="c49" cx="312.4" cy="270.6" r="2.236"/>
<circle class="c49" cx="312.2" cy="273.7" r="2.236"/>
<circle class="c50" cx="312.4" cy="276.8" r="2.236"/>
<circle class="c50" cx="312.1" cy="279.9" r="2.236"/>
<circle class="c50" cx="312.3" cy="283.1" r="2.236"/>
<circle class="c42" cx="312.4" cy="286.4" r="2.236"/>
<circle class="c42" cx="312.3" cy="289.8" r="2.236"/>
<circle class="c42" cx="312.1" cy="293.3" r="2.236"/>
<circle class="c43" cx="312.1" cy="296.8" r="2.236"/>
<circle class="c43" cx="312.2" cy="300.5" r="2.236"/>
<circle class="c44" cx="312.1" cy="304.3" r="2.236"/>
<circle class="c44" cx="312.3" cy="308.2" r="2.236"/>
<circle class="c45" cx="312.2" cy="312.2" r="2.236"/>
<circle class="c45" cx="312.1" cy="316.3" r="2.236"/>
<circle class="c46" cx="312.0" cy="320.6" r="2.236"/>
<circle class="c46" cx="312.1" cy="325.1" r="2.236"/>
<circle class="c47" cx="312.2" cy="329.7" r="2.236"/>
<circle class="c47" cx="311.9" cy="332.0" r="2.236"/>
<circle class="c32" cx="550.5" cy="249.6" r="2.236"/>
<circle class="c32" cx="550.7" cy="251.8" r="2.236"/>
<circle class="c63" cx="550.4" cy="254.0" r="2.236"/>
<circle class="c63" cx="550.7" cy="256.3" r="2.236"/>
<circle class="c63" cx="550.5" cy="258.6" r="2.236"/>
<circle class="c26" cx="550.8" cy="260.9" r="2.236"/>
<circle class="c26" cx="550.5" cy="263.3" r="2.236"/>
<circle class="c26" cx="550.5" cy="265.7" r="2.236"/>
<circle class="c26" cx="550.5" cy="268.1" r="2.236"/>
<circle class="c53" cx="550.6" cy="270.6" r="2.236"/>
<circle class="c53" cx="550.5" cy="273.1" r="2.236"/>
<circle class="c53" cx="550.6" cy="275.7" r="2.236"/>
<circle class="c53" cx="550.7" cy="278.4" r="2.236"/>
<circle class="c54" cx="550.6" cy="281.1" r="2.236"/>
<circle class="c54" cx="550.5" cy="283.9" r="2.236"/>
<circle class="c54" cx="550.6" cy="286.7" r="2.236"/>
<circle class="c55" cx="550.4" cy="289.6" r="2.236"/>
<circle class="c55" cx="550.3" cy="292.7" r="2.236"/>
<circle class="c55" cx="550.5" cy="295.8" r="2.236"/>
<circle class="c56" cx="550.6" cy="298.9" r="2.236"/>
<circle class="c56" cx="550.5" cy="302.2" r="2.236"/>
<circle class="c57" cx="550.6" cy="305.6" r="2.236"/>
<circle class="c57" cx="550.6" cy="309.2" r="2.236"/>
<circle class="c57" cx="550.7" cy="312.8" r="2.236"/>
<circle class="c64" cx="550.4" cy="316.6" r="2.236"/>
<circle class="c65" cx="550.4" cy="324.7" r="2.236"/>
<circle class="c66" cx="550.7" cy="333.4" r="2.236"/>
<circle class="c67" cx="550.5" cy="343.1" r="2.236"/>
<circle class="c26" cx="313.8" cy="263.2" r="2.236"/>
<circle class="c26" cx="313.9" cy="265.7" r="2.236"/>
<circle class="c26" cx="313.8" cy="268.3" r="2.236"/>
<circle class="c53" cx="313.5" cy="270.9" r="2.236"/>
<circle class="c53" cx="313.7" cy="273.6" r="2.236"/>
<circle class="c53" cx="313.6" cy="276.3" r="2.236"/>
<circle class="c53" cx="313.8" cy="279.0" r="2.236"/>
<circle class="c54" cx="313.5" cy="281.8" r="2.236"/>
<circle class="c54" cx="313.7" cy="284.7" r="2.236"/>
<circle class="c54" cx="313.8" cy="287.6" r="2.236"/>
<circle class="c55" cx="313.8" cy="290.6" r="2.236"/>
<circle class="c55" cx="313.7" cy="293.6" r="2.236"/>
<circle class="c55" cx="314.1" cy="296.8" r="2.236"/>
<circle class="c56" cx="313.7" cy="300.0" r="2.236"/>
<circle class="c56" cx="313.9" cy="303.2" r="2.236"/>
<circle class="c57" cx="313.7" cy="306.6" r="2.236"/>
<circle class="c57" cx="313.6" cy="310.1" r="2.236"/>
<circle class="c57" cx="313.7" cy="313.6" r="2.236"/>
<circle class="c64" cx="313.5" cy="317.3" r="2.236"/>
<circle class="c64" cx="313.8" cy="321.1" r="2.236"/>
<circle class="c65" cx="313.5" cy="325.0" r="2.236"/>
<circle class="c65" cx="313.9" cy="329.1" r="2.236"/>
<circle class="c66" cx="313.7" cy="333.2" r="2.236"/>
<circle class="c32" cx="547.7" cy="253.1" r="2.236"/>
<circle class="c63" cx="547.8" cy="255.4" r="2.236"/>
<circle class="c63" cx="547.7" cy="257.8" r="2.236"/>
<circle class="c63" cx="547.8" cy="260.2" r="2.236"/>
<circle class="c63" cx="547.8" cy="262.6" r="2.236"/>
<circle class="c26" cx="547.8" cy="265.0" r="2.236"/>
<circle class="c26" cx="547.6" cy="267.5" r="2.236"/>
<circle class="c26" cx="547.5" cy="270.0" r="2.236"/>
<circle class="c53" cx="547.5" cy="272.6" r="2.236"/>
<circle class="c53" cx="547.6" cy="275.3" r="2.236"/>
<circle class="c53" cx="547.8" cy="278.0" r="2.236"/>
<circle class="c53" cx="547.4" cy="280.7" r="2.236"/>
<circle class="c54" cx="547.8" cy="283.5" r="2.236"/>
<circle class="c54" cx="547.6" cy="286.4" r="2.236"/>
<circle class="c54" cx="547.8" cy="289.4" r="2.236"/>
<circle class="c55" cx="547.7" cy="292.5" r="2.236"/>
<circle class="c55" cx="547.7" cy="295.6" r="2.236"/>
<circle class="c56" cx="547.9" cy="298.9" r="2.236"/>
<circle class="c56" cx="547.8" cy="302.2" r="2.236"/>
<circle class="c56" cx="547.8" cy="305.7" r="2.236"/>
<circle class="c57" cx="547.8" cy="309.3" r="2.236"/>
<circle class="c57" cx="547.5" cy="313.0" r="2.236"/>
<circle class="c64" cx="547.8" cy="316.9" r="2.236"/>
<circle class="c64" cx="548.1" cy="320.9" r="2.236"/>
<circle class="c65" cx="547.6" cy="325.1" r="2.236"/>
<circle class="c65" cx="547.9" cy="329.5" r="2.236"/>
<circle class="c66" cx="547.8" cy="338.9" r="2.236"/>
<circle class="c67" cx="548.0" cy="344.0" r="2.236"/>
<circle class="c67" cx="547.7" cy="347.0" r="2.236"/>
<circle class="c68" cx="500.6" cy="228.5" r="2.236"/>
<circle class="c63" cx="315.6" cy="261.7" r="2.236"/>
<circle class="c63" cx="315.8" cy="264.2" r="2.236"/>
<circle class="c26" cx="315.7" cy="266.8" r="2.236"/>
<circle class="c26" cx="315.6" cy="269.5" r="2.236"/>
<circle class="c26" cx="316.1" cy="272.1" r="2.236"/>
<circle class="c53" cx="315.7" cy="274.8" r="2.236"/>
<circle class="c53" cx="315.8" cy="277.6" r="2.236"/>
<circle class="c53" cx="315.7" cy="280.4" r="2.236"/>
<circle class="c54" cx="315.7" cy="283.2" r="2.236"/>
<circle class="c54" cx="315.8" cy="286.1" r="2.236"/>
<circle class="c54" cx="315.8" cy="289.1" r="2.236"/>
<circle class="c55" cx="315.6" cy="292.1" r="2.236"/>
<circle class="c55" cx="316.0" cy="295.3" r="2.236"/>
<circle class="c55" cx="315.8" cy="298.4" r="2.236"/>
<circle class="c56" cx="316.0" cy="301.7" r="2.236"/>
<circle class="c57" cx="315.8" cy="308.5" r="2.236"/>
<circle class="c57" cx="315.7" cy="312.1" r="2.236"/>
<circle class="c57" cx="315.7" cy="315.7" r="2.236"/>
<circle class="c64" cx="315.6" cy="323.4" r="2.236"/>
<circle class="c65" cx="315.6" cy="331.6" r="2.236"/>
<circle class="c66" cx="315.8" cy="335.9" r="2.236"/>
<circle class="c32" cx="546.2" cy="252.8" r="2.236"/>
<circle class="c32" cx="546.5" cy="255.0" r="2.236"/>
<circle class="c63" cx="546.2" cy="257.2" r="2.236"/>
<circle class="c63" cx="546.1" cy="259.5" r="2.236"/>
<circle class="c63" cx="546.2" cy="261.8" r="2.236"/>
<circle class="c63" cx="546.3" cy="264.1" r="2.236"/>
<circle class="c26" cx="546.1" cy="266.5" r="2.236"/>
<circle class="c26" cx="546.1" cy="268.9" r="2.236"/>
<circle class="c26" cx="546.0" cy="271.3" r="2.236"/>
<circle class="c53" cx="546.5" cy="273.8" r="2.236"/>
<circle class="c53" cx="546.3" cy="276.3" r="2.236"/>
<circle class="c53" cx="546.1" cy="278.9" r="2.236"/>
<circle class="c53" cx="546.3" cy="281.6" r="2.236"/>
<circle class="c54" cx="546.3" cy="284.3" r="2.236"/>
<circle class="c54" cx="546.4" cy="287.0" r="2.236"/>
<circle class="c54" cx="546.1" cy="289.9" r="2.236"/>
<circle class="c55" cx="546.4" cy="292.8" r="2.236"/>
<circle class="c55" cx="546.4" cy="295.8" r="2.236"/>
<circle class="c55" cx="546.1" cy="298.9" r="2.236"/>
<circle class="c56" cx="546.3" cy="302.1" r="2.236"/>
<circle class="c56" cx="546.3" cy="305.4" r="2.236"/>
<circle class="c57" cx="546.3" cy="308.8" r="2.236"/>
<circle class="c57" cx="545.9" cy="312.3" r="2.236"/>
<circle class="c57" cx="546.3" cy="316.0" r="2.236"/>
<circle class="c64" cx="546.2" cy="319.8" r="2.236"/>
<circle class="c64" cx="546.4" cy="323.7" r="2.236"/>
<circle class="c65" cx="546.3" cy="327.8" r="2.236"/>
<circle class="c65" cx="546.2" cy="332.1" r="2.236"/>
<circle class="c66" cx="546.1" cy="336.6" r="2.236"/>
<circle class="c66" cx="546.2" cy="341.3" r="2.236"/>
<circle class="c67" cx="546.3" cy="346.2" r="2.236"/>
<circle class="c63" cx="318.6" cy="264.9" r="2.236"/>
<circle class="c26" cx="318.2" cy="267.2" r="2.236"/>
<circle class="c26" cx="318.3" cy="269.5" r="2.236"/>
<circle class="c26" cx="318.5" cy="271.8" r="2.236"/>
<circle class="c26" cx="318.4" cy="274.2" r="2.236"/>
<circle class="c53" cx="318.5" cy="276.6" r="2.236"/>
<circle class="c53" cx="318.2" cy="279.0" r="2.236"/>
<circle class="c53" cx="318.4" cy="281.5" r="2.236"/>
<circle class="c53" cx="318.3" cy="284.0" r="2.236"/>
<circle class="c54" cx="318.0" cy="286.6" r="2.236"/>
<circle class="c54" cx="318.4" cy="289.2" r="2.236"/>
<circle class="c54" cx="318.3" cy="291.8" r="2.236"/>
<circle class="c55" cx="318.2" cy="294.5" r="2.236"/>
<circle class="c55" cx="318.3" cy="297.3" r="2.236"/>
<circle class="c55" cx="318.1" cy="300.1" r="2.236"/>
<circle class="c56" cx="318.2" cy="303.0" r="2.236"/>
<circle class="c56" cx="318.5" cy="306.0" r="2.236"/>
<circle class="c57" cx="318.2" cy="312.2" r="2.236"/>
<circle class="c57" cx="318.5" cy="315.4" r="2.236"/>
<circle class="c57" cx="318.3" cy="318.7" r="2.236"/>
<circle class="c64" cx="318.2" cy="322.0" r="2.236"/>
<circle class="c65" cx="318.3" cy="336.7" r="2.236"/>
<circle class="c66" cx="318.3" cy="340.1" r="2.236"/>
<circle class="c32" cx="543.6" cy="254.7" r="2.236"/>
<circle class="c32" cx="543.6" cy="256.8" r="2.236"/>
<circle class="c63" cx="543.6" cy="259.1" r="2.236"/>
<circle class="c63" cx="543.8" cy="261.3" r="2.236"/>
<circle class="c63" cx="543.5" cy="263.6" r="2.236"/>
<circle class="c63" cx="543.6" cy="265.9" r="2.236"/>
<circle class="c26" cx="543.6" cy="268.2" r="2.236"/>
<circle class="c26" cx="543.6" cy="270.6" r="2.236"/>
<circle class="c26" cx="543.6" cy="273.0" r="2.236"/>
<circle class="c26" cx="543.7" cy="275.5" r="2.236"/>
<circle class="c53" cx="543.6" cy="278.0" r="2.236"/>
<circle class="c53" cx="543.8" cy="280.5" r="2.236"/>
<circle class="c53" cx="543.5" cy="283.1" r="2.236"/>
<circle class="c54" cx="543.6" cy="285.8" r="2.236"/>
<circle class="c54" cx="543.7" cy="288.6" r="2.236"/>
<circle class="c54" cx="543.7" cy="291.4" r="2.236"/>
<circle class="c55" cx="543.8" cy="294.2" r="2.236"/>
<circle class="c55" cx="543.6" cy="297.2" r="2.236"/>
<circle class="c55" cx="543.8" cy="300.2" r="2.236"/>
<circle class="c56" cx="543.6" cy="303.4" r="2.236"/>
<circle class="c56" cx="543.4" cy="306.6" r="2.236"/>
<circle class="c56" cx="543.7" cy="309.9" r="2.236"/>
<circle class="c57" cx="543.5" cy="313.4" r="2.236"/>
<circle class="c57" cx="543.6" cy="316.9" r="2.236"/>
<circle class="c64" cx="543.7" cy="320.6" r="2.236"/>
<circle class="c64" cx="543.6" cy="324.5" r="2.236"/>
<circle class="c64" cx="543.5" cy="328.5" r="2.236"/>
<circle class="c65" cx="543.7" cy="332.7" r="2.236"/>
<circle class="c65" cx="543.8" cy="337.0" r="2.236"/>
<circle class="c66" cx="543.5" cy="341.6" r="2.236"/>
<circle class="c66" cx="543.6" cy="346.4" r="2.236"/>
<circle class="c67" cx="543.7" cy="348.7" r="2.236"/>
<circle class="c63" cx="321.7" cy="266.6" r="2.236"/>
<circle class="c26" cx="321.6" cy="269.1" r="2.236"/>
<circle class="c26" cx="321.4" cy="271.7" r="2.236"/>
<circle class="c26" cx="321.5" cy="274.3" r="2.236"/>
<circle class="c26" cx="321.8" cy="277.0" r="2.236"/>
<circle class="c53" cx="321.4" cy="279.7" r="2.236"/>
<circle class="c53" cx="321.7" cy="282.5" r="2.236"/>
<circle class="c53" cx="321.5" cy="285.3" r="2.236"/>
<circle class="c54" cx="321.6" cy="288.2" r="2.236"/>
<circle class="c54" cx="321.7" cy="291.1" r="2.236"/>
<circle class="c54" cx="321.6" cy="294.1" r="2.236"/>
<circle class="c55" cx="321.7" cy="297.2" r="2.236"/>
<circle class="c55" cx="321.4" cy="300.3" r="2.236"/>
<circle class="c55" cx="321.4" cy="303.5" r="2.236"/>
<circle class="c56" cx="321.3" cy="306.8" r="2.236"/>
<circle class="c56" cx="321.6" cy="310.2" r="2.236"/>
<circle class="c57" cx="321.5" cy="313.7" r="2.236"/>
<circle class="c57" cx="321.5" cy="317.4" r="2.236"/>
<circle class="c64" cx="321.7" cy="324.9" r="2.236"/>
<circle class="c66" cx="321.4" cy="341.8" r="2.236"/>
<circle class="c66" cx="321.7" cy="345.1" r="2.236"/>
<circle class="c32" cx="540.8" cy="258.0" r="2.236"/>
<circle class="c32" cx="540.8" cy="260.3" r="2.236"/>
<circle class="c63" cx="540.9" cy="262.7" r="2.236"/>
<circle class="c63" cx="540.8" cy="265.1" r="2.236"/>
<circle class="c63" cx="540.9" cy="267.5" r="2.236"/>
<circle class="c26" cx="540.9" cy="269.9" r="2.236"/>
<circle class="c26" cx="540.9" cy="272.4" r="2.236"/>
<circle class="c26" cx="540.8" cy="275.0" r="2.236"/>
<circle class="c26" cx="540.9" cy="277.6" r="2.236"/>
<circle class="c53" cx="540.8" cy="280.2" r="2.236"/>
<circle class="c53" cx="540.9" cy="282.9" r="2.236"/>
<circle class="c53" cx="540.6" cy="285.6" r="2.236"/>
<circle class="c54" cx="541.0" cy="288.5" r="2.236"/>
<circle class="c54" cx="540.8" cy="291.4" r="2.236"/>
<circle class="c54" cx="540.5" cy="294.3" r="2.236"/>
<circle class="c55" cx="540.9" cy="297.4" r="2.236"/>
<circle class="c55" cx="540.9" cy="300.5" r="2.236"/>
<circle class="c55" cx="540.8" cy="303.7" r="2.236"/>
<circle class="c56" cx="540.8" cy="307.1" r="2.236"/>
<circle class="c56" cx="540.8" cy="310.5" r="2.236"/>
<circle class="c57" cx="540.7" cy="314.1" r="2.236"/>
<circle class="c57" cx="541.0" cy="317.8" r="2.236"/>
<circle class="c57" cx="540.6" cy="321.6" r="2.236"/>
<circle class="c64" cx="540.7" cy="325.6" r="2.236"/>
<circle class="c64" cx="540.4" cy="329.8" r="2.236"/>
<circle class="c65" cx="540.9" cy="334.1" r="2.236"/>
<circle class="c65" cx="540.7" cy="338.7" r="2.236"/>
<circle class="c66" cx="541.0" cy="343.4" r="2.236"/>
<circle class="c66" cx="540.5" cy="348.4" r="2.236"/>
<circle class="c67" cx="540.9" cy="352.2" r="2.236"/>
<circle class="c69" cx="327.6" cy="270.8" r="2.236"/>
<circle class="c70" cx="327.9" cy="273.3" r="2.236"/>
<circle class="c70" cx="327.8" cy="275.8" r="2.236"/>
<circle class="c70" cx="327.5" cy="278.3" r="2.236"/>
<circle class="c71" cx="327.7" cy="280.8" r="2.236"/>
<circle class="c71" cx="327.6" cy="283.4" r="2.236"/>
<circle class="c71" cx="327.3" cy="286.1" r="2.236"/>
<circle class="c71" cx="327.3" cy="288.8" r="2.236"/>
<circle class="c72" cx="327.5" cy="291.5" r="2.236"/>
<circle class="c72" cx="327.6" cy="294.3" r="2.236"/>
<circle class="c72" cx="327.4" cy="297.2" r="2.236"/>
<circle class="c73" cx="327.4" cy="300.1" r="2.236"/>
<circle class="c73" cx="327.4" cy="303.1" r="2.236"/>
<circle class="c73" cx="327.4" cy="306.2" r="2.236"/>
<circle class="c74" cx="327.4" cy="309.4" r="2.236"/>
<circle class="c74" cx="327.5" cy="312.6" r="2.236"/>
<circle class="c75" cx="327.7" cy="316.0" r="2.236"/>
<circle class="c75" cx="327.6" cy="319.4" r="2.236"/>
<circle class="c75" cx="327.4" cy="322.9" r="2.236"/>
<circle class="c76" cx="327.6" cy="326.6" r="2.236"/>
<circle class="c76" cx="327.6" cy="330.4" r="2.236"/>
<circle class="c77" cx="327.3" cy="334.3" r="2.236"/>
<circle class="c77" cx="327.7" cy="338.4" r="2.236"/>
<circle class="c78" cx="327.5" cy="342.6" r="2.236"/>
<circle class="c78" cx="327.4" cy="347.0" r="2.236"/>
<circle class="c79" cx="327.9" cy="351.5" r="2.236"/>
<circle class="c80" cx="537.6" cy="259.6" r="2.236"/>
<circle class="c80" cx="537.9" cy="261.6" r="2.236"/>
<circle class="c69" cx="537.6" cy="263.8" r="2.236"/>
<circle class="c69" cx="537.6" cy="265.9" r="2.236"/>
<circle class="c69" cx="537.6" cy="268.0" r="2.236"/>
<circle class="c69" cx="537.6" cy="270.2" r="2.236"/>
<circle class="c70" cx="537.6" cy="272.4" r="2.236"/>
<circle class="c70" cx="537.6" cy="274.7" r="2.236"/>
<circle class="c70" cx="537.6" cy="277.0" r="2.236"/>
<circle class="c70" cx="537.6" cy="279.3" r="2.236"/>
<circle class="c71" cx="537.5" cy="281.6" r="2.236"/>
<circle class="c71" cx="537.7" cy="284.0" r="2.236"/>
<circle class="c71" cx="537.5" cy="286.5" r="2.236"/>
<circle class="c71" cx="537.7" cy="289.0" r="2.236"/>
<circle class="c72" cx="537.9" cy="291.5" r="2.236"/>
<circle class="c72" cx="537.6" cy="294.2" r="2.236"/>
<circle class="c72" cx="537.7" cy="296.8" r="2.236"/>
<circle class="c73" cx="538.0" cy="299.6" r="2.236"/>
<circle class="c73" cx="537.6" cy="302.4" r="2.236"/>
<circle class="c73" cx="537.5" cy="305.3" r="2.236"/>
<circle class="c74" cx="537.7" cy="308.3" r="2.236"/>
<circle class="c74" cx="537.5" cy="311.3" r="2.236"/>
<circle class="c74" cx="537.7" cy="314.5" r="2.236"/>
<circle class="c75" cx="537.5" cy="317.7" r="2.236"/>
<circle class="c75" cx="537.7" cy="321.1" r="2.236"/>
<circle class="c75" cx="537.7" cy="324.6" r="2.236"/>
<circle class="c76" cx="537.8" cy="328.2" r="2.236"/>
<circle class="c76" cx="537.7" cy="331.9" r="2.236"/>
<circle class="c77" cx="537.5" cy="335.8" r="2.236"/>
<circle class="c77" cx="537.7" cy="339.8" r="2.236"/>
<circle class="c78" cx="537.7" cy="344.0" r="2.236"/>
<circle class="c78" cx="537.9" cy="348.4" r="2.236"/>
<circle class="c79" cx="537.6" cy="353.0" r="2.236"/>
<circle class="c70" cx="333.8" cy="275.3" r="2.236"/>
<circle class="c70" cx="333.5" cy="277.7" r="2.236"/>
<circle class="c70" cx="333.8" cy="280.2" r="2.236"/>
<circle class="c71" cx="333.5" cy="282.8" r="2.236"/>
<circle class="c71" cx="333.5" cy="285.4" r="2.236"/>
<circle class="c71" cx="333.7" cy="288.0" r="2.236"/>
<circle class="c71" cx="333.7" cy="290.7" r="2.236"/>
<circle class="c72" cx="333.8" cy="293.5" r="2.236"/>
<circle class="c72" cx="333.8" cy="296.3" r="2.236"/>
<circle class="c72" cx="333.5" cy="299.1" r="2.236"/>
<circle class="c73" cx="333.6" cy="302.1" r="2.236"/>
<circle class="c73" cx="333.8" cy="305.1" r="2.236"/>
<circle class="c73" cx="333.5" cy="308.2" r="2.236"/>
<circle class="c74" cx="333.6" cy="311.3" r="2.236"/>
<circle class="c74" cx="333.7" cy="314.6" r="2.236"/>
<circle class="c75" cx="333.8" cy="317.9" r="2.236"/>
<circle class="c75" cx="333.6" cy="321.4" r="2.236"/>
<circle class="c75" cx="333.7" cy="324.9" r="2.236"/>
<circle class="c76" cx="333.5" cy="328.6" r="2.236"/>
<circle class="c76" cx="333.8" cy="332.4" r="2.236"/>
<circle class="c77" cx="333.5" cy="336.4" r="2.236"/>
<circle class="c77" cx="334.0" cy="340.5" r="2.236"/>
<circle class="c78" cx="333.7" cy="344.7" r="2.236"/>
<circle class="c79" cx="333.5" cy="353.8" r="2.236"/>
<circle class="c79" cx="333.7" cy="357.0" r="2.236"/>
<circle class="c80" cx="534.1" cy="260.5" r="2.236"/>
<circle class="c80" cx="534.0" cy="262.6" r="2.236"/>
<circle class="c80" cx="534.4" cy="264.7" r="2.236"/>
<circle class="c69" cx="534.3" cy="266.8" r="2.236"/>
<circle class="c69" cx="534.1" cy="268.9" r="2.236"/>
<circle class="c69" cx="534.4" cy="271.0" r="2.236"/>
<circle class="c69" cx="534.2" cy="273.2" r="2.236"/>
<circle class="c70" cx="534.2" cy="275.4" r="2.236"/>
<circle class="c70" cx="534.3" cy="277.7" r="2.236"/>
<circle class="c70" cx="534.4" cy="279.9" r="2.236"/>
<circle class="c70" cx="534.1" cy="282.2" r="2.236"/>
<circle class="c71" cx="534.3" cy="284.6" r="2.236"/>
<circle class="c71" cx="534.3" cy="287.0" r="2.236"/>
<circle class="c71" cx="534.5" cy="289.5" r="2.236"/>
<circle class="c72" cx="534.2" cy="291.9" r="2.236"/>
<circle class="c72" cx="534.5" cy="294.5" r="2.236"/>
<circle class="c72" cx="534.0" cy="297.1" r="2.236"/>
<circle class="c72" cx="534.4" cy="299.8" r="2.236"/>
<circle class="c73" cx="534.5" cy="302.5" r="2.236"/>
<circle class="c73" cx="534.4" cy="305.3" r="2.236"/>
<circle class="c73" cx="534.5" cy="308.2" r="2.236"/>
<circle class="c74" cx="534.4" cy="311.2" r="2.236"/>
<circle class="c74" cx="534.1" cy="314.2" r="2.236"/>
<circle class="c74" cx="534.2" cy="317.4" r="2.236"/>
<circle class="c75" cx="534.4" cy="320.6" r="2.236"/>
<circle class="c75" cx="534.3" cy="324.0" r="2.236"/>
<circle class="c76" cx="534.3" cy="327.4" r="2.236"/>
<circle class="c76" cx="534.5" cy="331.0" r="2.236"/>
<circle class="c76" cx="534.3" cy="334.8" r="2.236"/>
<circle class="c77" cx="534.2" cy="342.6" r="2.236"/>
<circle class="c78" cx="534.3" cy="346.8" r="2.236"/>
<circle class="c78" cx="534.2" cy="351.2" r="2.236"/>
<circle class="c79" cx="534.5" cy="355.8" r="2.236"/>
<circle class="c70" cx="339.8" cy="276.9" r="2.236"/>
<circle class="c70" cx="339.6" cy="279.5" r="2.236"/>
<circle class="c70" cx="339.7" cy="282.2" r="2.236"/>
<circle class="c71" cx="339.7" cy="284.9" r="2.236"/>
<circle class="c71" cx="339.7" cy="287.7" r="2.236"/>
<circle class="c71" cx="339.7" cy="290.6" r="2.236"/>
<circle class="c72" cx="339.7" cy="293.5" r="2.236"/>
<circle class="c72" cx="339.8" cy="296.4" r="2.236"/>
<circle class="c72" cx="339.9" cy="299.5" r="2.236"/>
<circle class="c73" cx="339.6" cy="302.6" r="2.236"/>
<circle class="c73" cx="339.6" cy="305.8" r="2.236"/>
<circle class="c73" cx="339.6" cy="309.1" r="2.236"/>
<circle class="c74" cx="339.6" cy="312.5" r="2.236"/>
<circle class="c74" cx="339.6" cy="316.0" r="2.236"/>
<circle class="c74" cx="339.7" cy="319.6" r="2.236"/>
<circle class="c75" cx="339.8" cy="323.3" r="2.236"/>
<circle class="c75" cx="339.6" cy="327.1" r="2.236"/>
<circle class="c76" cx="339.7" cy="331.1" r="2.236"/>
<circle class="c77" cx="339.8" cy="339.6" r="2.236"/>
<circle class="c77" cx="339.9" cy="344.0" r="2.236"/>
<circle class="c78" cx="339.7" cy="348.7" r="2.236"/>
<circle class="c78" cx="339.6" cy="353.6" r="2.236"/>
<circle class="c79" cx="339.7" cy="358.7" r="2.236"/>
<circle class="c79" cx="339.5" cy="363.2" r="2.236"/>
<circle class="c80" cx="530.6" cy="263.1" r="2.236"/>
<circle class="c80" cx="530.7" cy="265.2" r="2.236"/>
<circle class="c80" cx="530.8" cy="267.3" r="2.236"/>
<circle class="c69" cx="530.6" cy="269.5" r="2.236"/>
<circle class="c69" cx="530.7" cy="271.7" r="2.236"/>
<circle class="c69" cx="530.8" cy="273.9" r="2.236"/>
<circle class="c69" cx="530.9" cy="276.2" r="2.236"/>
<circle class="c70" cx="530.8" cy="278.4" r="2.236"/>
<circle class="c70" cx="530.7" cy="280.8" r="2.236"/>
<circle class="c70" cx="530.8" cy="283.1" r="2.236"/>
<circle class="c71" cx="530.7" cy="285.5" r="2.236"/>
<circle class="c71" cx="530.7" cy="288.0" r="2.236"/>
<circle class="c71" cx="530.6" cy="290.5" r="2.236"/>
<circle class="c71" cx="530.8" cy="293.0" r="2.236"/>
<circle class="c72" cx="530.7" cy="295.6" r="2.236"/>
<circle class="c72" cx="531.0" cy="298.3" r="2.236"/>
<circle class="c72" cx="530.8" cy="301.0" r="2.236"/>
<circle class="c73" cx="530.7" cy="303.8" r="2.236"/>
<circle class="c73" cx="530.7" cy="306.7" r="2.236"/>
<circle class="c73" cx="530.8" cy="309.7" r="2.236"/>
<circle class="c74" cx="530.8" cy="312.7" r="2.236"/>
<circle class="c74" cx="530.7" cy="315.8" r="2.236"/>
<circle class="c74" cx="530.9" cy="319.0" r="2.236"/>
<circle class="c75" cx="530.7" cy="322.4" r="2.236"/>
<circle class="c75" cx="530.6" cy="325.8" r="2.236"/>
<circle class="c75" cx="530.7" cy="329.3" r="2.236"/>
<circle class="c76" cx="530.4" cy="333.0" r="2.236"/>
<circle class="c76" cx="530.4" cy="336.9" r="2.236"/>
<circle class="c77" cx="530.7" cy="340.8" r="2.236"/>
<circle class="c77" cx="530.8" cy="345.0" r="2.236"/>
<circle class="c78" cx="530.5" cy="349.3" r="2.236"/>
<circle class="c78" cx="530.7" cy="353.8" r="2.236"/>
<circle class="c79" cx="530.8" cy="357.6" r="2.236"/>
<circle class="c70" cx="345.5" cy="280.1" r="2.236"/>
<circle class="c70" cx="345.7" cy="282.7" r="2.236"/>
<circle class="c70" cx="345.8" cy="285.4" r="2.236"/>
<circle class="c71" cx="345.7" cy="288.2" r="2.236"/>
<circle class="c71" cx="345.5" cy="291.0" r="2.236"/>
<circle class="c71" cx="345.8" cy="293.8" r="2.236"/>
<circle class="c72" cx="345.6" cy="296.8" r="2.236"/>
<circle class="c72" cx="345.7" cy="299.7" r="2.236"/>
<circle class="c72" cx="345.6" cy="302.8" r="2.236"/>
<circle class="c73" cx="345.5" cy="306.0" r="2.236"/>
<circle class="c73" cx="346.0" cy="309.2" r="2.236"/>
<circle class="c74" cx="345.7" cy="312.5" r="2.236"/>
<circle class="c74" cx="345.7" cy="316.0" r="2.236"/>
<circle class="c74" cx="345.7" cy="319.5" r="2.236"/>
<circle class="c75" cx="345.7" cy="323.2" r="2.236"/>
<circle class="c75" cx="345.7" cy="326.9" r="2.236"/>
<circle class="c76" cx="345.7" cy="330.9" r="2.236"/>
<circle class="c76" cx="345.8" cy="334.9" r="2.236"/>
<circle class="c77" cx="345.7" cy="339.2" r="2.236"/>
<circle class="c77" cx="345.9" cy="343.6" r="2.236"/>
<circle class="c78" cx="345.7" cy="353.0" r="2.236"/>
<circle class="c79" cx="345.5" cy="363.3" r="2.236"/>
<circle class="c81" cx="345.8" cy="368.5" r="2.236"/>
<circle class="c82" cx="336.6" cy="393.0" r="2.236"/>
<circle class="c83" cx="349.8" cy="401.8" r="2.236"/>
<circle class="c84" cx="351.6" cy="409.0" r="2.236"/>
<circle class="c84" cx="347.4" cy="435.4" r="2.236"/>
<circle class="c83" cx="399.4" cy="398.7" r="2.236"/>
<circle class="c84" cx="423.6" cy="406.8" r="2.236"/>
<circle class="c80" cx="526.8" cy="264.1" r="2.236"/>
<circle class="c80" cx="526.8" cy="266.1" r="2.236"/>
<circle class="c80" cx="527.0" cy="268.2" r="2.236"/>
<circle class="c69" cx="526.9" cy="270.2" r="2.236"/>
<circle class="c69" cx="527.0" cy="272.3" r="2.236"/>
<circle class="c69" cx="526.6" cy="274.4" r="2.236"/>
<circle class="c69" cx="527.0" cy="276.5" r="2.236"/>
<circle class="c70" cx="526.8" cy="278.7" r="2.236"/>
<circle class="c70" cx="526.8" cy="280.8" r="2.236"/>
<circle class="c70" cx="526.8" cy="283.1" r="2.236"/>
<circle class="c70" cx="527.1" cy="285.3" r="2.236"/>
<circle class="c71" cx="526.7" cy="287.6" r="2.236"/>
<circle class="c71" cx="526.7" cy="289.9" r="2.236"/>
<circle class="c71" cx="526.9" cy="292.3" r="2.236"/>
<circle class="c71" cx="526.8" cy="294.7" r="2.236"/>
<circle class="c72" cx="526.7" cy="297.2" r="2.236"/>
<circle class="c72" cx="526.9" cy="299.7" r="2.236"/>
<circle class="c72" cx="526.7" cy="302.3" r="2.236"/>
<circle class="c72" cx="526.9" cy="304.9" r="2.236"/>
<circle class="c73" cx="526.6" cy="307.6" r="2.236"/>
<circle class="c73" cx="526.8" cy="310.4" r="2.236"/>
<circle class="c73" cx="526.8" cy="313.2" r="2.236"/>
<circle class="c74" cx="527.0" cy="316.2" r="2.236"/>
<circle class="c74" cx="526.8" cy="319.2" r="2.236"/>
<circle class="c74" cx="526.9" cy="322.3" r="2.236"/>
<circle class="c75" cx="526.8" cy="325.5" r="2.236"/>
<circle class="c75" cx="526.8" cy="328.8" r="2.236"/>
<circle class="c76" cx="526.7" cy="332.2" r="2.236"/>
<circle class="c76" cx="526.9" cy="335.7" r="2.236"/>
<circle class="c76" cx="526.8" cy="339.3" r="2.236"/>
<circle class="c77" cx="527.0" cy="343.1" r="2.236"/>
<circle class="c77" cx="526.7" cy="347.1" r="2.236"/>
<circle class="c78" cx="526.7" cy="355.4" r="2.236"/>
<circle class="c79" cx="527.0" cy="359.9" r="2.236"/>
<circle class="c79" cx="526.8" cy="361.8" r="2.236"/>
<circle class="c70" cx="351.5" cy="283.1" r="2.236"/>
<circle class="c70" cx="351.8" cy="285.4" r="2.236"/>
<circle class="c71" cx="351.9" cy="287.8" r="2.236"/>
<circle class="c71" cx="351.8" cy="290.2" r="2.236"/>
<circle class="c71" cx="351.8" cy="292.7" r="2.236"/>
<circle class="c71" cx="351.7" cy="295.2" r="2.236"/>
<circle class="c72" cx="352.0" cy="297.8" r="2.236"/>
<circle class="c72" cx="351.6" cy="300.4" r="2.236"/>
<circle class="c72" cx="351.6" cy="303.1" r="2.236"/>
<circle class="c73" cx="352.0" cy="305.9" r="2.236"/>
<circle class="c73" cx="351.6" cy="308.7" r="2.236"/>
<circle class="c73" cx="352.0" cy="311.6" r="2.236"/>
<circle class="c74" cx="351.7" cy="314.5" r="2.236"/>
<circle class="c74" cx="351.8" cy="317.6" r="2.236"/>
<circle class="c74" cx="352.0" cy="320.7" r="2.236"/>
<circle class="c75" cx="352.0" cy="323.9" r="2.236"/>
<circle class="c75" cx="351.9" cy="327.2" r="2.236"/>
<circle class="c75" cx="351.8" cy="330.7" r="2.236"/>
<circle class="c76" cx="351.7" cy="334.2" r="2.236"/>
<circle class="c76" cx="351.7" cy="337.9" r="2.236"/>
<circle class="c77" cx="352.0" cy="341.7" r="2.236"/>
<circle class="c77" cx="351.8" cy="345.6" r="2.236"/>
<circle class="c78" cx="351.9" cy="349.7" r="2.236"/>
<circle class="c78" cx="351.4" cy="354.0" r="2.236"/>
<circle class="c78" cx="351.7" cy="358.4" r="2.236"/>
<circle class="c81" cx="352.0" cy="367.9" r="2.236"/>
<circle class="c81" cx="351.7" cy="371.0" r="2.236"/>
<circle class="c70" cx="357.9" cy="283.4" r="2.236"/>
<circle class="c70" cx="357.7" cy="286.0" r="2.236"/>
<circle class="c71" cx="357.8" cy="288.7" r="2.236"/>
<circle class="c71" cx="357.9" cy="291.3" r="2.236"/>
<circle class="c71" cx="357.7" cy="294.1" r="2.236"/>
<circle class="c71" cx="357.8" cy="296.9" r="2.236"/>
<circle class="c72" cx="357.7" cy="299.7" r="2.236"/>
<circle class="c72" cx="357.8" cy="302.7" r="2.236"/>
<circle class="c72" cx="357.9" cy="305.7" r="2.236"/>
<circle class="c73" cx="358.0" cy="308.8" r="2.236"/>
<circle class="c73" cx="357.7" cy="311.9" r="2.236"/>
<circle class="c73" cx="357.9" cy="315.2" r="2.236"/>
<circle class="c74" cx="358.0" cy="318.6" r="2.236"/>
<circle class="c74" cx="358.0" cy="322.0" r="2.236"/>
<circle class="c75" cx="357.9" cy="325.6" r="2.236"/>
<circle class="c75" cx="357.7" cy="329.4" r="2.236"/>
<circle class="c76" cx="358.1" cy="333.2" r="2.236"/>
<circle class="c76" cx="358.0" cy="337.2" r="2.236"/>
<circle class="c76" cx="358.1" cy="341.4" r="2.236"/>
<circle class="c77" cx="357.8" cy="345.8" r="2.236"/>
<circle class="c78" cx="357.9" cy="355.1" r="2.236"/>
<circle class="c79" cx="357.8" cy="360.0" r="2.236"/>
<circle class="c81" cx="357.9" cy="370.8" r="2.236"/>
<circle class="c81" cx="357.7" cy="373.5" r="2.236"/>
<circle class="c80" cx="522.9" cy="266.9" r="2.236"/>
<circle class="c80" cx="522.6" cy="269.0" r="2.236"/>
<circle class="c80" cx="522.7" cy="271.0" r="2.236"/>
<circle class="c69" cx="522.8" cy="273.1" r="2.236"/>
<circle class="c69" cx="522.7" cy="275.2" r="2.236"/>
<circle class="c69" cx="522.7" cy="277.3" r="2.236"/>
<circle class="c69" cx="522.7" cy="279.5" r="2.236"/>
<circle class="c70" cx="522.6" cy="281.7" r="2.236"/>
<circle class="c70" cx="522.7" cy="283.9" r="2.236"/>
<circle class="c70" cx="522.9" cy="286.1" r="2.236"/>
<circle class="c70" cx="522.8" cy="288.4" r="2.236"/>
<circle class="c71" cx="522.8" cy="290.7" r="2.236"/>
<circle class="c71" cx="522.7" cy="293.1" r="2.236"/>
<circle class="c71" cx="523.0" cy="295.5" r="2.236"/>
<circle class="c71" cx="522.8" cy="298.0" r="2.236"/>
<circle class="c72" cx="522.6" cy="300.5" r="2.236"/>
<circle class="c72" cx="523.1" cy="303.1" r="2.236"/>
<circle class="c72" cx="523.1" cy="305.7" r="2.236"/>
<circle class="c73" cx="522.8" cy="308.4" r="2.236"/>
<circle class="c73" cx="522.8" cy="311.1" r="2.236"/>
<circle class="c73" cx="522.8" cy="314.0" r="2.236"/>
<circle class="c74" cx="522.8" cy="316.9" r="2.236"/>
<circle class="c74" cx="522.9" cy="319.9" r="2.236"/>
<circle class="c74" cx="522.7" cy="322.9" r="2.236"/>
<circle class="c75" cx="522.7" cy="326.1" r="2.236"/>
<circle class="c75" cx="522.7" cy="332.8" r="2.236"/>
<circle class="c76" cx="522.9" cy="336.3" r="2.236"/>
<circle class="c76" cx="523.1" cy="339.9" r="2.236"/>
<circle class="c77" cx="523.2" cy="343.7" r="2.236"/>
<circle class="c77" cx="522.8" cy="347.6" r="2.236"/>
<circle class="c77" cx="522.3" cy="351.6" r="2.236"/>
<circle class="c78" cx="522.8" cy="355.9" r="2.236"/>
<circle class="c78" cx="522.6" cy="360.3" r="2.236"/>
<circle class="c79" cx="523.0" cy="363.6" r="2.236"/>
<circle class="c85" cx="363.6" cy="284.9" r="2.236"/>
<circle class="c85" cx="363.8" cy="287.4" r="2.236"/>
<circle class="c85" cx="363.9" cy="289.9" r="2.236"/>
<circle class="c86" cx="363.8" cy="292.5" r="2.236"/>
<circle class="c86" cx="364.1" cy="295.1" r="2.236"/>
<circle class="c86" cx="363.9" cy="297.8" r="2.236"/>
<circle class="c87" cx="364.1" cy="300.5" r="2.236"/>
<circle class="c87" cx="363.9" cy="303.3" r="2.236"/>
<circle class="c87" cx="363.6" cy="306.2" r="2.236"/>
<circle class="c88" cx="364.3" cy="309.2" r="2.236"/>
<circle class="c88" cx="364.1" cy="312.2" r="2.236"/>
<circle class="c88" cx="363.7" cy="315.3" r="2.236"/>
<circle class="c89" cx="363.7" cy="318.5" r="2.236"/>
<circle class="c89" cx="363.9" cy="321.8" r="2.236"/>
<circle class="c89" cx="363.9" cy="325.3" r="2.236"/>
<circle class="c90" cx="363.8" cy="328.8" r="2.236"/>
<circle class="c90" cx="363.9" cy="332.5" r="2.236"/>
<circle class="c91" cx="363.7" cy="336.3" r="2.236"/>
<circle class="c91" cx="363.8" cy="340.2" r="2.236"/>
<circle class="c92" cx="363.7" cy="344.3" r="2.236"/>
<circle class="c92" cx="363.9" cy="348.6" r="2.236"/>
<circle class="c93" cx="363.7" cy="357.7" r="2.236"/>
<circle class="c94" cx="364.0" cy="362.6" r="2.236"/>
<circle class="c94" cx="363.8" cy="367.7" r="2.236"/>
<circle class="c95" cx="363.8" cy="373.1" r="2.236"/>
<circle class="c95" cx="363.7" cy="376.8" r="2.236"/>
<circle class="c96" cx="518.4" cy="268.2" r="2.236"/>
<circle class="c96" cx="518.6" cy="270.6" r="2.236"/>
<circle class="c96" cx="518.6" cy="272.9" r="2.236"/>
<circle class="c97" cx="518.6" cy="275.3" r="2.236"/>
<circle class="c97" cx="518.3" cy="277.8" r="2.236"/>
<circle class="c97" cx="518.7" cy="280.2" r="2.236"/>
<circle class="c85" cx="518.3" cy="282.8" r="2.236"/>
<circle class="c85" cx="518.4" cy="285.3" r="2.236"/>
<circle class="c85" cx="518.1" cy="287.9" r="2.236"/>
<circle class="c85" cx="518.5" cy="290.5" r="2.236"/>
<circle class="c86" cx="518.4" cy="293.2" r="2.236"/>
<circle class="c86" cx="518.6" cy="296.0" r="2.236"/>
<circle class="c86" cx="518.4" cy="298.8" r="2.236"/>
<circle class="c87" cx="518.3" cy="301.7" r="2.236"/>
<circle class="c87" cx="518.4" cy="304.6" r="2.236"/>
<circle class="c87" cx="518.3" cy="307.6" r="2.236"/>
<circle class="c88" cx="518.8" cy="310.8" r="2.236"/>
<circle class="c88" cx="518.2" cy="314.0" r="2.236"/>
<circle class="c88" cx="518.6" cy="317.3" r="2.236"/>
<circle class="c89" cx="518.3" cy="320.7" r="2.236"/>
<circle class="c89" cx="518.4" cy="324.2" r="2.236"/>
<circle class="c90" cx="518.4" cy="327.8" r="2.236"/>
<circle class="c90" cx="518.6" cy="331.6" r="2.236"/>
<circle class="c90" cx="518.5" cy="335.5" r="2.236"/>
<circle class="c91" cx="518.5" cy="339.6" r="2.236"/>
<circle class="c91" cx="518.3" cy="343.9" r="2.236"/>
<circle class="c92" cx="518.6" cy="348.3" r="2.236"/>
<circle class="c92" cx="518.4" cy="352.9" r="2.236"/>
<circle class="c93" cx="518.4" cy="357.8" r="2.236"/>
<circle class="c94" cx="518.7" cy="362.9" r="2.236"/>
<circle class="c94" cx="518.1" cy="364.7" r="2.236"/>
<circle class="c85" cx="369.8" cy="286.9" r="2.236"/>
<circle class="c85" cx="370.0" cy="289.4" r="2.236"/>
<circle class="c86" cx="370.0" cy="291.9" r="2.236"/>
<circle class="c86" cx="369.7" cy="294.5" r="2.236"/>
<circle class="c86" cx="370.0" cy="297.1" r="2.236"/>
<circle class="c86" cx="369.6" cy="299.8" r="2.236"/>
<circle class="c87" cx="370.0" cy="302.5" r="2.236"/>
<circle class="c87" cx="369.6" cy="305.3" r="2.236"/>
<circle class="c87" cx="369.8" cy="308.2" r="2.236"/>
<circle class="c88" cx="370.1" cy="311.2" r="2.236"/>
<circle class="c88" cx="369.9" cy="314.2" r="2.236"/>
<circle class="c88" cx="370.0" cy="317.3" r="2.236"/>
<circle class="c89" cx="369.6" cy="320.5" r="2.236"/>
<circle class="c89" cx="370.0" cy="323.8" r="2.236"/>
<circle class="c89" cx="369.8" cy="327.3" r="2.236"/>
<circle class="c90" cx="370.2" cy="330.8" r="2.236"/>
<circle class="c90" cx="369.9" cy="334.4" r="2.236"/>
<circle class="c91" cx="369.9" cy="338.2" r="2.236"/>
<circle class="c91" cx="369.7" cy="342.2" r="2.236"/>
<circle class="c92" cx="369.8" cy="346.3" r="2.236"/>
<circle class="c92" cx="369.9" cy="350.6" r="2.236"/>
<circle class="c93" cx="370.1" cy="355.0" r="2.236"/>
<circle class="c93" cx="370.1" cy="359.7" r="2.236"/>
<circle class="c95" cx="369.7" cy="375.1" r="2.236"/>
<circle class="c95" cx="369.9" cy="377.6" r="2.236"/>
<circle class="c96" cx="514.2" cy="271.1" r="2.236"/>
<circle class="c96" cx="513.9" cy="273.0" r="2.236"/>
<circle class="c96" cx="513.7" cy="275.0" r="2.236"/>
<circle class="c97" cx="513.6" cy="277.0" r="2.236"/>
<circle class="c97" cx="514.2" cy="279.1" r="2.236"/>
<circle class="c97" cx="513.9" cy="281.1" r="2.236"/>
<circle class="c97" cx="513.8" cy="283.2" r="2.236"/>
<circle class="c85" cx="513.8" cy="285.3" r="2.236"/>
<circle class="c85" cx="514.1" cy="287.4" r="2.236"/>
<circle class="c85" cx="513.9" cy="289.6" r="2.236"/>
<circle class="c85" cx="513.8" cy="291.8" r="2.236"/>
<circle class="c86" cx="514.0" cy="294.0" r="2.236"/>
<circle class="c86" cx="514.0" cy="296.3" r="2.236"/>
<circle class="c86" cx="513.9" cy="298.6" r="2.236"/>
<circle class="c86" cx="513.9" cy="301.0" r="2.236"/>
<circle class="c87" cx="513.9" cy="303.4" r="2.236"/>
<circle class="c87" cx="514.0" cy="305.9" r="2.236"/>
<circle class="c87" cx="513.9" cy="308.4" r="2.236"/>
<circle class="c88" cx="513.8" cy="310.9" r="2.236"/>
<circle class="c88" cx="514.1" cy="313.6" r="2.236"/>
<circle class="c88" cx="514.2" cy="316.2" r="2.236"/>
<circle class="c88" cx="513.9" cy="319.0" r="2.236"/>
<circle class="c89" cx="514.0" cy="321.8" r="2.236"/>
<circle class="c89" cx="514.1" cy="324.7" r="2.236"/>
<circle class="c89" cx="513.9" cy="327.7" r="2.236"/>
<circle class="c90" cx="514.0" cy="330.8" r="2.236"/>
<circle class="c90" cx="514.1" cy="334.0" r="2.236"/>
<circle class="c90" cx="513.9" cy="337.3" r="2.236"/>
<circle class="c91" cx="513.7" cy="340.7" r="2.236"/>
<circle class="c91" cx="513.8" cy="344.2" r="2.236"/>
<circle class="c92" cx="514.1" cy="351.6" r="2.236"/>
<circle class="c92" cx="514.0" cy="355.5" r="2.236"/>
<circle class="c93" cx="514.0" cy="359.5" r="2.236"/>
<circle class="c93" cx="514.0" cy="363.8" r="2.236"/>
<circle class="c94" cx="514.0" cy="368.2" r="2.236"/>
<circle class="c85" cx="376.0" cy="288.7" r="2.236"/>
<circle class="c85" cx="375.8" cy="290.9" r="2.236"/>
<circle class="c86" cx="376.2" cy="293.2" r="2.236"/>
<circle class="c86" cx="376.0" cy="295.5" r="2.236"/>
<circle class="c86" cx="376.1" cy="297.8" r="2.236"/>
<circle class="c86" cx="376.1" cy="300.2" r="2.236"/>
<circle class="c87" cx="376.0" cy="302.7" r="2.236"/>
<circle class="c87" cx="375.9" cy="305.1" r="2.236"/>
<circle class="c87" cx="375.7" cy="307.7" r="2.236"/>
<circle class="c87" cx="375.8" cy="310.3" r="2.236"/>
<circle class="c88" cx="375.8" cy="312.9" r="2.236"/>
<circle class="c88" cx="376.0" cy="315.7" r="2.236"/>
<circle class="c88" cx="375.9" cy="318.4" r="2.236"/>
<circle class="c89" cx="376.1" cy="321.3" r="2.236"/>
<circle class="c89" cx="376.1" cy="324.3" r="2.236"/>
<circle class="c89" cx="376.2" cy="327.3" r="2.236"/>
<circle class="c90" cx="376.2" cy="330.4" r="2.236"/>
<circle class="c90" cx="375.6" cy="333.7" r="2.236"/>
<circle class="c90" cx="376.2" cy="337.0" r="2.236"/>
<circle class="c91" cx="376.0" cy="340.4" r="2.236"/>
<circle class="c91" cx="376.0" cy="344.0" r="2.236"/>
<circle class="c92" cx="375.9" cy="347.7" r="2.236"/>
<circle class="c92" cx="376.0" cy="351.5" r="2.236"/>
<circle class="c93" cx="375.9" cy="364.0" r="2.236"/>
<circle class="c94" cx="375.7" cy="368.5" r="2.236"/>
<circle class="c95" cx="375.8" cy="378.2" r="2.236"/>
<circle class="c85" cx="381.9" cy="289.9" r="2.236"/>
<circle class="c85" cx="382.1" cy="292.5" r="2.236"/>
<circle class="c86" cx="381.9" cy="295.0" r="2.236"/>
<circle class="c86" cx="382.1" cy="297.6" r="2.236"/>
<circle class="c86" cx="382.2" cy="300.3" r="2.236"/>
<circle class="c86" cx="382.1" cy="303.0" r="2.236"/>
<circle class="c87" cx="382.0" cy="305.8" r="2.236"/>
<circle class="c87" cx="381.9" cy="308.7" r="2.236"/>
<circle class="c87" cx="382.0" cy="311.6" r="2.236"/>
<circle class="c88" cx="382.1" cy="314.6" r="2.236"/>
<circle class="c88" cx="382.0" cy="317.7" r="2.236"/>
<circle class="c88" cx="382.3" cy="320.9" r="2.236"/>
<circle class="c89" cx="382.3" cy="324.2" r="2.236"/>
<circle class="c89" cx="382.2" cy="327.6" r="2.236"/>
<circle class="c90" cx="382.1" cy="331.1" r="2.236"/>
<circle class="c90" cx="381.8" cy="334.7" r="2.236"/>
<circle class="c90" cx="382.3" cy="338.5" r="2.236"/>
<circle class="c91" cx="382.1" cy="342.4" r="2.236"/>
<circle class="c91" cx="381.9" cy="346.5" r="2.236"/>
<circle class="c93" cx="381.9" cy="359.8" r="2.236"/>
<circle class="c93" cx="382.0" cy="364.7" r="2.236"/>
<circle class="c94" cx="381.8" cy="369.8" r="2.236"/>
<circle class="c95" cx="382.2" cy="375.2" r="2.236"/>
<circle class="c95" cx="382.0" cy="380.8" r="2.236"/>
<circle class="c96" cx="509.1" cy="273.0" r="2.236"/>
<circle class="c96" cx="509.2" cy="275.2" r="2.236"/>
<circle class="c97" cx="509.2" cy="277.5" r="2.236"/>
<circle class="c97" cx="509.1" cy="279.8" r="2.236"/>
<circle class="c97" cx="509.3" cy="282.2" r="2.236"/>
<circle class="c97" cx="509.5" cy="284.6" r="2.236"/>
<circle class="c85" cx="509.4" cy="287.0" r="2.236"/>
<circle class="c85" cx="509.3" cy="289.4" r="2.236"/>
<circle class="c85" cx="509.1" cy="291.9" r="2.236"/>
<circle class="c85" cx="509.5" cy="294.4" r="2.236"/>
<circle class="c86" cx="509.4" cy="297.0" r="2.236"/>
<circle class="c86" cx="509.2" cy="299.7" r="2.236"/>
<circle class="c86" cx="509.4" cy="302.4" r="2.236"/>
<circle class="c87" cx="509.3" cy="305.1" r="2.236"/>
<circle class="c87" cx="509.4" cy="307.9" r="2.236"/>
<circle class="c87" cx="509.2" cy="310.8" r="2.236"/>
<circle class="c88" cx="509.3" cy="313.8" r="2.236"/>
<circle class="c88" cx="509.5" cy="316.8" r="2.236"/>
<circle class="c88" cx="509.3" cy="319.9" r="2.236"/>
<circle class="c89" cx="509.1" cy="323.2" r="2.236"/>
<circle class="c89" cx="509.0" cy="326.5" r="2.236"/>
<circle class="c89" cx="509.0" cy="329.9" r="2.236"/>
<circle class="c90" cx="509.2" cy="333.5" r="2.236"/>
<circle class="c90" cx="509.3" cy="337.2" r="2.236"/>
<circle class="c91" cx="509.4" cy="341.0" r="2.236"/>
<circle class="c91" cx="509.3" cy="344.9" r="2.236"/>
<circle class="c92" cx="509.2" cy="349.1" r="2.236"/>
<circle class="c92" cx="509.3" cy="353.4" r="2.236"/>
<circle class="c93" cx="509.3" cy="357.8" r="2.236"/>
<circle class="c94" cx="509.3" cy="367.4" r="2.236"/>
<circle class="c94" cx="509.2" cy="370.6" r="2.236"/>
<circle class="c85" cx="388.2" cy="289.4" r="2.236"/>
<circle class="c85" cx="387.8" cy="291.7" r="2.236"/>
<circle class="c85" cx="388.1" cy="294.0" r="2.236"/>
<circle class="c86" cx="388.3" cy="296.3" r="2.236"/>
<circle class="c86" cx="388.1" cy="298.7" r="2.236"/>
<circle class="c86" cx="388.0" cy="301.1" r="2.236"/>
<circle class="c86" cx="388.1" cy="303.6" r="2.236"/>
<circle class="c87" cx="388.3" cy="306.1" r="2.236"/>
<circle class="c87" cx="388.2" cy="308.7" r="2.236"/>
<circle class="c87" cx="388.2" cy="311.4" r="2.236"/>
<circle class="c88" cx="387.7" cy="314.1" r="2.236"/>
<circle class="c88" cx="387.9" cy="316.8" r="2.236"/>
<circle class="c88" cx="388.3" cy="319.7" r="2.236"/>
<circle class="c88" cx="387.9" cy="322.6" r="2.236"/>
<circle class="c89" cx="388.1" cy="325.6" r="2.236"/>
<circle class="c89" cx="388.1" cy="328.7" r="2.236"/>
<circle class="c90" cx="388.1" cy="331.9" r="2.236"/>
<circle class="c90" cx="388.2" cy="335.2" r="2.236"/>
<circle class="c90" cx="388.1" cy="338.6" r="2.236"/>
<circle class="c91" cx="388.0" cy="342.1" r="2.236"/>
<circle class="c91" cx="388.1" cy="345.8" r="2.236"/>
<circle class="c92" cx="388.2" cy="353.5" r="2.236"/>
<circle class="c92" cx="388.0" cy="357.6" r="2.236"/>
<circle class="c93" cx="388.1" cy="361.8" r="2.236"/>
<circle class="c93" cx="387.9" cy="366.3" r="2.236"/>
<circle class="c94" cx="388.1" cy="375.8" r="2.236"/>
<circle class="c95" cx="388.2" cy="380.9" r="2.236"/>
<circle class="c95" cx="388.1" cy="383.3" r="2.236"/>
<circle class="c96" cx="504.5" cy="275.6" r="2.236"/>
<circle class="c96" cx="504.4" cy="277.9" r="2.236"/>
<circle class="c97" cx="504.4" cy="280.2" r="2.236"/>
<circle class="c97" cx="504.5" cy="282.5" r="2.236"/>
<circle class="c97" cx="504.4" cy="284.8" r="2.236"/>
<circle class="c97" cx="504.7" cy="287.2" r="2.236"/>
<circle class="c85" cx="504.4" cy="289.6" r="2.236"/>
<circle class="c85" cx="504.5" cy="292.0" r="2.236"/>
<circle class="c85" cx="504.4" cy="294.5" r="2.236"/>
<circle class="c86" cx="504.5" cy="297.1" r="2.236"/>
<circle class="c86" cx="504.7" cy="299.6" r="2.236"/>
<circle class="c86" cx="504.3" cy="302.3" r="2.236"/>
<circle class="c86" cx="504.6" cy="305.0" r="2.236"/>
<circle class="c87" cx="504.3" cy="307.7" r="2.236"/>
<circle class="c87" cx="504.5" cy="310.5" r="2.236"/>
<circle class="c87" cx="504.3" cy="313.4" r="2.236"/>
<circle class="c88" cx="504.4" cy="316.4" r="2.236"/>
<circle class="c88" cx="504.4" cy="319.4" r="2.236"/>
<circle class="c88" cx="504.4" cy="322.6" r="2.236"/>
<circle class="c89" cx="504.6" cy="325.8" r="2.236"/>
<circle class="c89" cx="504.6" cy="329.1" r="2.236"/>
<circle class="c90" cx="504.5" cy="332.5" r="2.236"/>
<circle class="c90" cx="504.4" cy="336.1" r="2.236"/>
<circle class="c90" cx="504.6" cy="339.8" r="2.236"/>
<circle class="c91" cx="504.3" cy="343.6" r="2.236"/>
<circle class="c91" cx="504.3" cy="347.5" r="2.236"/>
<circle class="c92" cx="504.5" cy="351.6" r="2.236"/>
<circle class="c92" cx="504.5" cy="355.9" r="2.236"/>
<circle class="c93" cx="504.3" cy="365.1" r="2.236"/>
<circle class="c94" cx="504.4" cy="370.0" r="2.236"/>
<circle class="c94" cx="504.9" cy="373.1" r="2.236"/>
<circle class="c85" cx="394.2" cy="290.0" r="2.236"/>
<circle class="c85" cx="394.1" cy="292.5" r="2.236"/>
<circle class="c85" cx="393.8" cy="295.0" r="2.236"/>
<circle class="c85" cx="394.1" cy="297.6" r="2.236"/>
<circle class="c86" cx="393.9" cy="300.3" r="2.236"/>
<circle class="c86" cx="394.1" cy="303.0" r="2.236"/>
<circle class="c86" cx="393.9" cy="305.7" r="2.236"/>
<circle class="c87" cx="393.9" cy="308.6" r="2.236"/>
<circle class="c87" cx="394.3" cy="311.5" r="2.236"/>
<circle class="c87" cx="394.0" cy="314.4" r="2.236"/>
<circle class="c88" cx="394.1" cy="317.5" r="2.236"/>
<circle class="c88" cx="394.1" cy="320.6" r="2.236"/>
<circle class="c88" cx="393.8" cy="323.8" r="2.236"/>
<circle class="c89" cx="394.0" cy="327.2" r="2.236"/>
<circle class="c89" cx="394.0" cy="330.6" r="2.236"/>
<circle class="c90" cx="394.2" cy="334.2" r="2.236"/>
<circle class="c90" cx="394.1" cy="337.8" r="2.236"/>
<circle class="c90" cx="394.0" cy="341.7" r="2.236"/>
<circle class="c91" cx="394.4" cy="345.6" r="2.236"/>
<circle class="c91" cx="394.0" cy="349.7" r="2.236"/>
<circle class="c92" cx="394.0" cy="358.5" r="2.236"/>
<circle class="c93" cx="394.0" cy="368.2" r="2.236"/>
<circle class="c94" cx="394.3" cy="373.3" r="2.236"/>
<circle class="c95" cx="394.1" cy="382.1" r="2.236"/>
<circle class="c96" cx="499.8" cy="276.7" r="2.236"/>
<circle class="c96" cx="499.5" cy="278.9" r="2.236"/>
<circle class="c97" cx="499.6" cy="281.2" r="2.236"/>
<circle class="c97" cx="499.4" cy="283.6" r="2.236"/>
<circle class="c97" cx="499.5" cy="285.9" r="2.236"/>
<circle class="c97" cx="499.6" cy="288.3" r="2.236"/>
<circle class="c85" cx="499.6" cy="290.8" r="2.236"/>
<circle class="c85" cx="499.4" cy="293.2" r="2.236"/>
<circle class="c85" cx="499.4" cy="295.7" r="2.236"/>
<circle class="c86" cx="499.4" cy="298.3" r="2.236"/>
<circle class="c86" cx="499.4" cy="300.9" r="2.236"/>
<circle class="c86" cx="499.3" cy="303.5" r="2.236"/>
<circle class="c86" cx="499.5" cy="306.3" r="2.236"/>
<circle class="c87" cx="499.3" cy="309.0" r="2.236"/>
<circle class="c87" cx="499.4" cy="311.9" r="2.236"/>
<circle class="c87" cx="499.6" cy="314.8" r="2.236"/>
<circle class="c88" cx="499.3" cy="317.8" r="2.236"/>
<circle class="c88" cx="499.6" cy="320.8" r="2.236"/>
<circle class="c88" cx="499.4" cy="324.0" r="2.236"/>
<circle class="c89" cx="499.3" cy="327.3" r="2.236"/>
<circle class="c89" cx="499.5" cy="330.6" r="2.236"/>
<circle class="c90" cx="499.4" cy="334.1" r="2.236"/>
<circle class="c90" cx="499.5" cy="337.7" r="2.236"/>
<circle class="c90" cx="499.7" cy="341.4" r="2.236"/>
<circle class="c91" cx="499.5" cy="345.2" r="2.236"/>
<circle class="c91" cx="499.3" cy="349.2" r="2.236"/>
<circle class="c92" cx="499.4" cy="353.4" r="2.236"/>
<circle class="c92" cx="499.6" cy="357.7" r="2.236"/>
<circle class="c93" cx="499.5" cy="362.2" r="2.236"/>
<circle class="c93" cx="499.4" cy="367.0" r="2.236"/>
<circle class="c94" cx="499.4" cy="371.9" r="2.236"/>
<circle class="c94" cx="499.4" cy="374.2" r="2.236"/>
<circle class="c97" cx="400.1" cy="289.6" r="2.236"/>
<circle class="c85" cx="400.1" cy="291.8" r="2.236"/>
<circle class="c85" cx="400.3" cy="294.0" r="2.236"/>
<circle class="c85" cx="400.5" cy="296.3" r="2.236"/>
<circle class="c85" cx="400.4" cy="298.6" r="2.236"/>
<circle class="c86" cx="400.3" cy="300.9" r="2.236"/>
<circle class="c86" cx="400.1" cy="303.3" r="2.236"/>
<circle class="c86" cx="400.1" cy="305.7" r="2.236"/>
<circle class="c87" cx="400.3" cy="308.2" r="2.236"/>
<circle class="c87" cx="400.1" cy="310.7" r="2.236"/>
<circle class="c87" cx="400.1" cy="313.3" r="2.236"/>
<circle class="c87" cx="400.0" cy="315.9" r="2.236"/>
<circle class="c88" cx="400.2" cy="318.6" r="2.236"/>
<circle class="c88" cx="400.1" cy="321.3" r="2.236"/>
<circle class="c88" cx="400.0" cy="324.2" r="2.236"/>
<circle class="c89" cx="400.3" cy="327.1" r="2.236"/>
<circle class="c89" cx="400.4" cy="330.1" r="2.236"/>
<circle class="c89" cx="400.1" cy="333.1" r="2.236"/>
<circle class="c90" cx="400.0" cy="336.3" r="2.236"/>
<circle class="c90" cx="400.0" cy="339.6" r="2.236"/>
<circle class="c90" cx="400.1" cy="342.9" r="2.236"/>
<circle class="c91" cx="400.2" cy="346.4" r="2.236"/>
<circle class="c91" cx="400.2" cy="350.0" r="2.236"/>
<circle class="c92" cx="400.1" cy="357.7" r="2.236"/>
<circle class="c92" cx="400.0" cy="361.7" r="2.236"/>
<circle class="c93" cx="400.2" cy="365.9" r="2.236"/>
<circle class="c93" cx="400.2" cy="370.3" r="2.236"/>
<circle class="c94" cx="400.0" cy="374.9" r="2.236"/>
<circle class="c94" cx="400.2" cy="379.6" r="2.236"/>
<circle class="c95" cx="399.9" cy="384.4" r="2.236"/>
<circle class="c96" cx="494.4" cy="278.5" r="2.236"/>
<circle class="c96" cx="494.5" cy="280.8" r="2.236"/>
<circle class="c97" cx="494.5" cy="283.0" r="2.236"/>
<circle class="c97" cx="494.2" cy="285.3" r="2.236"/>
<circle class="c97" cx="494.4" cy="287.7" r="2.236"/>
<circle class="c97" cx="494.5" cy="290.0" r="2.236"/>
<circle class="c85" cx="494.4" cy="292.4" r="2.236"/>
<circle class="c85" cx="494.2" cy="294.9" r="2.236"/>
<circle class="c85" cx="494.6" cy="297.3" r="2.236"/>
<circle class="c86" cx="494.4" cy="299.9" r="2.236"/>
<circle class="c86" cx="494.4" cy="302.4" r="2.236"/>
<circle class="c86" cx="494.6" cy="305.0" r="2.236"/>
<circle class="c86" cx="494.4" cy="307.7" r="2.236"/>
<circle class="c87" cx="494.5" cy="310.4" r="2.236"/>
<circle class="c87" cx="494.5" cy="313.2" r="2.236"/>
<circle class="c87" cx="494.4" cy="316.1" r="2.236"/>
<circle class="c88" cx="494.3" cy="319.0" r="2.236"/>
<circle class="c88" cx="494.5" cy="322.1" r="2.236"/>
<circle class="c88" cx="494.5" cy="325.1" r="2.236"/>
<circle class="c89" cx="494.4" cy="328.3" r="2.236"/>
<circle class="c89" cx="494.3" cy="331.6" r="2.236"/>
<circle class="c89" cx="494.3" cy="335.0" r="2.236"/>
<circle class="c90" cx="494.8" cy="338.5" r="2.236"/>
<circle class="c90" cx="494.5" cy="342.1" r="2.236"/>
<circle class="c91" cx="494.3" cy="345.9" r="2.236"/>
<circle class="c91" cx="494.3" cy="349.8" r="2.236"/>
<circle class="c92" cx="494.3" cy="353.8" r="2.236"/>
<circle class="c92" cx="494.2" cy="358.0" r="2.236"/>
<circle class="c93" cx="494.2" cy="362.4" r="2.236"/>
<circle class="c94" cx="494.5" cy="375.7" r="2.236"/>
<circle class="c98" cx="406.4" cy="290.1" r="2.236"/>
<circle class="c99" cx="406.4" cy="292.2" r="2.236"/>
<circle class="c99" cx="406.4" cy="294.4" r="2.236"/>
<circle class="c99" cx="406.2" cy="296.6" r="2.236"/>
<circle class="c99" cx="406.2" cy="298.8" r="2.236"/>
<circle class="c100" cx="406.1" cy="301.1" r="2.236"/>
<circle class="c100" cx="406.3" cy="303.4" r="2.236"/>
<circle class="c100" cx="406.3" cy="305.7" r="2.236"/>
<circle class="c100" cx="406.3" cy="308.1" r="2.236"/>
<circle class="c101" cx="406.2" cy="310.6" r="2.236"/>
<circle class="c101" cx="406.1" cy="313.0" r="2.236"/>
<circle class="c101" cx="405.9" cy="315.6" r="2.236"/>
<circle class="c101" cx="406.1" cy="318.2" r="2.236"/>
<circle class="c102" cx="405.9" cy="320.8" r="2.236"/>
<circle class="c102" cx="406.2" cy="323.5" r="2.236"/>
<circle class="c102" cx="406.1" cy="326.3" r="2.236"/>
<circle class="c103" cx="406.5" cy="329.2" r="2.236"/>
<circle class="c103" cx="406.1" cy="332.1" r="2.236"/>
<circle class="c103" cx="406.1" cy="335.1" r="2.236"/>
<circle class="c104" cx="406.5" cy="338.2" r="2.236"/>
<circle class="c104" cx="406.0" cy="341.5" r="2.236"/>
<circle class="c104" cx="406.4" cy="344.8" r="2.236"/>
<circle class="c105" cx="406.4" cy="348.2" r="2.236"/>
<circle class="c105" cx="406.2" cy="351.7" r="2.236"/>
<circle class="c106" cx="406.0" cy="355.4" r="2.236"/>
<circle class="c106" cx="406.1" cy="359.2" r="2.236"/>
<circle class="c106" cx="406.2" cy="363.1" r="2.236"/>
<circle class="c107" cx="406.5" cy="371.5" r="2.236"/>
<circle class="c108" cx="406.0" cy="375.9" r="2.236"/>
<circle class="c109" cx="406.4" cy="385.2" r="2.236"/>
<circle class="c110" cx="489.1" cy="280.4" r="2.236"/>
<circle class="c110" cx="489.1" cy="282.8" r="2.236"/>
<circle class="c98" cx="489.2" cy="285.2" r="2.236"/>
<circle class="c98" cx="489.0" cy="287.6" r="2.236"/>
<circle class="c98" cx="489.2" cy="290.1" r="2.236"/>
<circle class="c99" cx="489.2" cy="292.7" r="2.236"/>
<circle class="c99" cx="489.3" cy="295.2" r="2.236"/>
<circle class="c99" cx="489.2" cy="297.8" r="2.236"/>
<circle class="c99" cx="489.0" cy="300.5" r="2.236"/>
<circle class="c100" cx="489.1" cy="303.2" r="2.236"/>
<circle class="c100" cx="489.1" cy="306.0" r="2.236"/>
<circle class="c100" cx="488.9" cy="308.8" r="2.236"/>
<circle class="c101" cx="489.0" cy="311.7" r="2.236"/>
<circle class="c101" cx="488.9" cy="314.7" r="2.236"/>
<circle class="c101" cx="488.8" cy="317.7" r="2.236"/>
<circle class="c102" cx="489.1" cy="320.9" r="2.236"/>
<circle class="c102" cx="488.9" cy="324.1" r="2.236"/>
<circle class="c102" cx="489.1" cy="327.4" r="2.236"/>
<circle class="c103" cx="489.0" cy="330.8" r="2.236"/>
<circle class="c103" cx="489.2" cy="334.3" r="2.236"/>
<circle class="c104" cx="489.1" cy="338.0" r="2.236"/>
<circle class="c104" cx="489.1" cy="341.7" r="2.236"/>
<circle class="c105" cx="488.9" cy="349.7" r="2.236"/>
<circle class="c105" cx="489.0" cy="354.0" r="2.236"/>
<circle class="c106" cx="489.1" cy="358.4" r="2.236"/>
<circle class="c106" cx="489.0" cy="363.0" r="2.236"/>
<circle class="c107" cx="488.9" cy="367.8" r="2.236"/>
<circle class="c108" cx="489.1" cy="372.9" r="2.236"/>
<circle class="c108" cx="489.1" cy="376.7" r="2.236"/>
<circle class="c98" cx="412.1" cy="291.5" r="2.236"/>
<circle class="c99" cx="412.2" cy="293.9" r="2.236"/>
<circle class="c99" cx="412.3" cy="296.4" r="2.236"/>
<circle class="c99" cx="412.4" cy="298.9" r="2.236"/>
<circle class="c99" cx="412.3" cy="301.5" r="2.236"/>
<circle class="c100" cx="412.3" cy="304.1" r="2.236"/>
<circle class="c100" cx="412.2" cy="306.7" r="2.236"/>
<circle class="c100" cx="412.4" cy="309.5" r="2.236"/>
<circle class="c101" cx="411.9" cy="312.3" r="2.236"/>
<circle class="c101" cx="412.2" cy="315.1" r="2.236"/>
<circle class="c101" cx="412.1" cy="318.0" r="2.236"/>
<circle class="c102" cx="412.1" cy="321.0" r="2.236"/>
<circle class="c102" cx="412.3" cy="324.1" r="2.236"/>
<circle class="c102" cx="412.4" cy="327.2" r="2.236"/>
<circle class="c103" cx="412.1" cy="330.5" r="2.236"/>
<circle class="c103" cx="412.2" cy="333.8" r="2.236"/>
<circle class="c103" cx="412.5" cy="337.3" r="2.236"/>
<circle class="c104" cx="412.3" cy="340.9" r="2.236"/>
<circle class="c104" cx="412.5" cy="344.6" r="2.236"/>
<circle class="c105" cx="412.4" cy="348.4" r="2.236"/>
<circle class="c105" cx="412.4" cy="352.4" r="2.236"/>
<circle class="c106" cx="412.2" cy="356.6" r="2.236"/>
<circle class="c106" cx="412.3" cy="360.9" r="2.236"/>
<circle class="c107" cx="412.6" cy="365.4" r="2.236"/>
<circle class="c107" cx="412.1" cy="370.1" r="2.236"/>
<circle class="c108" cx="412.1" cy="375.1" r="2.236"/>
<circle class="c108" cx="412.4" cy="380.2" r="2.236"/>
<circle class="c109" cx="412.2" cy="385.7" r="2.236"/>
<circle class="c110" cx="483.5" cy="283.7" r="2.236"/>
<circle class="c98" cx="483.3" cy="286.1" r="2.236"/>
<circle class="c98" cx="483.8" cy="288.6" r="2.236"/>
<circle class="c98" cx="483.8" cy="291.1" r="2.236"/>
<circle class="c99" cx="483.9" cy="293.6" r="2.236"/>
<circle class="c99" cx="483.6" cy="296.1" r="2.236"/>
<circle class="c99" cx="483.7" cy="298.7" r="2.236"/>
<circle class="c99" cx="483.7" cy="301.4" r="2.236"/>
<circle class="c100" cx="483.3" cy="304.1" r="2.236"/>
<circle class="c100" cx="483.5" cy="306.9" r="2.236"/>
<circle class="c100" cx="483.6" cy="309.7" r="2.236"/>
<circle class="c101" cx="483.4" cy="312.6" r="2.236"/>
<circle class="c101" cx="483.5" cy="315.5" r="2.236"/>
<circle class="c101" cx="483.8" cy="318.5" r="2.236"/>
<circle class="c102" cx="483.7" cy="321.6" r="2.236"/>
<circle class="c102" cx="483.4" cy="324.8" r="2.236"/>
<circle class="c102" cx="483.5" cy="328.1" r="2.236"/>
<circle class="c103" cx="483.7" cy="331.5" r="2.236"/>
<circle class="c103" cx="483.4" cy="335.0" r="2.236"/>
<circle class="c104" cx="483.5" cy="338.6" r="2.236"/>
<circle class="c104" cx="483.6" cy="342.4" r="2.236"/>
<circle class="c104" cx="483.7" cy="346.2" r="2.236"/>
<circle class="c105" cx="483.5" cy="350.3" r="2.236"/>
<circle class="c106" cx="483.6" cy="358.8" r="2.236"/>
<circle class="c106" cx="483.5" cy="363.4" r="2.236"/>
<circle class="c107" cx="483.6" cy="368.2" r="2.236"/>
<circle class="c107" cx="483.8" cy="373.2" r="2.236"/>
<circle class="c108" cx="483.6" cy="378.0" r="2.236"/>
<circle class="c98" cx="418.0" cy="292.0" r="2.236"/>
<circle class="c99" cx="418.2" cy="294.2" r="2.236"/>
<circle class="c99" cx="418.4" cy="296.4" r="2.236"/>
<circle class="c99" cx="418.4" cy="298.6" r="2.236"/>
<circle class="c99" cx="418.2" cy="300.9" r="2.236"/>
<circle class="c100" cx="418.1" cy="303.2" r="2.236"/>
<circle class="c100" cx="418.2" cy="305.5" r="2.236"/>
<circle class="c100" cx="418.5" cy="307.9" r="2.236"/>
<circle class="c100" cx="418.5" cy="310.3" r="2.236"/>
<circle class="c101" cx="418.2" cy="312.8" r="2.236"/>
<circle class="c101" cx="418.4" cy="315.3" r="2.236"/>
<circle class="c101" cx="418.3" cy="317.9" r="2.236"/>
<circle class="c101" cx="418.4" cy="320.6" r="2.236"/>
<circle class="c102" cx="418.4" cy="323.3" r="2.236"/>
<circle class="c102" cx="418.3" cy="326.0" r="2.236"/>
<circle class="c102" cx="418.5" cy="328.9" r="2.236"/>
<circle class="c103" cx="418.6" cy="331.8" r="2.236"/>
<circle class="c103" cx="418.1" cy="334.8" r="2.236"/>
<circle class="c103" cx="418.4" cy="337.8" r="2.236"/>
<circle class="c104" cx="418.3" cy="341.0" r="2.236"/>
<circle class="c104" cx="418.3" cy="344.3" r="2.236"/>
<circle class="c104" cx="418.2" cy="347.6" r="2.236"/>
<circle class="c105" cx="418.6" cy="351.1" r="2.236"/>
<circle class="c105" cx="418.4" cy="354.7" r="2.236"/>
<circle class="c106" cx="418.4" cy="358.5" r="2.236"/>
<circle class="c106" cx="418.6" cy="362.3" r="2.236"/>
<circle class="c107" cx="418.4" cy="366.4" r="2.236"/>
<circle class="c107" cx="418.2" cy="370.5" r="2.236"/>
<circle class="c108" cx="418.3" cy="374.9" r="2.236"/>
<circle class="c108" cx="418.4" cy="379.5" r="2.236"/>
<circle class="c109" cx="418.2" cy="387.6" r="2.236"/>
<circle class="c98" cx="478.0" cy="286.4" r="2.236"/>
<circle class="c98" cx="478.3" cy="288.8" r="2.236"/>
<circle class="c98" cx="478.2" cy="291.3" r="2.236"/>
<circle class="c98" cx="478.1" cy="293.8" r="2.236"/>
<circle class="c99" cx="477.9" cy="296.3" r="2.236"/>
<circle class="c99" cx="477.9" cy="298.9" r="2.236"/>
<circle class="c99" cx="478.0" cy="301.6" r="2.236"/>
<circle class="c100" cx="477.9" cy="304.2" r="2.236"/>
<circle class="c100" cx="478.0" cy="307.0" r="2.236"/>
<circle class="c100" cx="477.7" cy="309.8" r="2.236"/>
<circle class="c101" cx="477.9" cy="312.6" r="2.236"/>
<circle class="c101" cx="477.9" cy="315.6" r="2.236"/>
<circle class="c101" cx="478.0" cy="318.6" r="2.236"/>
<circle class="c102" cx="478.0" cy="321.6" r="2.236"/>
<circle class="c102" cx="477.9" cy="324.8" r="2.236"/>
<circle class="c102" cx="478.1" cy="328.1" r="2.236"/>
<circle class="c103" cx="478.1" cy="331.4" r="2.236"/>
<circle class="c103" cx="478.0" cy="334.9" r="2.236"/>
<circle class="c103" cx="478.1" cy="338.4" r="2.236"/>
<circle class="c104" cx="478.1" cy="342.1" r="2.236"/>
<circle class="c104" cx="478.0" cy="345.9" r="2.236"/>
<circle class="c105" cx="478.0" cy="349.9" r="2.236"/>
<circle class="c105" cx="478.2" cy="354.0" r="2.236"/>
<circle class="c106" cx="477.8" cy="358.3" r="2.236"/>
<circle class="c107" cx="478.3" cy="367.5" r="2.236"/>
<circle class="c107" cx="478.0" cy="372.4" r="2.236"/>
<circle class="c108" cx="478.1" cy="377.5" r="2.236"/>
<circle class="c108" cx="477.9" cy="381.8" r="2.236"/>
<circle class="c98" cx="424.6" cy="290.4" r="2.236"/>
<circle class="c98" cx="424.5" cy="292.9" r="2.236"/>
<circle class="c99" cx="424.3" cy="295.5" r="2.236"/>
<circle class="c99" cx="424.4" cy="298.0" r="2.236"/>
<circle class="c99" cx="424.4" cy="300.6" r="2.236"/>
<circle class="c99" cx="424.3" cy="303.3" r="2.236"/>
<circle class="c100" cx="424.2" cy="306.0" r="2.236"/>
<circle class="c100" cx="424.3" cy="308.8" r="2.236"/>
<circle class="c100" cx="424.3" cy="311.6" r="2.236"/>
<circle class="c101" cx="424.6" cy="314.5" r="2.236"/>
<circle class="c101" cx="424.4" cy="317.4" r="2.236"/>
<circle class="c101" cx="424.7" cy="320.5" r="2.236"/>
<circle class="c102" cx="424.3" cy="323.6" r="2.236"/>
<circle class="c102" cx="424.4" cy="326.8" r="2.236"/>
<circle class="c102" cx="424.4" cy="330.1" r="2.236"/>
<circle class="c103" cx="424.2" cy="333.5" r="2.236"/>
<circle class="c103" cx="424.2" cy="337.0" r="2.236"/>
<circle class="c104" cx="424.3" cy="340.6" r="2.236"/>
<circle class="c104" cx="424.5" cy="344.3" r="2.236"/>
<circle class="c104" cx="424.2" cy="348.2" r="2.236"/>
<circle class="c105" cx="424.2" cy="352.2" r="2.236"/>
<circle class="c105" cx="424.3" cy="356.4" r="2.236"/>
<circle class="c106" cx="424.3" cy="360.8" r="2.236"/>
<circle class="c106" cx="424.2" cy="365.3" r="2.236"/>
<circle class="c107" cx="424.6" cy="370.1" r="2.236"/>
<circle class="c107" cx="424.3" cy="375.1" r="2.236"/>
<circle class="c108" cx="424.4" cy="380.3" r="2.236"/>
<circle class="c109" cx="424.3" cy="385.8" r="2.236"/>
<circle class="c98" cx="472.2" cy="286.8" r="2.236"/>
<circle class="c98" cx="472.2" cy="289.0" r="2.236"/>
<circle class="c98" cx="472.4" cy="291.1" r="2.236"/>
<circle class="c98" cx="472.4" cy="293.3" r="2.236"/>
<circle class="c99" cx="472.0" cy="295.5" r="2.236"/>
<circle class="c99" cx="472.2" cy="297.7" r="2.236"/>
<circle class="c99" cx="472.1" cy="300.0" r="2.236"/>
<circle class="c99" cx="472.2" cy="302.2" r="2.236"/>
<circle class="c100" cx="472.2" cy="304.6" r="2.236"/>
<circle class="c100" cx="472.2" cy="307.0" r="2.236"/>
<circle class="c100" cx="472.4" cy="309.4" r="2.236"/>
<circle class="c100" cx="472.2" cy="311.8" r="2.236"/>
<circle class="c101" cx="472.3" cy="314.3" r="2.236"/>
<circle class="c101" cx="472.2" cy="316.9" r="2.236"/>
<circle class="c101" cx="472.4" cy="319.5" r="2.236"/>
<circle class="c102" cx="472.4" cy="322.2" r="2.236"/>
<circle class="c102" cx="472.2" cy="324.9" r="2.236"/>
<circle class="c102" cx="472.3" cy="327.7" r="2.236"/>
<circle class="c102" cx="472.3" cy="330.6" r="2.236"/>
<circle class="c103" cx="472.5" cy="333.5" r="2.236"/>
<circle class="c103" cx="472.2" cy="336.5" r="2.236"/>
<circle class="c103" cx="472.3" cy="339.7" r="2.236"/>
<circle class="c104" cx="472.3" cy="342.9" r="2.236"/>
<circle class="c104" cx="472.2" cy="346.2" r="2.236"/>
<circle class="c105" cx="472.6" cy="349.6" r="2.236"/>
<circle class="c105" cx="472.3" cy="353.1" r="2.236"/>
<circle class="c105" cx="472.4" cy="356.8" r="2.236"/>
<circle class="c106" cx="472.4" cy="360.6" r="2.236"/>
<circle class="c106" cx="472.3" cy="364.5" r="2.236"/>
<circle class="c107" cx="472.3" cy="368.6" r="2.236"/>
<circle class="c107" cx="472.2" cy="372.8" r="2.236"/>
<circle class="c108" cx="472.2" cy="377.2" r="2.236"/>
<circle class="c108" cx="472.3" cy="381.8" r="2.236"/>
<circle class="c98" cx="430.5" cy="290.2" r="2.236"/>
<circle class="c98" cx="430.2" cy="292.4" r="2.236"/>
<circle class="c98" cx="430.4" cy="294.6" r="2.236"/>
<circle class="c99" cx="430.5" cy="296.8" r="2.236"/>
<circle class="c99" cx="430.2" cy="299.1" r="2.236"/>
<circle class="c99" cx="430.6" cy="301.4" r="2.236"/>
<circle class="c99" cx="430.3" cy="303.7" r="2.236"/>
<circle class="c100" cx="430.3" cy="306.1" r="2.236"/>
<circle class="c100" cx="430.2" cy="308.5" r="2.236"/>
<circle class="c100" cx="430.2" cy="310.9" r="2.236"/>
<circle class="c100" cx="430.5" cy="313.4" r="2.236"/>
<circle class="c101" cx="430.4" cy="316.0" r="2.236"/>
<circle class="c101" cx="430.5" cy="318.6" r="2.236"/>
<circle class="c101" cx="430.4" cy="321.2" r="2.236"/>
<circle class="c102" cx="430.7" cy="324.0" r="2.236"/>
<circle class="c102" cx="430.2" cy="326.7" r="2.236"/>
<circle class="c102" cx="430.5" cy="329.6" r="2.236"/>
<circle class="c103" cx="430.7" cy="332.5" r="2.236"/>
<circle class="c103" cx="430.3" cy="335.5" r="2.236"/>
<circle class="c103" cx="430.2" cy="338.6" r="2.236"/>
<circle class="c104" cx="430.4" cy="341.8" r="2.236"/>
<circle class="c104" cx="430.4" cy="345.1" r="2.236"/>
<circle class="c104" cx="430.3" cy="348.5" r="2.236"/>
<circle class="c105" cx="430.2" cy="352.0" r="2.236"/>
<circle class="c105" cx="430.4" cy="355.6" r="2.236"/>
<circle class="c106" cx="430.4" cy="359.3" r="2.236"/>
<circle class="c106" cx="430.5" cy="363.2" r="2.236"/>
<circle class="c106" cx="430.3" cy="367.2" r="2.236"/>
<circle class="c108" cx="430.2" cy="380.4" r="2.236"/>
<circle class="c109" cx="430.5" cy="387.3" r="2.236"/>
<circle class="c98" cx="466.3" cy="288.7" r="2.236"/>
<circle class="c98" cx="466.4" cy="290.8" r="2.236"/>
<circle class="c98" cx="466.4" cy="293.1" r="2.236"/>
<circle class="c98" cx="466.4" cy="295.3" r="2.236"/>
<circle class="c99" cx="466.6" cy="297.6" r="2.236"/>
<circle class="c99" cx="466.4" cy="299.9" r="2.236"/>
<circle class="c99" cx="466.7" cy="302.3" r="2.236"/>
<circle class="c100" cx="466.4" cy="304.7" r="2.236"/>
<circle class="c100" cx="466.6" cy="307.1" r="2.236"/>
<circle class="c100" cx="466.4" cy="309.6" r="2.236"/>
<circle class="c100" cx="466.5" cy="312.1" r="2.236"/>
<circle class="c101" cx="466.4" cy="314.7" r="2.236"/>
<circle class="c101" cx="466.3" cy="317.3" r="2.236"/>
<circle class="c101" cx="466.5" cy="320.0" r="2.236"/>
<circle class="c102" cx="466.3" cy="322.7" r="2.236"/>
<circle class="c102" cx="466.4" cy="325.5" r="2.236"/>
<circle class="c102" cx="466.6" cy="328.4" r="2.236"/>
<circle class="c102" cx="466.9" cy="331.4" r="2.236"/>
<circle class="c103" cx="466.4" cy="334.4" r="2.236"/>
<circle class="c103" cx="466.0" cy="337.5" r="2.236"/>
<circle class="c104" cx="466.4" cy="340.8" r="2.236"/>
<circle class="c104" cx="466.5" cy="344.1" r="2.236"/>
<circle class="c104" cx="466.5" cy="347.5" r="2.236"/>
<circle class="c105" cx="466.7" cy="351.0" r="2.236"/>
<circle class="c105" cx="466.4" cy="354.7" r="2.236"/>
<circle class="c105" cx="466.7" cy="358.5" r="2.236"/>
<circle class="c106" cx="466.6" cy="362.4" r="2.236"/>
<circle class="c106" cx="466.5" cy="366.5" r="2.236"/>
<circle class="c107" cx="466.5" cy="370.7" r="2.236"/>
<circle class="c107" cx="466.5" cy="375.1" r="2.236"/>
<circle class="c108" cx="466.6" cy="379.8" r="2.236"/>
<circle class="c108" cx="466.5" cy="383.7" r="2.236"/>
<circle class="c98" cx="436.5" cy="289.7" r="2.236"/>
<circle class="c98" cx="436.1" cy="291.8" r="2.236"/>
<circle class="c98" cx="436.5" cy="293.9" r="2.236"/>
<circle class="c98" cx="436.4" cy="296.0" r="2.236"/>
<circle class="c99" cx="436.2" cy="298.2" r="2.236"/>
<circle class="c99" cx="436.3" cy="300.4" r="2.236"/>
<circle class="c99" cx="436.1" cy="302.6" r="2.236"/>
<circle class="c99" cx="436.5" cy="304.9" r="2.236"/>
<circle class="c100" cx="436.1" cy="307.2" r="2.236"/>
<circle class="c100" cx="436.2" cy="309.5" r="2.236"/>
<circle class="c100" cx="436.4" cy="311.9" r="2.236"/>
<circle class="c101" cx="436.3" cy="314.4" r="2.236"/>
<circle class="c101" cx="436.3" cy="316.8" r="2.236"/>
<circle class="c101" cx="436.3" cy="319.4" r="2.236"/>
<circle class="c101" cx="436.2" cy="321.9" r="2.236"/>
<circle class="c102" cx="436.2" cy="324.6" r="2.236"/>
<circle class="c102" cx="436.6" cy="327.3" r="2.236"/>
<circle class="c102" cx="436.4" cy="330.0" r="2.236"/>
<circle class="c103" cx="436.4" cy="332.8" r="2.236"/>
<circle class="c103" cx="436.3" cy="335.7" r="2.236"/>
<circle class="c103" cx="436.2" cy="338.7" r="2.236"/>
<circle class="c104" cx="436.1" cy="341.8" r="2.236"/>
<circle class="c104" cx="436.4" cy="344.9" r="2.236"/>
<circle class="c104" cx="436.2" cy="348.2" r="2.236"/>
<circle class="c105" cx="436.3" cy="351.5" r="2.236"/>
<circle class="c105" cx="436.2" cy="355.0" r="2.236"/>
<circle class="c105" cx="436.1" cy="358.6" r="2.236"/>
<circle class="c106" cx="436.3" cy="362.3" r="2.236"/>
<circle class="c107" cx="436.6" cy="374.2" r="2.236"/>
<circle class="c108" cx="436.5" cy="378.5" r="2.236"/>
<circle class="c108" cx="436.3" cy="383.0" r="2.236"/>
<circle class="c109" cx="436.5" cy="387.7" r="2.236"/>
<circle class="c98" cx="460.4" cy="288.5" r="2.236"/>
<circle class="c98" cx="460.4" cy="290.8" r="2.236"/>
<circle class="c98" cx="460.8" cy="293.1" r="2.236"/>
<circle class="c98" cx="460.7" cy="295.4" r="2.236"/>
<circle class="c99" cx="460.5" cy="297.8" r="2.236"/>
<circle class="c99" cx="460.4" cy="300.2" r="2.236"/>
<circle class="c99" cx="460.5" cy="302.6" r="2.236"/>
<circle class="c99" cx="460.4" cy="305.1" r="2.236"/>
<circle class="c100" cx="460.5" cy="307.6" r="2.236"/>
<circle class="c100" cx="460.5" cy="310.2" r="2.236"/>
<circle class="c100" cx="460.5" cy="312.8" r="2.236"/>
<circle class="c101" cx="460.4" cy="315.4" r="2.236"/>
<circle class="c101" cx="460.6" cy="318.2" r="2.236"/>
<circle class="c101" cx="460.7" cy="320.9" r="2.236"/>
<circle class="c102" cx="460.5" cy="323.8" r="2.236"/>
<circle class="c102" cx="460.5" cy="326.7" r="2.236"/>
<circle class="c102" cx="460.4" cy="329.7" r="2.236"/>
<circle class="c103" cx="460.5" cy="332.8" r="2.236"/>
<circle class="c103" cx="460.7" cy="335.9" r="2.236"/>
<circle class="c103" cx="460.4" cy="339.2" r="2.236"/>
<circle class="c104" cx="460.4" cy="342.6" r="2.236"/>
<circle class="c104" cx="460.5" cy="346.0" r="2.236"/>
<circle class="c104" cx="460.5" cy="349.6" r="2.236"/>
<circle class="c105" cx="460.5" cy="357.1" r="2.236"/>
<circle class="c106" cx="460.4" cy="361.1" r="2.236"/>
<circle class="c106" cx="460.4" cy="365.3" r="2.236"/>
<circle class="c107" cx="460.2" cy="374.1" r="2.236"/>
<circle class="c108" cx="460.7" cy="378.8" r="2.236"/>
<circle class="c108" cx="460.5" cy="383.7" r="2.236"/>
<circle class="c98" cx="454.4" cy="289.1" r="2.236"/>
<circle class="c98" cx="454.3" cy="291.3" r="2.236"/>
<circle class="c98" cx="454.6" cy="293.6" r="2.236"/>
<circle class="c98" cx="454.4" cy="296.0" r="2.236"/>
<circle class="c99" cx="454.5" cy="298.3" r="2.236"/>
<circle class="c99" cx="454.5" cy="300.7" r="2.236"/>
<circle class="c99" cx="454.4" cy="303.1" r="2.236"/>
<circle class="c99" cx="454.2" cy="305.6" r="2.236"/>
<circle class="c100" cx="454.6" cy="308.1" r="2.236"/>
<circle class="c100" cx="454.5" cy="310.7" r="2.236"/>
<circle class="c100" cx="454.5" cy="313.3" r="2.236"/>
<circle class="c101" cx="454.6" cy="316.0" r="2.236"/>
<circle class="c101" cx="454.7" cy="318.7" r="2.236"/>
<circle class="c101" cx="454.6" cy="321.5" r="2.236"/>
<circle class="c102" cx="454.3" cy="324.3" r="2.236"/>
<circle class="c102" cx="454.4" cy="327.2" r="2.236"/>
<circle class="c102" cx="454.7" cy="330.2" r="2.236"/>
<circle class="c103" cx="454.6" cy="333.3" r="2.236"/>
<circle class="c103" cx="454.5" cy="336.4" r="2.236"/>
<circle class="c103" cx="454.5" cy="339.7" r="2.236"/>
<circle class="c104" cx="454.4" cy="343.0" r="2.236"/>
<circle class="c104" cx="454.8" cy="346.5" r="2.236"/>
<circle class="c104" cx="454.4" cy="350.0" r="2.236"/>
<circle class="c105" cx="454.7" cy="353.7" r="2.236"/>
<circle class="c105" cx="454.6" cy="357.5" r="2.236"/>
<circle class="c106" cx="454.4" cy="361.5" r="2.236"/>
<circle class="c106" cx="454.4" cy="365.6" r="2.236"/>
<circle class="c107" cx="454.7" cy="369.9" r="2.236"/>
<circle class="c107" cx="454.6" cy="374.4" r="2.236"/>
<circle class="c108" cx="454.7" cy="379.0" r="2.236"/>
<circle class="c108" cx="454.7" cy="383.9" r="2.236"/>
<circle class="c98" cx="442.4" cy="290.6" r="2.236"/>
<circle class="c98" cx="442.3" cy="292.9" r="2.236"/>
<circle class="c98" cx="442.2" cy="295.3" r="2.236"/>
<circle class="c99" cx="442.5" cy="297.6" r="2.236"/>
<circle class="c99" cx="442.2" cy="300.1" r="2.236"/>
<circle class="c99" cx="442.3" cy="302.5" r="2.236"/>
<circle class="c99" cx="442.6" cy="305.0" r="2.236"/>
<circle class="c100" cx="442.3" cy="307.5" r="2.236"/>
<circle class="c100" cx="442.6" cy="310.1" r="2.236"/>
<circle class="c100" cx="442.5" cy="312.7" r="2.236"/>
<circle class="c101" cx="442.3" cy="315.4" r="2.236"/>
<circle class="c101" cx="442.3" cy="318.2" r="2.236"/>
<circle class="c101" cx="442.2" cy="321.0" r="2.236"/>
<circle class="c102" cx="442.5" cy="323.8" r="2.236"/>
<circle class="c102" cx="442.5" cy="326.8" r="2.236"/>
<circle class="c102" cx="442.3" cy="329.8" r="2.236"/>
<circle class="c103" cx="442.3" cy="332.9" r="2.236"/>
<circle class="c103" cx="442.4" cy="336.1" r="2.236"/>
<circle class="c103" cx="442.5" cy="339.4" r="2.236"/>
<circle class="c104" cx="442.2" cy="342.8" r="2.236"/>
<circle class="c104" cx="442.4" cy="346.2" r="2.236"/>
<circle class="c104" cx="442.4" cy="349.9" r="2.236"/>
<circle class="c105" cx="442.3" cy="353.6" r="2.236"/>
<circle class="c105" cx="442.4" cy="357.4" r="2.236"/>
<circle class="c106" cx="442.3" cy="361.5" r="2.236"/>
<circle class="c106" cx="442.5" cy="365.6" r="2.236"/>
<circle class="c108" cx="442.3" cy="379.2" r="2.236"/>
<circle class="c108" cx="442.4" cy="384.2" r="2.236"/>
<circle class="c108" cx="442.5" cy="386.3" r="2.236"/>
<circle class="c98" cx="448.6" cy="290.9" r="2.236"/>
<circle class="c98" cx="448.3" cy="293.5" r="2.236"/>
<circle class="c98" cx="448.4" cy="296.0" r="2.236"/>
<circle class="c99" cx="448.6" cy="298.7" r="2.236"/>
<circle class="c99" cx="448.5" cy="301.3" r="2.236"/>
<circle class="c99" cx="448.5" cy="304.0" r="2.236"/>
<circle class="c100" cx="448.6" cy="306.8" r="2.236"/>
<circle class="c100" cx="448.5" cy="309.6" r="2.236"/>
<circle class="c100" cx="448.7" cy="312.5" r="2.236"/>
<circle class="c101" cx="448.6" cy="315.4" r="2.236"/>
<circle class="c101" cx="448.4" cy="318.4" r="2.236"/>
<circle class="c101" cx="448.2" cy="321.5" r="2.236"/>
<circle class="c102" cx="448.3" cy="324.6" r="2.236"/>
<circle class="c102" cx="448.2" cy="327.9" r="2.236"/>
<circle class="c102" cx="448.5" cy="331.2" r="2.236"/>
<circle class="c103" cx="448.3" cy="334.7" r="2.236"/>
<circle class="c103" cx="448.3" cy="338.2" r="2.236"/>
<circle class="c103" cx="448.4" cy="341.9" r="2.236"/>
<circle class="c104" cx="448.2" cy="345.7" r="2.236"/>
<circle class="c104" cx="448.3" cy="349.6" r="2.236"/>
<circle class="c105" cx="448.7" cy="353.6" r="2.236"/>
<circle class="c105" cx="448.4" cy="357.9" r="2.236"/>
<circle class="c106" cx="448.2" cy="362.3" r="2.236"/>
<circle class="c106" cx="448.5" cy="366.9" r="2.236"/>
<circle class="c107" cx="448.3" cy="376.7" r="2.236"/>
<circle class="c108" cx="448.6" cy="386.4" r="2.236"/>
</g>
</g>
<g id="text_27">
<text style="font-size: 12px; font-family: 'Liberation Sans', sans-serif; text-anchor: middle" x="442.8" y="71.76" transform="rotate(-0 442.8 71.76)" textLength="200.11" lengthAdjust="spacingAndGlyphs">LiDAR Point 3D Coordinate Graph</text>
</g>
<g id="legend_1">
<g id="patch_6">
<path d="M 568.376875 100.438125
L 625.88 100.438125
Q 627.88 100.438125 627.88 98.438125
L 627.88 84.76
Q 627.88 82.76 625.88 82.76
L 568.376875 82.76
Q 566.376875 82.76 566.376875 84.76
L 566.376875 98.438125
Q 566.376875 100.438125 568.376875 100.438125
z
" style="fill: #ffffff; opacity: 0.8; stroke: #cccccc; stroke-linejoin: miter"/>
</g>
<g id="Path3DCollection_1">
<g>
<use href="#ma6bd53de34" x="580.376875" y="91.733438" style="fill: #450e63; fill-opacity: 0.9; stroke: #450e63; stroke-opacity: 0.9"/>
</g>
</g>
<g id="text_28">
<text style="font-size: 10px; font-family: 'Liberation Sans', sans-serif; text-anchor: start" x="598.376875" y="94.358438" transform="rotate(-0 598.376875 94.358438)" textLength="25.50" lengthAdjust="spacingAndGlyphs">point</text>
</g>
</g>
</g>
<g id="axes_2">
<g id="patch_7">
<path d="M 205.869087 576.72
L 301.261348 576.72
L 301.261348 481.68
L 205.869087 481.68
z
" style="fill: #ffffff"/>
</g>
<g id="SCATTER2D">
<defs>
<path id="m0f09bfcae3" d="M 0 3
C 0.795609 3 1.55874 2.683901 2.12132 2.12132
C 2.683901 1.55874 3 0.795609 3 0
C 3 -0.795609 2.683901 -1.55874 2.12132 -2.12132
C 1.55874 -2.683901 0.795609 -3 0 -3
C -0.795609 -3 -1.55874 -2.683901 -2.12132 -2.12132
C -2.683901 -1.55874 -3 -0.795609 -3 0
C -3 0.795609 -2.683901 1.55874 -2.12132 2.12132
C -1.55874 2.683901 -0.795609 3 0 3
z
" style="stroke: #90ee90"/>
</defs>
<g clip-path="url(#p5cf67868f8)">
<path d="M205.2 481.0 278.5 481.0 278.5 482.3 280.8 484.3 283.4 486.3 285.4 488.9 287.7 490.3 289.4 492.6 291.2 494.9 293.5 496.7 294.9 499.0 296.4 501.3 297.5 503.6 298.9 506.4 299.8 509.3 301.0 512.2 302.4 512.2 302.4 534.1 300.4 534.1 300.0 538.6 299.5 542.7 297.4 547.9 295.3 552.9 293.0 556.2 291.0 559.7 288.0 563.0 285.0 566.5 281.5 569.5 278.3 572.5 274.0 575.9 272.2 577.4 220.0 577.4 219.5 575.9 216.7 572.4 214.3 569.0 210.1 566.5 206.3 563.9 205.2 563.9Z" style="fill:#90ee90"/>
<path d="M205.2 501.8 209.3 504.3 211.7 501.5 214.8 498.7 217.4 495.7 219.7 493.5 221.8 494.6 224.9 496.7 225.4 500.4 226.4 504.3 223.2 505.1 220.9 506.3 218.9 508.3 218.5 512.6 220.0 514.4 218.2 515.5 217.1 519.8 218.4 524.3 219.6 526.3 218.5 529.2 220.9 529.9 223.6 532.1 220.9 533.9 219.2 536.4 219.6 540.0 217.7 544.3 214.6 541.4 211.0 537.1 205.2 533.9Z" style="fill:#fff"/>
<circle cx="208.1" cy="511.5" r="3"/>
<circle cx="208.1" cy="519.9" r="3"/>
<circle cx="214.1" cy="507.1" r="3"/>
<circle cx="214.8" cy="513.9" r="3"/>
<circle cx="216.1" cy="520.3" r="3"/>
<circle cx="215.3" cy="529.5" r="3"/>
<circle cx="217.7" cy="535.5" r="3"/>
<circle cx="220.3" cy="538.6" r="3"/>
<circle cx="210.5" cy="485.5" r="3"/>
<circle cx="217.1" cy="524.9" r="3"/>
</g>
</g>
<g id="PathCollection_1"/>
<g id="matplotlib.axis_1">
<g id="xtick_24">
<g id="line2d_27">
<defs>
<path id="m1504cfccaf" d="M 0 0
L 0 3.5
" style="stroke: #000000; stroke-width: 0.8"/>
</defs>
<g>
<use href="#m1504cfccaf" x="218.339124" y="576.72" style="stroke: #000000; stroke-width: 0.8"/>
</g>
</g>
<g id="text_29">
<text style="font-size: 10px; font-family: 'Liberation Sans', sans-serif; text-anchor: middle" x="218.339124" y="591.318438" transform="rotate(-0 218.339124 591.318438)" textLength="27.47" lengthAdjust="spacingAndGlyphs">−500</text>
</g>
</g>
<g id="xtick_25">
<g id="line2d_28">
<g>
<use href="#m1504cfccaf" x="253.565217" y="576.72" style="stroke: #000000; stroke-width: 0.8"/>
</g>
</g>
<g id="text_30">
<text style="font-size: 10px; font-family: 'Liberation Sans', sans-serif; text-anchor: middle" x="253.565217" y="591.318438" transform="rotate(-0 253.565217 591.318438)" textLength="6.36" lengthAdjust="spacingAndGlyphs">0</text>
</g>
</g>
<g id="xtick_26">
<g id="line2d_29">
<g>
<use href="#m1504cfccaf" x="288.791311" y="576.72" style="stroke: #000000; stroke-width: 0.8"/>
</g>
</g>
<g id="text_31">
<text style="font-size: 10px; font-family: 'Liberation Sans', sans-serif; text-anchor: middle" x="288.791311" y="591.318438" transform="rotate(-0 288.791311 591.318438)" textLength="19.09" lengthAdjust="spacingAndGlyphs">500</text>
</g>
</g>
<g id="text_32">
<text style="font-size: 10px; font-family: 'Liberation Sans', sans-serif; text-anchor: middle" x="253.565217" y="604.996562" transform="rotate(-0 253.565217 604.996562)" textLength="33.07" lengthAdjust="spacingAndGlyphs">X (cm)</text>
</g>
</g>
<g id="matplotlib.axis_2">
<g id="ytick_1">
<g id="line2d_30">
<defs>
<path id="m5d545ce8f8" d="M 0 0
L -3.5 0
" style="stroke: #000000; stroke-width: 0.8"/>
</defs>
<g>
<use href="#m5d545ce8f8" x="205.869087" y="564.602224" style="stroke: #000000; stroke-width: 0.8"/>
</g>
</g>
<g id="text_33">
<text style="font-size: 10px; font-family: 'Liberation Sans', sans-serif; text-anchor: end" x="198.869087" y="568.401443" transform="rotate(-0 198.869087 568.401443)" textLength="27.47" lengthAdjust="spacingAndGlyphs">−500</text>
</g>
</g>
<g id="ytick_2">
<g id="line2d_31">
<g>
<use href="#m5d545ce8f8" x="205.869087" y="529.37613" style="stroke: #000000; stroke-width: 0.8"/>
</g>
</g>
<g id="text_34">
<text style="font-size: 10px; font-family: 'Liberation Sans', sans-serif; text-anchor: end" x="198.869087" y="533.175349" transform="rotate(-0 198.869087 533.175349)" textLength="6.36" lengthAdjust="spacingAndGlyphs">0</text>
</g>
</g>
<g id="ytick_3">
<g id="line2d_32">
<g>
<use href="#m5d545ce8f8" x="205.869087" y="494.150037" style="stroke: #000000; stroke-width: 0.8"/>
</g>
</g>
<g id="text_35">
<text style="font-size: 10px; font-family: 'Liberation Sans', sans-serif; text-anchor: end" x="198.869087" y="497.949256" transform="rotate(-0 198.869087 497.949256)" textLength="19.09" lengthAdjust="spacingAndGlyphs">500</text>
</g>
</g>
<g id="text_36">
<text style="font-size: 10px; font-family: 'Liberation Sans', sans-serif; text-anchor: middle" x="165.322212" y="529.2" transform="rotate(-90 165.322212 529.2)" textLength="32.33" lengthAdjust="spacingAndGlyphs">Y (cm)</text>
</g>
</g>
<g id="patch_8">
<path d="M 205.869087 576.72
L 205.869087 481.68
" style="fill: none; stroke: #000000; stroke-width: 0.8; stroke-linejoin: miter; stroke-linecap: square"/>
</g>
<g id="patch_9">
<path d="M 301.261348 576.72
L 301.261348 481.68
" style="fill: none; stroke: #000000; stroke-width: 0.8; stroke-linejoin: miter; stroke-linecap: square"/>
</g>
<g id="patch_10">
<path d="M 205.869087 576.72
L 301.261348 576.72
" style="fill: none; stroke: #000000; stroke-width: 0.8; stroke-linejoin: miter; stroke-linecap: square"/>
</g>
<g id="patch_11">
<path d="M 205.869087 481.68
L 301.261348 481.68
" style="fill: none; stroke: #000000; stroke-width: 0.8; stroke-linejoin: miter; stroke-linecap: square"/>
</g>
<g id="text_37">
<text style="font-size: 12px; font-family: 'Liberation Sans', sans-serif; text-anchor: middle" x="253.565217" y="475.68" transform="rotate(-0 253.565217 475.68)" textLength="200.11" lengthAdjust="spacingAndGlyphs">LiDAR Point 2D Coordinate Graph</text>
</g>
<g id="legend_2">
<g id="patch_12">
<path d="M 313.030961 519.03625
L 370.534086 519.03625
Q 372.534086 519.03625 372.534086 517.03625
L 372.534086 488.68
Q 372.534086 486.68 370.534086 486.68
L 313.030961 486.68
Q 311.030961 486.68 311.030961 488.68
L 311.030961 517.03625
Q 311.030961 519.03625 313.030961 519.03625
z
" style="fill: #ffffff; opacity: 0.8; stroke: #cccccc; stroke-linejoin: miter"/>
</g>
<g id="PathCollection_2">
<g>
<use href="#m0f09bfcae3" x="325.030961" y="495.653437" style="fill: #90ee90; stroke: #90ee90"/>
</g>
</g>
<g id="text_38">
<text style="font-size: 10px; font-family: 'Liberation Sans', sans-serif; text-anchor: start" x="343.030961" y="498.278437" transform="rotate(-0 343.030961 498.278437)" textLength="25.50" lengthAdjust="spacingAndGlyphs">point</text>
</g>
<g id="PathCollection_3">
<defs>
<path id="m07ba7ed919" d="M 0 3
C 0.795609 3 1.55874 2.683901 2.12132 2.12132
C 2.683901 1.55874 3 0.795609 3 0
C 3 -0.795609 2.683901 -1.55874 2.12132 -2.12132
C 1.55874 -2.683901 0.795609 -3 0 -3
C -0.795609 -3 -1.55874 -2.683901 -2.12132 -2.12132
C -2.683901 -1.55874 -3 -0.795609 -3 0
C -3 0.795609 -2.683901 1.55874 -2.12132 2.12132
C -1.55874 2.683901 -0.795609 3 0 3
z
" style="stroke: #0000ff"/>
</defs>
<g>
<use href="#m07ba7ed919" x="325.030961" y="510.331563" style="fill: #0000ff; stroke: #0000ff"/>
</g>
</g>
<g id="text_39">
<text style="font-size: 10px; font-family: 'Liberation Sans', sans-serif; text-anchor: start" x="343.030961" y="512.956563" transform="rotate(-0 343.030961 512.956563)" textLength="19.86" lengthAdjust="spacingAndGlyphs">wall</text>
</g>
</g>
</g>
<g id="axes_3">
<g id="patch_13">
<path d="M 486.469565 576.72
L 777.6 576.72
L 777.6 481.68
L 486.469565 481.68
z
" style="fill: #ffffff"/>
</g>
<g id="patch_14">
<path d="M 486.469565 576.72
L 486.469565 539.210074
L 634.582174 539.210074
L 634.582174 486.199652
L 782.694783 486.199652
L 782.694783 576.72
z
" clip-path="url(#p1ca3901ace)" style="fill: #0000ff"/>
</g>
<g id="matplotlib.axis_3">
<g id="xtick_27">
<g id="line2d_33">
<g>
<use href="#m1504cfccaf" x="486.469565" y="576.72" style="stroke: #000000; stroke-width: 0.8"/>
</g>
</g>
<g id="text_40">
<text style="font-size: 10px; font-family: 'Liberation Sans', sans-serif; text-anchor: middle" x="486.469565" y="591.318438" transform="rotate(-0 486.469565 591.318438)" textLength="6.36" lengthAdjust="spacingAndGlyphs">0</text>
</g>
</g>
<g id="xtick_28">
<g id="line2d_34">
<g>
<use href="#m1504cfccaf" x="522.86087" y="576.72" style="stroke: #000000; stroke-width: 0.8"/>
</g>
</g>
<g id="text_41">
<text style="font-size: 10px; font-family: 'Liberation Sans', sans-serif; text-anchor: middle" x="522.86087" y="591.318438" transform="rotate(-0 522.86087 591.318438)" textLength="19.09" lengthAdjust="spacingAndGlyphs">100</text>
</g>
</g>
<g id="xtick_29">
<g id="line2d_35">
<g>
<use href="#m1504cfccaf" x="559.252174" y="576.72" style="stroke: #000000; stroke-width: 0.8"/>
</g>
</g>
<g id="text_42">
<text style="font-size: 10px; font-family: 'Liberation Sans', sans-serif; text-anchor: middle" x="559.252174" y="591.318438" transform="rotate(-0 559.252174 591.318438)" textLength="19.09" lengthAdjust="spacingAndGlyphs">200</text>
</g>
</g>
<g id="xtick_30">
<g id="line2d_36">
<g>
<use href="#m1504cfccaf" x="595.643478" y="576.72" style="stroke: #000000; stroke-width: 0.8"/>
</g>
</g>
<g id="text_43">
<text style="font-size: 10px; font-family: 'Liberation Sans', sans-serif; text-anchor: middle" x="595.643478" y="591.318438" transform="rotate(-0 595.643478 591.318438)" textLength="19.09" lengthAdjust="spacingAndGlyphs">300</text>
</g>
</g>
<g id="xtick_31">
<g id="line2d_37">
<g>
<use href="#m1504cfccaf" x="632.034783" y="576.72" style="stroke: #000000; stroke-width: 0.8"/>
</g>
</g>
<g id="text_44">
<text style="font-size: 10px; font-family: 'Liberation Sans', sans-serif; text-anchor: middle" x="632.034783" y="591.318438" transform="rotate(-0 632.034783 591.318438)" textLength="19.09" lengthAdjust="spacingAndGlyphs">400</text>
</g>
</g>
<g id="xtick_32">
<g id="line2d_38">
<g>
<use href="#m1504cfccaf" x="668.426087" y="576.72" style="stroke: #000000; stroke-width: 0.8"/>
</g>
</g>
<g id="text_45">
<text style="font-size: 10px; font-family: 'Liberation Sans', sans-serif; text-anchor: middle" x="668.426087" y="591.318438" transform="rotate(-0 668.426087 591.318438)" textLength="19.09" lengthAdjust="spacingAndGlyphs">500</text>
</g>
</g>
<g id="xtick_33">
<g id="line2d_39">
<g>
<use href="#m1504cfccaf" x="704.817391" y="576.72" style="stroke: #000000; stroke-width: 0.8"/>
</g>
</g>
<g id="text_46">
<text style="font-size: 10px; font-family: 'Liberation Sans', sans-serif; text-anchor: middle" x="704.817391" y="591.318438" transform="rotate(-0 704.817391 591.318438)" textLength="19.09" lengthAdjust="spacingAndGlyphs">600</text>
</g>
</g>
<g id="xtick_34">
<g id="line2d_40">
<g>
<use href="#m1504cfccaf" x="741.208696" y="576.72" style="stroke: #000000; stroke-width: 0.8"/>
</g>
</g>
<g id="text_47">
<text style="font-size: 10px; font-family: 'Liberation Sans', sans-serif; text-anchor: middle" x="741.208696" y="591.318438" transform="rotate(-0 741.208696 591.318438)" textLength="19.09" lengthAdjust="spacingAndGlyphs">700</text>
</g>
</g>
<g id="xtick_35">
<g id="line2d_41">
<g>
<use href="#m1504cfccaf" x="777.6" y="576.72" style="stroke: #000000; stroke-width: 0.8"/>
</g>
</g>
<g id="text_48">
<text style="font-size: 10px; font-family: 'Liberation Sans', sans-serif; text-anchor: middle" x="777.6" y="591.318438" transform="rotate(-0 777.6 591.318438)" textLength="19.09" lengthAdjust="spacingAndGlyphs">800</text>
</g>
</g>
</g>
<g id="matplotlib.axis_4">
<g id="ytick_4">
<g id="line2d_42">
<g>
<use href="#m5d545ce8f8" x="486.469565" y="576.72" style="stroke: #000000; stroke-width: 0.8"/>
</g>
</g>
<g id="text_49">
<text style="font-size: 10px; font-family: 'Liberation Sans', sans-serif; text-anchor: end" x="479.469565" y="580.519219" transform="rotate(-0 479.469565 580.519219)" textLength="6.36" lengthAdjust="spacingAndGlyphs">0</text>
</g>
</g>
<g id="ytick_5">
<g id="line2d_43">
<g>
<use href="#m5d545ce8f8" x="486.469565" y="544.891467" style="stroke: #000000; stroke-width: 0.8"/>
</g>
</g>
<g id="text_50">
<text style="font-size: 10px; font-family: 'Liberation Sans', sans-serif; text-anchor: end" x="479.469565" y="548.690686" transform="rotate(-0 479.469565 548.690686)" textLength="25.45" lengthAdjust="spacingAndGlyphs">2000</text>
</g>
</g>
<g id="ytick_6">
<g id="line2d_44">
<g>
<use href="#m5d545ce8f8" x="486.469565" y="513.062934" style="stroke: #000000; stroke-width: 0.8"/>
</g>
</g>
<g id="text_51">
<text style="font-size: 10px; font-family: 'Liberation Sans', sans-serif; text-anchor: end" x="479.469565" y="516.862152" transform="rotate(-0 479.469565 516.862152)" textLength="25.45" lengthAdjust="spacingAndGlyphs">4000</text>
</g>
</g>
</g>
<g id="patch_15">
<path d="M 486.469565 576.72
L 486.469565 481.68
" style="fill: none; stroke: #000000; stroke-width: 0.8; stroke-linejoin: miter; stroke-linecap: square"/>
</g>
<g id="patch_16">
<path d="M 777.6 576.72
L 777.6 481.68
" style="fill: none; stroke: #000000; stroke-width: 0.8; stroke-linejoin: miter; stroke-linecap: square"/>
</g>
<g id="patch_17">
<path d="M 486.469565 576.72
L 777.6 576.72
" style="fill: none; stroke: #000000; stroke-width: 0.8; stroke-linejoin: miter; stroke-linecap: square"/>
</g>
<g id="patch_18">
<path d="M 486.469565 481.68
L 777.6 481.68
" style="fill: none; stroke: #000000; stroke-width: 0.8; stroke-linejoin: miter; stroke-linecap: square"/>
</g>
<g id="text_52">
<text style="font-size: 12px; font-family: 'Liberation Sans', sans-serif; text-anchor: middle" x="632.034783" y="475.68" transform="rotate(-0 632.034783 475.68)" textLength="105.73" lengthAdjust="spacingAndGlyphs">Height Histogram</text>
</g>
<g id="legend_3">
<g id="patch_19">
<path d="M 493.469565 504.358125
L 558.527378 504.358125
Q 560.527378 504.358125 560.527378 502.358125
L 560.527378 488.68
Q 560.527378 486.68 558.527378 486.68
L 493.469565 486.68
Q 491.469565 486.68 491.469565 488.68
L 491.469565 502.358125
Q 491.469565 504.358125 493.469565 504.358125
z
" style="fill: #ffffff; opacity: 0.8; stroke: #cccccc; stroke-linejoin: miter"/>
</g>
<g id="patch_20">
<path d="M 495.469565 498.278437
L 515.469565 498.278437
L 515.469565 491.278437
L 495.469565 491.278437
z
" style="fill: #0000ff"/>
</g>
<g id="text_53">
<text style="font-size: 10px; font-family: 'Liberation Sans', sans-serif; text-anchor: start" x="523.469565" y="498.278437" transform="rotate(-0 523.469565 498.278437)" textLength="33.06" lengthAdjust="spacingAndGlyphs">Height</text>
</g>
</g>
</g>
</g>
<defs>
<clipPath id="pcbff7d88e8">
<rect x="252.72" y="77.76" width="380.16" height="380.16"/>
</clipPath>
<clipPath id="p5cf67868f8">
<rect x="205.869087" y="481.68" width="95.392261" height="95.04"/>
</clipPath>
<clipPath id="p1ca3901ace">
<rect x="486.469565" y="481.68" width="291.130435" height="95.04"/>
</clipPath>
</defs>
</svg>

</body></html>
